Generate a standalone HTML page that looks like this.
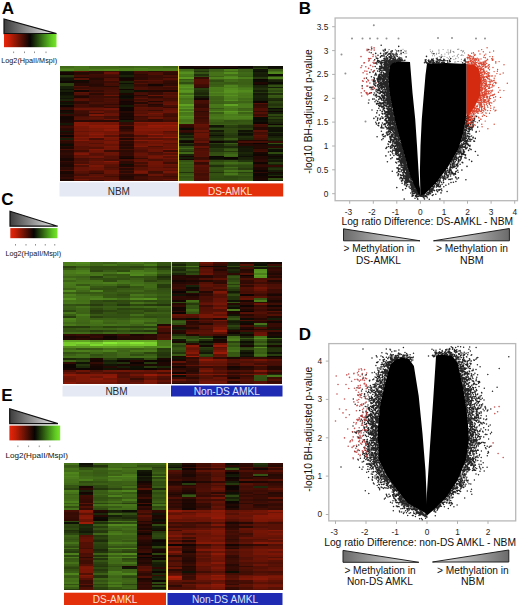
<!DOCTYPE html>
<html><head><meta charset="utf-8"><style>
html,body{margin:0;padding:0;background:#fff}
body{width:520px;height:607px;position:relative;overflow:hidden}
.h{position:absolute}
svg{position:absolute;left:0;top:0}
</style></head><body>
<div class="h" style="left:59.50px;top:66.20px;width:15.41px;height:114.50px;background:linear-gradient(#406918 0 1.5px,#48781b 0 3px,#4f831d 0 4.5px,#1d2a0a 0 6px,#180603 0 7.5px,#100503 0 9px,#25380d 0 10.5px,#192209 0 12px,#111406 0 13.5px,#101105 0 15px,#0f0503 0 16.5px,#2a400f 0 18px,#2a410f 0 19.5px,#181f08 0 21px,#161d08 0 22.5px,#0f1005 0 24px,#181f08 0 25.5px,#0d0c04 0 27px,#0e0f05 0 28.5px,#131706 0 30px,#171e08 0 31.5px,#111406 0 33px,#1a2409 0 34.5px,#210803 0 36px,#0f1105 0 37.5px,#151b07 0 39px,#0d0503 0 40.5px,#2e0a04 0 42px,#350b04 0 43.5px,#0d0c04 0 45px,#1b0703 0 46.5px,#141907 0 48px,#340b04 0 49.5px,#140603 0 51px,#120603 0 52.5px,#140603 0 54px,#170603 0 55.5px,#1f0803 0 57px,#141807 0 58.5px,#290904 0 60px,#3c0c04 0 61.5px,#2b0904 0 63px,#280903 0 64.5px,#121606 0 66px,#200803 0 67.5px,#340b04 0 69px,#0d0503 0 70.5px,#350b04 0 72px,#161c07 0 73.5px,#3b0c04 0 75px,#2b0a04 0 76.5px,#200803 0 78px,#0c0b04 0 79.5px,#270903 0 81px,#1c0703 0 82.5px,#490e05 0 84px,#290904 0 85.5px,#2e0a04 0 87px,#320b04 0 88.5px,#2a0904 0 90px,#280903 0 91.5px,#1a0703 0 93px,#180703 0 94.5px,#340b04 0 96px,#230803 0 97.5px,#1f0803 0 99px,#1b0703 0 100.5px,#300a04 0 102px,#2d0a04 0 103.5px,#470e05 0 105px,#1c0703 0 106.5px,#180703 0 108px,#280903 0 109.5px,#230803 0 111px,#340b04 0 112.5px,#1d0703 0 114px,#200803 0 114.5px)"></div>
<div class="h" style="left:74.31px;top:66.20px;width:15.41px;height:114.50px;background:linear-gradient(#47751a 0 1.5px,#49781b 0 3px,#48771b 0 4.5px,#581105 0 6px,#250903 0 7.5px,#2b0a04 0 9px,#430d04 0 10.5px,#210803 0 12px,#571105 0 13.5px,#0d0d04 0 15px,#190703 0 16.5px,#250903 0 18px,#270903 0 19.5px,#4d0f05 0 21px,#390c04 0 22.5px,#521005 0 24px,#140603 0 25.5px,#5e1205 0 27px,#501005 0 28.5px,#330b04 0 30px,#210803 0 31.5px,#4e0f05 0 33px,#591105 0 34.5px,#310b04 0 36px,#2f0a04 0 37.5px,#490e05 0 39px,#410d04 0 40.5px,#4b0f05 0 42px,#691306 0 43.5px,#470e05 0 45px,#400d04 0 46.5px,#3d0c04 0 48px,#360b04 0 49.5px,#490e05 0 51px,#531005 0 52.5px,#571105 0 54px,#2a0904 0 55.5px,#891907 0 57px,#831807 0 58.5px,#881807 0 60px,#781606 0 61.5px,#721506 0 63px,#771606 0 64.5px,#651306 0 66px,#771606 0 67.5px,#751506 0 69px,#6b1406 0 70.5px,#841807 0 72px,#711506 0 73.5px,#851807 0 75px,#611205 0 76.5px,#651306 0 78px,#641306 0 79.5px,#561005 0 81px,#581105 0 82.5px,#5d1105 0 84px,#430d04 0 85.5px,#691406 0 87px,#801706 0 88.5px,#5e1205 0 90px,#631306 0 91.5px,#460e05 0 93px,#490e05 0 94.5px,#531005 0 96px,#4c0f05 0 97.5px,#781606 0 99px,#4e0f05 0 100.5px,#641306 0 102px,#651306 0 103.5px,#671306 0 105px,#581105 0 106.5px,#4f0f05 0 108px,#420d04 0 109.5px,#611205 0 111px,#551005 0 112.5px,#701506 0 114px,#4f0f05 0 114.5px)"></div>
<div class="h" style="left:89.12px;top:66.20px;width:15.41px;height:114.50px;background:linear-gradient(#406918 0 1.5px,#447019 0 3px,#4d7f1c 0 4.5px,#310b04 0 6px,#2e0a04 0 7.5px,#3f0d04 0 9px,#3a0c04 0 10.5px,#340b04 0 12px,#250903 0 13.5px,#310b04 0 15px,#300a04 0 16.5px,#2e0a04 0 18px,#260903 0 19.5px,#2b0a04 0 21px,#3e0d04 0 22.5px,#430d04 0 24px,#340b04 0 25.5px,#4a0e05 0 27px,#2c0a04 0 28.5px,#420d04 0 30px,#3d0c04 0 31.5px,#420d04 0 33px,#440d04 0 34.5px,#3d0c04 0 36px,#4a0f05 0 37.5px,#390c04 0 39px,#350b04 0 40.5px,#4f0f05 0 42px,#661306 0 43.5px,#500f05 0 45px,#681306 0 46.5px,#3d0c04 0 48px,#7f1706 0 49.5px,#4f0f05 0 51px,#5e1205 0 52.5px,#551005 0 54px,#2a0904 0 55.5px,#7b1606 0 57px,#791606 0 58.5px,#911a07 0 60px,#8a1907 0 61.5px,#7c1706 0 63px,#7d1706 0 64.5px,#731506 0 66px,#811707 0 67.5px,#8e1907 0 69px,#7a1606 0 70.5px,#8c1907 0 72px,#480e05 0 73.5px,#6c1406 0 75px,#681306 0 76.5px,#541005 0 78px,#6a1406 0 79.5px,#641306 0 81px,#521005 0 82.5px,#821707 0 84px,#721506 0 85.5px,#6e1406 0 87px,#561005 0 88.5px,#591105 0 90px,#6f1406 0 91.5px,#4e0f05 0 93px,#581105 0 94.5px,#6c1406 0 96px,#641306 0 97.5px,#601205 0 99px,#791606 0 100.5px,#6d1406 0 102px,#701506 0 103.5px,#5c1105 0 105px,#470e05 0 106.5px,#350b04 0 108px,#5a1105 0 109.5px,#661306 0 111px,#561005 0 112.5px,#5d1205 0 114px,#310b04 0 114.5px)"></div>
<div class="h" style="left:103.94px;top:66.20px;width:15.41px;height:114.50px;background:linear-gradient(#406817 0 1.5px,#457119 0 3px,#4f841d 0 4.5px,#3e0d04 0 6px,#691306 0 7.5px,#4b0f05 0 9px,#410d04 0 10.5px,#370b04 0 12px,#4e0f05 0 13.5px,#571105 0 15px,#3b0c04 0 16.5px,#4a0e05 0 18px,#440e04 0 19.5px,#250903 0 21px,#430d04 0 22.5px,#440e04 0 24px,#470e05 0 25.5px,#4f0f05 0 27px,#450e04 0 28.5px,#6b1406 0 30px,#390c04 0 31.5px,#501005 0 33px,#4a0e05 0 34.5px,#500f05 0 36px,#470e05 0 37.5px,#340b04 0 39px,#4a0e05 0 40.5px,#350b04 0 42px,#6f1406 0 43.5px,#581105 0 45px,#551005 0 46.5px,#641306 0 48px,#681306 0 49.5px,#450e04 0 51px,#490e05 0 52.5px,#6e1406 0 54px,#2a0904 0 55.5px,#791606 0 57px,#751506 0 58.5px,#961b07 0 60px,#8d1907 0 61.5px,#811707 0 63px,#8f1a07 0 64.5px,#751506 0 66px,#751506 0 67.5px,#801706 0 69px,#5a1105 0 70.5px,#7d1706 0 72px,#741506 0 73.5px,#651306 0 75px,#791606 0 76.5px,#751506 0 78px,#661306 0 79.5px,#791606 0 81px,#711506 0 82.5px,#711506 0 84px,#3b0c04 0 85.5px,#6d1406 0 87px,#6a1406 0 88.5px,#5f1205 0 90px,#541005 0 91.5px,#561005 0 93px,#470e05 0 94.5px,#881807 0 96px,#6d1406 0 97.5px,#5d1105 0 99px,#581105 0 100.5px,#4c0f05 0 102px,#581105 0 103.5px,#6b1406 0 105px,#6a1406 0 106.5px,#671306 0 108px,#551005 0 109.5px,#440d04 0 111px,#581105 0 112.5px,#5e1205 0 114px,#611205 0 114.5px)"></div>
<div class="h" style="left:118.75px;top:66.20px;width:15.41px;height:114.50px;background:linear-gradient(#3d6316 0 1.5px,#48771a 0 3px,#4a7b1b 0 4.5px,#161c07 0 6px,#101205 0 7.5px,#101205 0 9px,#1a2409 0 10.5px,#0e0e04 0 12px,#130603 0 13.5px,#1c0703 0 15px,#1c270a 0 16.5px,#0e0e05 0 18px,#192309 0 19.5px,#1b2509 0 21px,#1d290a 0 22.5px,#120603 0 24px,#182008 0 25.5px,#171e08 0 27px,#1c0703 0 28.5px,#0e0e04 0 30px,#0c0a04 0 31.5px,#111305 0 33px,#230803 0 34.5px,#120503 0 36px,#170603 0 37.5px,#150603 0 39px,#151a07 0 40.5px,#0f0503 0 42px,#100503 0 43.5px,#0c0503 0 45px,#270903 0 46.5px,#170603 0 48px,#1a0703 0 49.5px,#160603 0 51px,#1b0703 0 52.5px,#100503 0 54px,#161d08 0 55.5px,#340b04 0 57px,#340b04 0 58.5px,#561005 0 60px,#2a0904 0 61.5px,#230803 0 63px,#340b04 0 64.5px,#3f0d04 0 66px,#531005 0 67.5px,#370b04 0 69px,#2f0a04 0 70.5px,#571105 0 72px,#210803 0 73.5px,#501005 0 75px,#2c0a04 0 76.5px,#310a04 0 78px,#230803 0 79.5px,#350b04 0 81px,#250903 0 82.5px,#450e04 0 84px,#2b0a04 0 85.5px,#330b04 0 87px,#340b04 0 88.5px,#350b04 0 90px,#1f0803 0 91.5px,#120603 0 93px,#480e05 0 94.5px,#2e0a04 0 96px,#2e0a04 0 97.5px,#0e0e04 0 99px,#1f0803 0 100.5px,#480e05 0 102px,#280903 0 103.5px,#3e0d04 0 105px,#2b0904 0 106.5px,#440e04 0 108px,#2b0904 0 109.5px,#210803 0 111px,#260903 0 112.5px,#2d0a04 0 114px,#430d04 0 114.5px)"></div>
<div class="h" style="left:133.56px;top:66.20px;width:15.41px;height:114.50px;background:linear-gradient(#3f6817 0 1.5px,#4c7e1c 0 3px,#4b7d1c 0 4.5px,#480e05 0 6px,#3e0d04 0 7.5px,#2c0a04 0 9px,#330b04 0 10.5px,#2b0a04 0 12px,#2d0a04 0 13.5px,#571105 0 15px,#3a0c04 0 16.5px,#521005 0 18px,#350b04 0 19.5px,#3c0c04 0 21px,#4c0f05 0 22.5px,#4a0f05 0 24px,#0f0f05 0 25.5px,#440e04 0 27px,#490e05 0 28.5px,#290904 0 30px,#410d04 0 31.5px,#5b1105 0 33px,#400d04 0 34.5px,#531005 0 36px,#270903 0 37.5px,#511005 0 39px,#430d04 0 40.5px,#5e1205 0 42px,#591105 0 43.5px,#511005 0 45px,#591105 0 46.5px,#521005 0 48px,#641306 0 49.5px,#3d0c04 0 51px,#460e04 0 52.5px,#4a0e05 0 54px,#390c04 0 55.5px,#871807 0 57px,#741506 0 58.5px,#7c1706 0 60px,#851807 0 61.5px,#7e1706 0 63px,#851807 0 64.5px,#7b1606 0 66px,#7b1606 0 67.5px,#7a1606 0 69px,#4f0f05 0 70.5px,#731506 0 72px,#5e1205 0 73.5px,#881807 0 75px,#5e1205 0 76.5px,#681306 0 78px,#701506 0 79.5px,#7d1706 0 81px,#5b1105 0 82.5px,#561005 0 84px,#4d0f05 0 85.5px,#591105 0 87px,#661306 0 88.5px,#651306 0 90px,#591105 0 91.5px,#390c04 0 93px,#601205 0 94.5px,#681306 0 96px,#440e04 0 97.5px,#5c1105 0 99px,#430d04 0 100.5px,#5a1105 0 102px,#571105 0 103.5px,#661306 0 105px,#7a1606 0 106.5px,#6c1406 0 108px,#2f0a04 0 109.5px,#3d0c04 0 111px,#430d04 0 112.5px,#3c0c04 0 114px,#440e04 0 114.5px)"></div>
<div class="h" style="left:148.38px;top:66.20px;width:15.41px;height:114.50px;background:linear-gradient(#426c18 0 1.5px,#47741a 0 3px,#4b7c1c 0 4.5px,#2e0a04 0 6px,#4c0f05 0 7.5px,#4f0f05 0 9px,#390c04 0 10.5px,#380c04 0 12px,#3f0d04 0 13.5px,#561005 0 15px,#470e05 0 16.5px,#3e0d04 0 18px,#160603 0 19.5px,#360b04 0 21px,#3f0d04 0 22.5px,#440e04 0 24px,#220803 0 25.5px,#370b04 0 27px,#360b04 0 28.5px,#6a1406 0 30px,#2f0a04 0 31.5px,#440e04 0 33px,#4f0f05 0 34.5px,#220803 0 36px,#480e05 0 37.5px,#230803 0 39px,#2f0a04 0 40.5px,#591105 0 42px,#561005 0 43.5px,#390c04 0 45px,#5e1205 0 46.5px,#741506 0 48px,#631306 0 49.5px,#521005 0 51px,#6a1406 0 52.5px,#320b04 0 54px,#330b04 0 55.5px,#891907 0 57px,#7f1706 0 58.5px,#991b07 0 60px,#8e1907 0 61.5px,#7e1706 0 63px,#851807 0 64.5px,#781606 0 66px,#741506 0 67.5px,#931a07 0 69px,#641306 0 70.5px,#851807 0 72px,#591105 0 73.5px,#831807 0 75px,#701506 0 76.5px,#6b1406 0 78px,#761606 0 79.5px,#4c0f05 0 81px,#621205 0 82.5px,#6d1406 0 84px,#681306 0 85.5px,#490e05 0 87px,#511005 0 88.5px,#6b1406 0 90px,#741506 0 91.5px,#691306 0 93px,#4a0f05 0 94.5px,#701506 0 96px,#701506 0 97.5px,#701506 0 99px,#6b1406 0 100.5px,#5f1205 0 102px,#691306 0 103.5px,#661306 0 105px,#3e0d04 0 106.5px,#460e05 0 108px,#671306 0 109.5px,#470e05 0 111px,#500f05 0 112.5px,#521005 0 114px,#420d04 0 114.5px)"></div>
<div class="h" style="left:163.19px;top:66.20px;width:15.41px;height:114.50px;background:linear-gradient(#3c6216 0 1.5px,#46741a 0 3px,#4a7a1b 0 4.5px,#3f0d04 0 6px,#320b04 0 7.5px,#2e0a04 0 9px,#4a0f05 0 10.5px,#370b04 0 12px,#551005 0 13.5px,#3d0c04 0 15px,#320b04 0 16.5px,#2b0a04 0 18px,#300a04 0 19.5px,#531005 0 21px,#3a0c04 0 22.5px,#410d04 0 24px,#1f0803 0 25.5px,#5a1105 0 27px,#4b0f05 0 28.5px,#5b1105 0 30px,#4f0f05 0 31.5px,#3f0d04 0 33px,#450e04 0 34.5px,#561005 0 36px,#601205 0 37.5px,#691306 0 39px,#470e05 0 40.5px,#370b04 0 42px,#5f1205 0 43.5px,#681306 0 45px,#691406 0 46.5px,#490e05 0 48px,#440d04 0 49.5px,#3d0c04 0 51px,#521005 0 52.5px,#4b0f05 0 54px,#400d04 0 55.5px,#8a1907 0 57px,#7f1706 0 58.5px,#991b07 0 60px,#891907 0 61.5px,#821707 0 63px,#851807 0 64.5px,#5a1105 0 66px,#671306 0 67.5px,#771606 0 69px,#701506 0 70.5px,#921a07 0 72px,#5e1205 0 73.5px,#6c1406 0 75px,#771606 0 76.5px,#5a1105 0 78px,#681306 0 79.5px,#6d1406 0 81px,#661306 0 82.5px,#801706 0 84px,#3c0c04 0 85.5px,#751506 0 87px,#581105 0 88.5px,#791606 0 90px,#5a1105 0 91.5px,#6e1406 0 93px,#5b1105 0 94.5px,#5a1105 0 96px,#3f0d04 0 97.5px,#6b1406 0 99px,#5f1205 0 100.5px,#500f05 0 102px,#681306 0 103.5px,#5b1105 0 105px,#761606 0 106.5px,#591105 0 108px,#500f05 0 109.5px,#3a0c04 0 111px,#4c0f05 0 112.5px,#631205 0 114px,#480e05 0 114.5px)"></div>
<div class="h" style="left:179.30px;top:66.20px;width:15.39px;height:114.50px;background:linear-gradient(#130603 0 1.6px,#101205 0 3.2px,#426c18 0 4.8px,#4b7d1c 0 6.4px,#558f20 0 8px,#4b7c1c 0 9.6px,#47761a 0 11.2px,#5a9721 0 12.8px,#385914 0 14.4px,#416a18 0 16px,#314e12 0 17.6px,#46741a 0 19.2px,#538b1f 0 20.8px,#599621 0 22.4px,#4f831d 0 24px,#599521 0 25.6px,#558e1f 0 27.2px,#426c18 0 28.8px,#579120 0 30.4px,#4e811d 0 32px,#457219 0 33.6px,#4a7b1b 0 35.2px,#49791b 0 36.8px,#48771b 0 38.4px,#5fa023 0 40px,#50861e 0 41.6px,#589421 0 43.2px,#46741a 0 44.8px,#599621 0 46.4px,#47751a 0 48px,#4a7b1b 0 49.6px,#569020 0 51.2px,#50861e 0 52.8px,#47751a 0 54.4px,#46731a 0 56px,#4c7e1c 0 57.6px,#3f0d04 0 59.2px,#340b04 0 60.8px,#290904 0 62.4px,#0d0c04 0 64px,#380c04 0 65.6px,#2e0a04 0 67.2px,#121506 0 68.8px,#21300c 0 70.4px,#181f08 0 72px,#293f0f 0 73.6px,#101205 0 75.2px,#120603 0 76.8px,#25380d 0 78.4px,#161d08 0 80px,#304c12 0 81.6px,#3f6717 0 83.2px,#2e4811 0 84.8px,#24360d 0 86.4px,#416a18 0 88px,#192209 0 89.6px,#170603 0 91.2px,#161d08 0 92.8px,#190703 0 94.4px,#335113 0 96px,#3c6116 0 97.6px,#355513 0 99.2px,#395c15 0 100.8px,#335112 0 102.4px,#375914 0 104px,#385914 0 105.6px,#22330c 0 107.2px,#385914 0 108.8px,#3f6617 0 110.4px,#345313 0 112px,#385914 0 113.6px,#446f19 0 114.5px)"></div>
<div class="h" style="left:194.09px;top:66.20px;width:15.39px;height:114.50px;background:linear-gradient(#1b0703 0 1.6px,#100503 0 3.2px,#2c4410 0 4.8px,#23340c 0 6.4px,#355413 0 8px,#21300c 0 9.6px,#2d4610 0 11.2px,#350b04 0 12.8px,#551005 0 14.4px,#531005 0 16px,#541005 0 17.6px,#440d04 0 19.2px,#3d0c04 0 20.8px,#300a04 0 22.4px,#283d0e 0 24px,#22330c 0 25.6px,#1e2a0a 0 27.2px,#1b2609 0 28.8px,#273b0e 0 30.4px,#151b07 0 32px,#150603 0 33.6px,#460e05 0 35.2px,#470e05 0 36.8px,#420d04 0 38.4px,#350b04 0 40px,#330b04 0 41.6px,#4c0f05 0 43.2px,#460e05 0 44.8px,#300a04 0 46.4px,#3f0d04 0 48px,#3e0d04 0 49.6px,#4d0f05 0 51.2px,#3a0c04 0 52.8px,#440e04 0 54.4px,#440e04 0 56px,#4c0f05 0 57.6px,#661306 0 59.2px,#611205 0 60.8px,#591105 0 62.4px,#531005 0 64px,#691406 0 65.6px,#501005 0 67.2px,#6a1406 0 68.8px,#681306 0 70.4px,#661306 0 72px,#581105 0 73.6px,#500f05 0 75.2px,#651306 0 76.8px,#380c04 0 78.4px,#3d0c04 0 80px,#631205 0 81.6px,#450e04 0 83.2px,#500f05 0 84.8px,#571105 0 86.4px,#541005 0 88px,#531005 0 89.6px,#581105 0 91.2px,#390c04 0 92.8px,#3f0d04 0 94.4px,#681306 0 96px,#360b04 0 97.6px,#3f0d04 0 99.2px,#5b1105 0 100.8px,#501005 0 102.4px,#521005 0 104px,#4d0f05 0 105.6px,#531005 0 107.2px,#420d04 0 108.8px,#450e04 0 110.4px,#4c0f05 0 112px,#470e05 0 113.6px,#450e04 0 114.5px)"></div>
<div class="h" style="left:208.87px;top:66.20px;width:15.39px;height:114.50px;background:linear-gradient(#220803 0 1.6px,#0f1005 0 3.2px,#3b5f16 0 4.8px,#3d6316 0 6.4px,#46731a 0 8px,#457119 0 9.6px,#3c6116 0 11.2px,#4d801c 0 12.8px,#3c6116 0 14.4px,#314d12 0 16px,#3a5e15 0 17.6px,#375914 0 19.2px,#3b5f15 0 20.8px,#4b7c1c 0 22.4px,#4a7b1b 0 24px,#49781b 0 25.6px,#50851e 0 27.2px,#48771b 0 28.8px,#4c7e1c 0 30.4px,#3d6316 0 32px,#3b6016 0 33.6px,#3f6717 0 35.2px,#3c6116 0 36.8px,#3a5e15 0 38.4px,#49781b 0 40px,#47751a 0 41.6px,#375814 0 43.2px,#416b18 0 44.8px,#51871e 0 46.4px,#395d15 0 48px,#457119 0 49.6px,#47751a 0 51.2px,#48781b 0 52.8px,#426b18 0 54.4px,#3c6116 0 56px,#365614 0 57.6px,#3c6016 0 59.2px,#121506 0 60.8px,#1c280a 0 62.4px,#2e4811 0 64px,#141907 0 65.6px,#22330c 0 67.2px,#1b2509 0 68.8px,#0f1005 0 70.4px,#1c280a 0 72px,#273b0e 0 73.6px,#1d290a 0 75.2px,#100503 0 76.8px,#293f0f 0 78.4px,#1a2409 0 80px,#1b2609 0 81.6px,#283d0e 0 83.2px,#26390e 0 84.8px,#24360d 0 86.4px,#314d12 0 88px,#335012 0 89.6px,#0d0503 0 91.2px,#0d0c04 0 92.8px,#151b07 0 94.4px,#2d4610 0 96px,#385a15 0 97.6px,#314e12 0 99.2px,#21300c 0 100.8px,#335012 0 102.4px,#345213 0 104px,#324f12 0 105.6px,#23340c 0 107.2px,#345313 0 108.8px,#345313 0 110.4px,#324f12 0 112px,#304b11 0 113.6px,#3e6417 0 114.5px)"></div>
<div class="h" style="left:223.66px;top:66.20px;width:15.39px;height:114.50px;background:linear-gradient(#1b0703 0 1.6px,#0c0503 0 3.2px,#4c7e1c 0 4.8px,#426c18 0 6.4px,#548e1f 0 8px,#436d18 0 9.6px,#4e821d 0 11.2px,#538c1f 0 12.8px,#406817 0 14.4px,#416b18 0 16px,#375914 0 17.6px,#3f6717 0 19.2px,#4f831d 0 20.8px,#4c7f1c 0 22.4px,#538b1f 0 24px,#579220 0 25.6px,#579120 0 27.2px,#4e821d 0 28.8px,#569120 0 30.4px,#4e811d 0 32px,#4b7c1c 0 33.6px,#548d1f 0 35.2px,#3f6717 0 36.8px,#3e6517 0 38.4px,#60a224 0 40px,#4c7f1c 0 41.6px,#46741a 0 43.2px,#48771a 0 44.8px,#5c9b22 0 46.4px,#538b1f 0 48px,#4b7c1c 0 49.6px,#4e821d 0 51.2px,#4d801c 0 52.8px,#48761a 0 54.4px,#335113 0 56px,#365714 0 57.6px,#3a5e15 0 59.2px,#2b420f 0 60.8px,#273c0e 0 62.4px,#2f4911 0 64px,#2e4711 0 65.6px,#2f4911 0 67.2px,#293e0f 0 68.8px,#24360d 0 70.4px,#263a0e 0 72px,#385914 0 73.6px,#22320c 0 75.2px,#131807 0 76.8px,#395d15 0 78.4px,#2a400f 0 80px,#1e2b0b 0 81.6px,#314e12 0 83.2px,#385914 0 84.8px,#26390d 0 86.4px,#395c15 0 88px,#3f6817 0 89.6px,#3c6216 0 91.2px,#0c0503 0 92.8px,#111305 0 94.4px,#335113 0 96px,#446f19 0 97.6px,#395b15 0 99.2px,#304c11 0 100.8px,#416b18 0 102.4px,#375814 0 104px,#47751a 0 105.6px,#365614 0 107.2px,#48761a 0 108.8px,#3b5f15 0 110.4px,#2e4811 0 112px,#304b11 0 113.6px,#3b5f15 0 114.5px)"></div>
<div class="h" style="left:238.44px;top:66.20px;width:15.39px;height:114.50px;background:linear-gradient(#0e0503 0 1.6px,#141a07 0 3.2px,#3c6116 0 4.8px,#3a5e15 0 6.4px,#406918 0 8px,#3e6617 0 9.6px,#395d15 0 11.2px,#4b7c1c 0 12.8px,#3b5f15 0 14.4px,#3b6016 0 16px,#3b5f15 0 17.6px,#3c6116 0 19.2px,#3f6717 0 20.8px,#46741a 0 22.4px,#4b7c1c 0 24px,#528a1e 0 25.6px,#4e821d 0 27.2px,#49791b 0 28.8px,#47751a 0 30.4px,#49781b 0 32px,#406918 0 33.6px,#457119 0 35.2px,#3d6316 0 36.8px,#45721a 0 38.4px,#4a7b1b 0 40px,#4a7a1b 0 41.6px,#3c6016 0 43.2px,#3e6517 0 44.8px,#51871e 0 46.4px,#3c6216 0 48px,#46731a 0 49.6px,#4f831d 0 51.2px,#4c7e1c 0 52.8px,#447019 0 54.4px,#355513 0 56px,#375914 0 57.6px,#335012 0 59.2px,#23340c 0 60.8px,#22320c 0 62.4px,#2b420f 0 64px,#101205 0 65.6px,#1a2409 0 67.2px,#0f1005 0 68.8px,#131806 0 70.4px,#202e0b 0 72px,#1b2609 0 73.6px,#220803 0 75.2px,#490e05 0 76.8px,#1c0703 0 78.4px,#270903 0 80px,#121506 0 81.6px,#151b07 0 83.2px,#141a07 0 84.8px,#141907 0 86.4px,#1b2609 0 88px,#151c07 0 89.6px,#0f0f05 0 91.2px,#192108 0 92.8px,#1a2409 0 94.4px,#23350d 0 96px,#3d6416 0 97.6px,#345213 0 99.2px,#2f4a11 0 100.8px,#2e4811 0 102.4px,#273b0e 0 104px,#416a18 0 105.6px,#293f0f 0 107.2px,#375814 0 108.8px,#3b5f15 0 110.4px,#314e12 0 112px,#345213 0 113.6px,#3e6517 0 114.5px)"></div>
<div class="h" style="left:253.23px;top:66.20px;width:15.39px;height:114.50px;background:linear-gradient(#1a2309 0 1.6px,#283e0e 0 3.2px,#121606 0 4.8px,#0f1005 0 6.4px,#182008 0 8px,#151b07 0 9.6px,#171e08 0 11.2px,#26390e 0 12.8px,#0e0503 0 14.4px,#0d0c04 0 16px,#220803 0 17.6px,#140603 0 19.2px,#192209 0 20.8px,#1b2609 0 22.4px,#22310c 0 24px,#171e08 0 25.6px,#24360d 0 27.2px,#141907 0 28.8px,#1a2309 0 30.4px,#192309 0 32px,#151c07 0 33.6px,#131807 0 35.2px,#0e0503 0 36.8px,#551005 0 38.4px,#350b04 0 40px,#390c04 0 41.6px,#500f05 0 43.2px,#511005 0 44.8px,#350b04 0 46.4px,#541005 0 48px,#3b0c04 0 49.6px,#541005 0 51.2px,#0c0b04 0 52.8px,#0c0a04 0 54.4px,#0e0f05 0 56px,#0f0503 0 57.6px,#4c0f05 0 59.2px,#420d04 0 60.8px,#290904 0 62.4px,#280903 0 64px,#5b1105 0 65.6px,#3f0d04 0 67.2px,#470e05 0 68.8px,#5d1105 0 70.4px,#521005 0 72px,#470e05 0 73.6px,#200803 0 75.2px,#470e05 0 76.8px,#0d0503 0 78.4px,#240803 0 80px,#250903 0 81.6px,#220803 0 83.2px,#3a0c04 0 84.8px,#440e04 0 86.4px,#180703 0 88px,#120603 0 89.6px,#260903 0 91.2px,#230803 0 92.8px,#2a0904 0 94.4px,#300a04 0 96px,#120603 0 97.6px,#2c0a04 0 99.2px,#330b04 0 100.8px,#210803 0 102.4px,#1f0803 0 104px,#100503 0 105.6px,#2f0a04 0 107.2px,#110503 0 108.8px,#0f0503 0 110.4px,#180603 0 112px,#1c0703 0 113.6px,#120603 0 114.5px)"></div>
<div class="h" style="left:268.01px;top:66.20px;width:15.39px;height:114.50px;background:linear-gradient(#0c0b04 0 1.6px,#111406 0 3.2px,#385a14 0 4.8px,#447019 0 6.4px,#50851e 0 8px,#0c0b04 0 9.6px,#2e4711 0 11.2px,#4a7b1b 0 12.8px,#23330c 0 14.4px,#192209 0 16px,#0d0c04 0 17.6px,#1f2d0b 0 19.2px,#325012 0 20.8px,#161d08 0 22.4px,#365614 0 24px,#2e4811 0 25.6px,#3a5e15 0 27.2px,#21310c 0 28.8px,#395b15 0 30.4px,#355513 0 32px,#1f2c0b 0 33.6px,#1c270a 0 35.2px,#2c4510 0 36.8px,#263a0e 0 38.4px,#23340d 0 40px,#2b420f 0 41.6px,#0c0a04 0 43.2px,#171f08 0 44.8px,#100503 0 46.4px,#151c07 0 48px,#2e4711 0 49.6px,#1d290a 0 51.2px,#2b420f 0 52.8px,#1b2509 0 54.4px,#202e0b 0 56px,#1a2309 0 57.6px,#110503 0 59.2px,#2a410f 0 60.8px,#111306 0 62.4px,#101205 0 64px,#0f1005 0 65.6px,#1e2b0b 0 67.2px,#111406 0 68.8px,#0e0e04 0 70.4px,#182008 0 72px,#202f0b 0 73.6px,#182108 0 75.2px,#380c04 0 76.8px,#335012 0 78.4px,#121506 0 80px,#2c0a04 0 81.6px,#23340d 0 83.2px,#0e0f05 0 84.8px,#0d0c04 0 86.4px,#2f4a11 0 88px,#111406 0 89.6px,#130603 0 91.2px,#0f1105 0 92.8px,#192309 0 94.4px,#141807 0 96px,#263a0e 0 97.6px,#182108 0 99.2px,#340b04 0 100.8px,#1b2509 0 102.4px,#22320c 0 104px,#161c07 0 105.6px,#180603 0 107.2px,#111305 0 108.8px,#1e2b0b 0 110.4px,#120603 0 112px,#2f4a11 0 113.6px,#1c270a 0 114.5px)"></div>
<div class="h" style="left:177.9px;top:66.2px;width:1.1px;height:114.5px;background:#d6cf3c"></div>
<div class="h" style="left:62.50px;top:262.00px;width:14.11px;height:121.50px;background:linear-gradient(#4c7f1c 0 2px,#4c7f1c 0 4px,#2c4310 0 6px,#375814 0 8px,#49781b 0 10px,#4a7a1b 0 12px,#46731a 0 14px,#3d6416 0 16px,#48761a 0 18px,#3d6316 0 20px,#4a7b1b 0 22px,#47751a 0 24px,#46731a 0 26px,#3b6016 0 28px,#538a1f 0 30px,#3b5f15 0 32px,#4c7f1c 0 34px,#47751a 0 36px,#569020 0 38px,#457219 0 40px,#48761a 0 42px,#345213 0 44px,#3c6116 0 46px,#385b15 0 48px,#2e4811 0 50px,#48761a 0 52px,#395c15 0 54px,#293e0f 0 56px,#4e821d 0 58px,#4a7b1b 0 60px,#416b18 0 62px,#49781b 0 64px,#263a0e 0 66px,#355513 0 68px,#345213 0 70px,#406918 0 72px,#310b04 0 74px,#1a0703 0 76px,#200803 0 78px,#61a524 0 80px,#77cc2c 0 82px,#78ce2d 0 84px,#558e1f 0 86px,#426b18 0 88px,#4b7c1c 0 90px,#345213 0 92px,#3b6016 0 94px,#446f19 0 96px,#1c270a 0 98px,#3c6116 0 100px,#310b04 0 102px,#0f0503 0 104px,#0c0503 0 106px,#150603 0 108px,#4b0f05 0 110px,#641306 0 112px,#8d1907 0 114px,#721506 0 116px,#6e1406 0 118px,#741506 0 120px,#871807 0 121.5px)"></div>
<div class="h" style="left:76.01px;top:262.00px;width:14.11px;height:121.50px;background:linear-gradient(#52891e 0 2px,#4b7c1c 0 4px,#375914 0 6px,#426c18 0 8px,#4c7d1c 0 10px,#4f841d 0 12px,#447019 0 14px,#3b5f16 0 16px,#3f6717 0 18px,#447019 0 20px,#47751a 0 22px,#375814 0 24px,#4b7c1c 0 26px,#457119 0 28px,#3f6717 0 30px,#365614 0 32px,#416b18 0 34px,#45721a 0 36px,#46731a 0 38px,#436f19 0 40px,#46731a 0 42px,#314d12 0 44px,#447019 0 46px,#3e6517 0 48px,#3d6416 0 50px,#3c6116 0 52px,#4a7b1b 0 54px,#426c18 0 56px,#426b18 0 58px,#406817 0 60px,#3e6417 0 62px,#426c18 0 64px,#273b0e 0 66px,#395b15 0 68px,#325012 0 70px,#416a18 0 72px,#390c04 0 74px,#1f0803 0 76px,#2b0a04 0 78px,#60a224 0 80px,#7bd32e 0 82px,#6bb628 0 84px,#589521 0 86px,#375814 0 88px,#4d7f1c 0 90px,#375914 0 92px,#436e19 0 94px,#436e19 0 96px,#21310c 0 98px,#2d4610 0 100px,#111306 0 102px,#24350d 0 104px,#1c280a 0 106px,#0c0503 0 108px,#6c1406 0 110px,#4d0f05 0 112px,#831807 0 114px,#7e1706 0 116px,#7d1706 0 118px,#7e1706 0 120px,#731506 0 121.5px)"></div>
<div class="h" style="left:89.53px;top:262.00px;width:14.11px;height:121.50px;background:linear-gradient(#406918 0 2px,#406817 0 4px,#304b11 0 6px,#324f12 0 8px,#2e4710 0 10px,#46731a 0 12px,#47761a 0 14px,#29400f 0 16px,#335113 0 18px,#457219 0 20px,#47761a 0 22px,#416a18 0 24px,#375914 0 26px,#314d12 0 28px,#4f831d 0 30px,#375814 0 32px,#3d6216 0 34px,#48761a 0 36px,#4e811d 0 38px,#304c12 0 40px,#324e12 0 42px,#273b0e 0 44px,#375814 0 46px,#2e4711 0 48px,#273b0e 0 50px,#2a410f 0 52px,#375914 0 54px,#2a410f 0 56px,#3c6116 0 58px,#49781b 0 60px,#457219 0 62px,#436e19 0 64px,#355513 0 66px,#3d6316 0 68px,#273b0e 0 70px,#395c15 0 72px,#2b0a04 0 74px,#340b04 0 76px,#200803 0 78px,#558f20 0 80px,#72c32b 0 82px,#7dd82f 0 84px,#5a9822 0 86px,#385a14 0 88px,#46741a 0 90px,#3f6817 0 92px,#325012 0 94px,#375914 0 96px,#1d0703 0 98px,#160603 0 100px,#320b04 0 102px,#1c0703 0 104px,#150603 0 106px,#120603 0 108px,#4e0f05 0 110px,#5e1205 0 112px,#811707 0 114px,#6d1406 0 116px,#881807 0 118px,#7d1706 0 120px,#771606 0 121.5px)"></div>
<div class="h" style="left:103.04px;top:262.00px;width:14.11px;height:121.50px;background:linear-gradient(#3c6116 0 2px,#48761a 0 4px,#2f4911 0 6px,#335012 0 8px,#385b15 0 10px,#45721a 0 12px,#365714 0 14px,#3c6216 0 16px,#314e12 0 18px,#304c12 0 20px,#4c7e1c 0 22px,#426c18 0 24px,#345213 0 26px,#324f12 0 28px,#355413 0 30px,#395d15 0 32px,#365614 0 34px,#365614 0 36px,#4b7c1c 0 38px,#2b4310 0 40px,#355513 0 42px,#314d12 0 44px,#3a5d15 0 46px,#375714 0 48px,#2c4410 0 50px,#355513 0 52px,#345213 0 54px,#314d12 0 56px,#3c6216 0 58px,#406817 0 60px,#3b6016 0 62px,#46741a 0 64px,#2b420f 0 66px,#3c6216 0 68px,#2c4510 0 70px,#416a18 0 72px,#230803 0 74px,#120603 0 76px,#150603 0 78px,#63a725 0 80px,#87e933 0 82px,#73c52b 0 84px,#5e9f23 0 86px,#436d19 0 88px,#4e821d 0 90px,#395c15 0 92px,#385a14 0 94px,#3a5e15 0 96px,#2b420f 0 98px,#161d08 0 100px,#1d2a0a 0 102px,#121506 0 104px,#250903 0 106px,#111305 0 108px,#691406 0 110px,#4f0f05 0 112px,#851807 0 114px,#8c1907 0 116px,#731506 0 118px,#7e1706 0 120px,#731506 0 121.5px)"></div>
<div class="h" style="left:116.55px;top:262.00px;width:14.11px;height:121.50px;background:linear-gradient(#447019 0 2px,#3e6617 0 4px,#304b11 0 6px,#345313 0 8px,#2f4a11 0 10px,#52891e 0 12px,#355513 0 14px,#365714 0 16px,#325012 0 18px,#436e19 0 20px,#46741a 0 22px,#385914 0 24px,#2a410f 0 26px,#375814 0 28px,#3b6016 0 30px,#355513 0 32px,#304c11 0 34px,#355413 0 36px,#406918 0 38px,#2f4911 0 40px,#304b11 0 42px,#24360d 0 44px,#3a5e15 0 46px,#2c4410 0 48px,#314e12 0 50px,#2f4a11 0 52px,#335113 0 54px,#324e12 0 56px,#395c15 0 58px,#416918 0 60px,#3f6817 0 62px,#436e19 0 64px,#2d4710 0 66px,#406817 0 68px,#324f12 0 70px,#3a5d15 0 72px,#3b0c04 0 74px,#280903 0 76px,#240803 0 78px,#67b026 0 80px,#7bd32e 0 82px,#6fbe29 0 84px,#5c9b22 0 86px,#416a18 0 88px,#3e6517 0 90px,#416b18 0 92px,#3f6717 0 94px,#3f6717 0 96px,#1a2409 0 98px,#100503 0 100px,#22320c 0 102px,#1b0703 0 104px,#171e08 0 106px,#1c0703 0 108px,#711506 0 110px,#480e05 0 112px,#561005 0 114px,#4e0f05 0 116px,#621205 0 118px,#5e1205 0 120px,#5b1105 0 121.5px)"></div>
<div class="h" style="left:130.06px;top:262.00px;width:14.11px;height:121.50px;background:linear-gradient(#49791b 0 2px,#3e6417 0 4px,#2c4510 0 6px,#365614 0 8px,#49791b 0 10px,#4d811d 0 12px,#51881e 0 14px,#314e12 0 16px,#3a5e15 0 18px,#3f6617 0 20px,#436e19 0 22px,#47751a 0 24px,#355513 0 26px,#385a14 0 28px,#3f6717 0 30px,#375814 0 32px,#47761a 0 34px,#3f6717 0 36px,#51871e 0 38px,#325012 0 40px,#46731a 0 42px,#2d4610 0 44px,#3e6617 0 46px,#2d4610 0 48px,#365614 0 50px,#324e12 0 52px,#436e19 0 54px,#365714 0 56px,#426b18 0 58px,#49791b 0 60px,#46721a 0 62px,#3e6417 0 64px,#2c4510 0 66px,#3a5d15 0 68px,#293f0f 0 70px,#416b18 0 72px,#1e0703 0 74px,#280903 0 76px,#260903 0 78px,#63a825 0 80px,#85e532 0 82px,#74c62b 0 84px,#5d9c22 0 86px,#3d6316 0 88px,#49791b 0 90px,#3a5e15 0 92px,#314e12 0 94px,#436e19 0 96px,#192209 0 98px,#290904 0 100px,#0e0503 0 102px,#200803 0 104px,#0f1105 0 106px,#0d0d04 0 108px,#6e1406 0 110px,#531005 0 112px,#731506 0 114px,#591105 0 116px,#390c04 0 118px,#561005 0 120px,#641306 0 121.5px)"></div>
<div class="h" style="left:143.57px;top:262.00px;width:14.11px;height:121.50px;background:linear-gradient(#416a18 0 2px,#4a7b1b 0 4px,#2f4b11 0 6px,#3f6717 0 8px,#436e19 0 10px,#4e821d 0 12px,#447019 0 14px,#325012 0 16px,#335012 0 18px,#2c4510 0 20px,#3e6517 0 22px,#426b18 0 24px,#426b18 0 26px,#3d6316 0 28px,#365714 0 30px,#385a14 0 32px,#406918 0 34px,#3a5e15 0 36px,#569120 0 38px,#2e4811 0 40px,#3e6417 0 42px,#263a0e 0 44px,#436d18 0 46px,#2f4a11 0 48px,#2c4410 0 50px,#3d6216 0 52px,#355513 0 54px,#304b11 0 56px,#426b18 0 58px,#457119 0 60px,#385a15 0 62px,#47751a 0 64px,#29400f 0 66px,#406918 0 68px,#25380d 0 70px,#426d18 0 72px,#290904 0 74px,#2f0a04 0 76px,#2c0a04 0 78px,#63a725 0 80px,#7ad12d 0 82px,#75c92c 0 84px,#52891e 0 86px,#436d19 0 88px,#4a7a1b 0 90px,#2d4610 0 92px,#3a5d15 0 94px,#416a18 0 96px,#2f4911 0 98px,#100503 0 100px,#263a0e 0 102px,#1b0703 0 104px,#263a0e 0 106px,#0e0503 0 108px,#631205 0 110px,#571105 0 112px,#951a07 0 114px,#6a1406 0 116px,#601205 0 118px,#7f1706 0 120px,#791606 0 121.5px)"></div>
<div class="h" style="left:157.09px;top:262.00px;width:14.11px;height:121.50px;background:linear-gradient(#355513 0 2px,#335113 0 4px,#23340c 0 6px,#2c4410 0 8px,#395c15 0 10px,#3d6417 0 12px,#2e4811 0 14px,#202f0b 0 16px,#263a0e 0 18px,#345313 0 20px,#395b15 0 22px,#273c0e 0 24px,#263a0e 0 26px,#314d12 0 28px,#345213 0 30px,#355513 0 32px,#395d15 0 34px,#345213 0 36px,#3a5d15 0 38px,#314e12 0 40px,#314e12 0 42px,#24350d 0 44px,#3e6517 0 46px,#365614 0 48px,#324f12 0 50px,#3a5e15 0 52px,#355513 0 54px,#335112 0 56px,#395d15 0 58px,#3a5d15 0 60px,#3a5e15 0 62px,#240803 0 64px,#5f1205 0 66px,#490e05 0 68px,#480e05 0 70px,#2e0a04 0 72px,#4c0f05 0 74px,#460e05 0 76px,#511005 0 78px,#47751a 0 80px,#49791b 0 82px,#49791b 0 84px,#548d1f 0 86px,#273b0e 0 88px,#2c4410 0 90px,#25380d 0 92px,#23330c 0 94px,#273b0e 0 96px,#1a0703 0 98px,#120603 0 100px,#1f0803 0 102px,#1f0803 0 104px,#1b2609 0 106px,#210803 0 108px,#781606 0 110px,#470e05 0 112px,#7c1606 0 114px,#501005 0 116px,#490e05 0 118px,#611205 0 120px,#4f0f05 0 121.5px)"></div>
<div class="h" style="left:172.00px;top:262.00px;width:14.22px;height:121.50px;background:linear-gradient(#273b0e 0 1.8px,#1a2409 0 3.6px,#355513 0 5.4px,#21300c 0 7.2px,#1c280a 0 9px,#293f0f 0 10.8px,#1b2509 0 12.6px,#200803 0 14.4px,#2a0904 0 16.2px,#260903 0 18px,#130603 0 19.8px,#240803 0 21.6px,#350b04 0 23.4px,#310b04 0 25.2px,#3c0c04 0 27px,#290904 0 28.8px,#0d0503 0 30.6px,#250903 0 32.4px,#111306 0 34.2px,#340b04 0 36px,#2f0a04 0 37.8px,#130603 0 39.6px,#2f4a11 0 41.4px,#260903 0 43.2px,#360b04 0 45px,#140603 0 46.8px,#170603 0 48.6px,#320b04 0 50.4px,#0d0503 0 52.2px,#661306 0 54px,#571105 0 55.8px,#260903 0 57.6px,#2f4a11 0 59.4px,#3a5d15 0 61.2px,#324e12 0 63px,#2c0a04 0 64.8px,#111306 0 66.6px,#192108 0 68.4px,#2c0a04 0 70.2px,#200803 0 72px,#202f0b 0 73.8px,#345313 0 75.6px,#3b6016 0 77.4px,#131706 0 79.2px,#1a0703 0 81px,#365714 0 82.8px,#29400f 0 84.6px,#335113 0 86.4px,#365614 0 88.2px,#304c12 0 90px,#23340c 0 91.8px,#395c15 0 93.6px,#1e0703 0 95.4px,#101205 0 97.2px,#190703 0 99px,#5f1205 0 100.8px,#2a0904 0 102.6px,#480e05 0 104.4px,#130603 0 106.2px,#2e0a04 0 108px,#3f0d04 0 109.8px,#110503 0 111.6px,#811707 0 113.4px,#0c0b04 0 115.2px,#370b04 0 117px,#671306 0 118.8px,#450e04 0 120.6px,#250903 0 121.5px)"></div>
<div class="h" style="left:185.62px;top:262.00px;width:14.22px;height:121.50px;background:linear-gradient(#2f4a11 0 1.8px,#2d4610 0 3.6px,#47751a 0 5.4px,#2b4310 0 7.2px,#365614 0 9px,#273c0e 0 10.8px,#304b11 0 12.6px,#2b0904 0 14.4px,#210803 0 16.2px,#2f0a04 0 18px,#1d0703 0 19.8px,#290903 0 21.6px,#400d04 0 23.4px,#192309 0 25.2px,#0e0d04 0 27px,#1b0703 0 28.8px,#293e0f 0 30.6px,#2a0904 0 32.4px,#170603 0 34.2px,#2b0a04 0 36px,#300a04 0 37.8px,#436f19 0 39.6px,#375914 0 41.4px,#263a0e 0 43.2px,#355413 0 45px,#335113 0 46.8px,#426b18 0 48.6px,#3b6016 0 50.4px,#355413 0 52.2px,#5d1205 0 54px,#531005 0 55.8px,#0d0d04 0 57.6px,#521005 0 59.4px,#2a0904 0 61.2px,#2e0a04 0 63px,#3e0d04 0 64.8px,#270903 0 66.6px,#3a0c04 0 68.4px,#4d0f05 0 70.2px,#601205 0 72px,#270903 0 73.8px,#2d4710 0 75.6px,#304b11 0 77.4px,#385b15 0 79.2px,#21310c 0 81px,#2b0a04 0 82.8px,#8b1907 0 84.6px,#711506 0 86.4px,#681306 0 88.2px,#771606 0 90px,#891907 0 91.8px,#601205 0 93.6px,#9f1c08 0 95.4px,#320b04 0 97.2px,#440e04 0 99px,#350b04 0 100.8px,#3b0c04 0 102.6px,#5d1205 0 104.4px,#300a04 0 106.2px,#2b0a04 0 108px,#270903 0 109.8px,#300a04 0 111.6px,#641306 0 113.4px,#450e04 0 115.2px,#2d0a04 0 117px,#4b0f05 0 118.8px,#3d0c04 0 120.6px,#390c04 0 121.5px)"></div>
<div class="h" style="left:199.25px;top:262.00px;width:14.22px;height:121.50px;background:linear-gradient(#6b1406 0 1.8px,#541005 0 3.6px,#130603 0 5.4px,#521005 0 7.2px,#5f1205 0 9px,#5b1105 0 10.8px,#6b1406 0 12.6px,#2a0904 0 14.4px,#230803 0 16.2px,#4f0f05 0 18px,#200803 0 19.8px,#521005 0 21.6px,#611205 0 23.4px,#5d1205 0 25.2px,#4f0f05 0 27px,#531005 0 28.8px,#230803 0 30.6px,#390c04 0 32.4px,#330b04 0 34.2px,#4a0e05 0 36px,#460e05 0 37.8px,#4c0f05 0 39.6px,#5b1105 0 41.4px,#651306 0 43.2px,#3d0c04 0 45px,#551005 0 46.8px,#541005 0 48.6px,#581105 0 50.4px,#5c1105 0 52.2px,#781606 0 54px,#781606 0 55.8px,#3f0d04 0 57.6px,#561005 0 59.4px,#470e05 0 61.2px,#260903 0 63px,#571105 0 64.8px,#541005 0 66.6px,#470e05 0 68.4px,#581105 0 70.2px,#5b1105 0 72px,#4d0f05 0 73.8px,#1d2a0a 0 75.6px,#436d18 0 77.4px,#22320c 0 79.2px,#0e0d04 0 81px,#1c280a 0 82.8px,#130603 0 84.6px,#293f0f 0 86.4px,#24350d 0 88.2px,#1d290a 0 90px,#141907 0 91.8px,#2f4a11 0 93.6px,#273b0e 0 95.4px,#631306 0 97.2px,#8d1907 0 99px,#6b1406 0 100.8px,#5f1205 0 102.6px,#751506 0 104.4px,#3c0c04 0 106.2px,#671306 0 108px,#7c1706 0 109.8px,#571105 0 111.6px,#801707 0 113.4px,#591105 0 115.2px,#531005 0 117px,#641306 0 118.8px,#6f1406 0 120.6px,#721506 0 121.5px)"></div>
<div class="h" style="left:212.88px;top:262.00px;width:14.22px;height:121.50px;background:linear-gradient(#430d04 0 1.8px,#360b04 0 3.6px,#0e0e05 0 5.4px,#320b04 0 7.2px,#240803 0 9px,#3a0c04 0 10.8px,#420d04 0 12.6px,#380c04 0 14.4px,#3c0c04 0 16.2px,#5c1105 0 18px,#330b04 0 19.8px,#2e0a04 0 21.6px,#5a1105 0 23.4px,#4e0f05 0 25.2px,#5e1205 0 27px,#430d04 0 28.8px,#7d1706 0 30.6px,#701506 0 32.4px,#571105 0 34.2px,#541005 0 36px,#641306 0 37.8px,#641306 0 39.6px,#6d1406 0 41.4px,#761606 0 43.2px,#5e1205 0 45px,#751506 0 46.8px,#501005 0 48.6px,#561005 0 50.4px,#781606 0 52.2px,#611205 0 54px,#801706 0 55.8px,#240803 0 57.6px,#751506 0 59.4px,#511005 0 61.2px,#561005 0 63px,#651306 0 64.8px,#791606 0 66.6px,#791606 0 68.4px,#971b07 0 70.2px,#611205 0 72px,#400d04 0 73.8px,#0d0503 0 75.6px,#192108 0 77.4px,#190703 0 79.2px,#1c0703 0 81px,#6e1406 0 82.8px,#941a07 0 84.6px,#5b1105 0 86.4px,#6a1406 0 88.2px,#791606 0 90px,#991b07 0 91.8px,#5e1205 0 93.6px,#681306 0 95.4px,#350b04 0 97.2px,#7a1606 0 99px,#671306 0 100.8px,#601205 0 102.6px,#6a1406 0 104.4px,#440d04 0 106.2px,#490e05 0 108px,#5e1205 0 109.8px,#4f0f05 0 111.6px,#7e1706 0 113.4px,#410d04 0 115.2px,#681306 0 117px,#611205 0 118.8px,#711506 0 120.6px,#641306 0 121.5px)"></div>
<div class="h" style="left:226.50px;top:262.00px;width:14.22px;height:121.50px;background:linear-gradient(#192209 0 1.8px,#1b260a 0 3.6px,#304b11 0 5.4px,#131807 0 7.2px,#1e2a0a 0 9px,#182008 0 10.8px,#2e0a04 0 12.6px,#2a410f 0 14.4px,#355413 0 16.2px,#2c4510 0 18px,#304c12 0 19.8px,#395d15 0 21.6px,#283c0e 0 23.4px,#395c15 0 25.2px,#2c4410 0 27px,#25380d 0 28.8px,#151a07 0 30.6px,#22320c 0 32.4px,#2f4911 0 34.2px,#22330c 0 36px,#22330c 0 37.8px,#111306 0 39.6px,#345413 0 41.4px,#240803 0 43.2px,#192109 0 45px,#0e0e04 0 46.8px,#49791b 0 48.6px,#130603 0 50.4px,#1e0703 0 52.2px,#111305 0 54px,#2c4510 0 55.8px,#375814 0 57.6px,#1c270a 0 59.4px,#151a07 0 61.2px,#1b260a 0 63px,#2c4410 0 64.8px,#23340c 0 66.6px,#171f08 0 68.4px,#250903 0 70.2px,#110503 0 72px,#1a2309 0 73.8px,#426c18 0 75.6px,#47751a 0 77.4px,#4d801d 0 79.2px,#2c4410 0 81px,#3c6116 0 82.8px,#345413 0 84.6px,#426c18 0 86.4px,#406918 0 88.2px,#45721a 0 90px,#365714 0 91.8px,#375914 0 93.6px,#335113 0 95.4px,#1b0703 0 97.2px,#500f05 0 99px,#511005 0 100.8px,#3a0c04 0 102.6px,#470e05 0 104.4px,#160603 0 106.2px,#1e0803 0 108px,#4d0f05 0 109.8px,#310a04 0 111.6px,#511005 0 113.4px,#340b04 0 115.2px,#1e0703 0 117px,#531005 0 118.8px,#270903 0 120.6px,#3a0c04 0 121.5px)"></div>
<div class="h" style="left:240.12px;top:262.00px;width:14.22px;height:121.50px;background:linear-gradient(#230803 0 1.8px,#591105 0 3.6px,#1e2b0a 0 5.4px,#450e04 0 7.2px,#250903 0 9px,#2e0a04 0 10.8px,#531005 0 12.6px,#0e0503 0 14.4px,#290904 0 16.2px,#4a0f05 0 18px,#330b04 0 19.8px,#2f0a04 0 21.6px,#4e0f05 0 23.4px,#310a04 0 25.2px,#521005 0 27px,#4c0f05 0 28.8px,#440e04 0 30.6px,#4d0f05 0 32.4px,#110503 0 34.2px,#581105 0 36px,#661306 0 37.8px,#1a0703 0 39.6px,#390c04 0 41.4px,#340b04 0 43.2px,#100503 0 45px,#300a04 0 46.8px,#210803 0 48.6px,#0e0503 0 50.4px,#581105 0 52.2px,#270903 0 54px,#3b0c04 0 55.8px,#0d0b04 0 57.6px,#4a0f05 0 59.4px,#0f0f05 0 61.2px,#140603 0 63px,#470e05 0 64.8px,#230803 0 66.6px,#130603 0 68.4px,#3d0c04 0 70.2px,#171f08 0 72px,#150603 0 73.8px,#1c270a 0 75.6px,#375914 0 77.4px,#22320c 0 79.2px,#0e0d04 0 81px,#192209 0 82.8px,#170603 0 84.6px,#293f0f 0 86.4px,#2f4911 0 88.2px,#182008 0 90px,#0e0d04 0 91.8px,#161c07 0 93.6px,#0f0f05 0 95.4px,#350b04 0 97.2px,#5f1205 0 99px,#4e0f05 0 100.8px,#5b1105 0 102.6px,#591105 0 104.4px,#230803 0 106.2px,#2c0a04 0 108px,#4f0f05 0 109.8px,#390c04 0 111.6px,#6d1406 0 113.4px,#390c04 0 115.2px,#480e05 0 117px,#531005 0 118.8px,#4d0f05 0 120.6px,#3e0d04 0 121.5px)"></div>
<div class="h" style="left:253.75px;top:262.00px;width:14.22px;height:121.50px;background:linear-gradient(#101205 0 1.8px,#0e0d04 0 3.6px,#314c12 0 5.4px,#111406 0 7.2px,#558f20 0 9px,#589421 0 10.8px,#4b7d1c 0 12.6px,#5d9d22 0 14.4px,#579220 0 16.2px,#4b0f05 0 18px,#541005 0 19.8px,#3f0d04 0 21.6px,#5d1205 0 23.4px,#581105 0 25.2px,#721506 0 27px,#661306 0 28.8px,#521005 0 30.6px,#460e05 0 32.4px,#3a0c04 0 34.2px,#5c1105 0 36px,#365614 0 37.8px,#4b7c1c 0 39.6px,#2e0a04 0 41.4px,#6e1406 0 43.2px,#370c04 0 45px,#480e05 0 46.8px,#3c0c04 0 48.6px,#480e05 0 50.4px,#521005 0 52.2px,#430d04 0 54px,#400d04 0 55.8px,#270903 0 57.6px,#3d0c04 0 59.4px,#280903 0 61.2px,#45721a 0 63px,#24370d 0 64.8px,#4c0f05 0 66.6px,#280903 0 68.4px,#4c0f05 0 70.2px,#681306 0 72px,#6c1406 0 73.8px,#457119 0 75.6px,#548d1f 0 77.4px,#3e6517 0 79.2px,#335012 0 81px,#416b18 0 82.8px,#2b420f 0 84.6px,#52881e 0 86.4px,#3c6116 0 88.2px,#3d6416 0 90px,#395c15 0 91.8px,#447019 0 93.6px,#375814 0 95.4px,#330b04 0 97.2px,#751506 0 99px,#551005 0 100.8px,#420d04 0 102.6px,#6a1406 0 104.4px,#3e0d04 0 106.2px,#3f0d04 0 108px,#821807 0 109.8px,#500f05 0 111.6px,#7b1606 0 113.4px,#355413 0 115.2px,#335113 0 117px,#335012 0 118.8px,#551005 0 120.6px,#5b1105 0 121.5px)"></div>
<div class="h" style="left:267.38px;top:262.00px;width:14.22px;height:121.50px;background:linear-gradient(#140603 0 1.8px,#3d0c04 0 3.6px,#21310c 0 5.4px,#2d0a04 0 7.2px,#380c04 0 9px,#2e0a04 0 10.8px,#220803 0 12.6px,#370b04 0 14.4px,#260903 0 16.2px,#4b0f05 0 18px,#220803 0 19.8px,#350b04 0 21.6px,#4d0f05 0 23.4px,#4c0f05 0 25.2px,#511005 0 27px,#3a0c04 0 28.8px,#3d0c04 0 30.6px,#2a0904 0 32.4px,#180703 0 34.2px,#380c04 0 36px,#2f0a04 0 37.8px,#1d0703 0 39.6px,#280903 0 41.4px,#3e0d04 0 43.2px,#130603 0 45px,#350b04 0 46.8px,#210803 0 48.6px,#581105 0 50.4px,#350b04 0 52.2px,#521005 0 54px,#200803 0 55.8px,#161d08 0 57.6px,#340b04 0 59.4px,#140603 0 61.2px,#370b04 0 63px,#360b04 0 64.8px,#290903 0 66.6px,#121606 0 68.4px,#450e04 0 70.2px,#170603 0 72px,#200803 0 73.8px,#0e0d04 0 75.6px,#3d6417 0 77.4px,#1e2a0a 0 79.2px,#141a07 0 81px,#24370d 0 82.8px,#180703 0 84.6px,#1e2b0b 0 86.4px,#23340c 0 88.2px,#23330c 0 90px,#121606 0 91.8px,#283e0f 0 93.6px,#0f0503 0 95.4px,#260903 0 97.2px,#5b1105 0 99px,#480e05 0 100.8px,#460e05 0 102.6px,#420d04 0 104.4px,#210803 0 106.2px,#210803 0 108px,#4d0f05 0 109.8px,#2b0a04 0 111.6px,#1d290a 0 113.4px,#47761a 0 115.2px,#3e0d04 0 117px,#531005 0 118.8px,#330b04 0 120.6px,#460e05 0 121.5px)"></div>
<div class="h" style="left:170.6px;top:262.0px;width:1.1px;height:121.5px;background:#d6cf3c"></div>
<div class="h" style="left:64.00px;top:463.00px;width:15.21px;height:126.50px;background:linear-gradient(#46741a 0 1.8px,#385914 0 3.6px,#3a5e15 0 5.4px,#457119 0 7.2px,#416b18 0 9px,#4f841d 0 10.8px,#4a7b1b 0 12.6px,#4f831d 0 14.4px,#4a7a1b 0 16.2px,#45721a 0 18px,#457219 0 19.8px,#406918 0 21.6px,#335213 0 23.4px,#355513 0 25.2px,#2b4310 0 27px,#4c7e1c 0 28.8px,#46741a 0 30.6px,#3b6016 0 32.4px,#426c18 0 34.2px,#406817 0 36px,#436d19 0 37.8px,#4c7e1c 0 39.6px,#3a5e15 0 41.4px,#49781b 0 43.2px,#345313 0 45px,#45721a 0 46.8px,#460e05 0 48.6px,#370c04 0 50.4px,#350b04 0 52.2px,#390c04 0 54px,#360b04 0 55.8px,#310a04 0 57.6px,#2f4a11 0 59.4px,#0e0f05 0 61.2px,#2e4711 0 63px,#2a410f 0 64.8px,#2f4a11 0 66.6px,#202e0b 0 68.4px,#25380d 0 70.2px,#2e4811 0 72px,#3d6417 0 73.8px,#385a14 0 75.6px,#335213 0 77.4px,#395c15 0 79.2px,#46741a 0 81px,#3a5e15 0 82.8px,#314d12 0 84.6px,#457119 0 86.4px,#2e4811 0 88.2px,#273c0e 0 90px,#4d801c 0 91.8px,#2e4811 0 93.6px,#4a7a1b 0 95.4px,#375914 0 97.2px,#3a5d15 0 99px,#46731a 0 100.8px,#3b5f15 0 102.6px,#345313 0 104.4px,#2d4610 0 106.2px,#355513 0 108px,#3a5e15 0 109.8px,#4f841d 0 111.6px,#3b5f15 0 113.4px,#385a14 0 115.2px,#457119 0 117px,#426c18 0 118.8px,#48761a 0 120.6px,#335113 0 122.4px,#457119 0 124.2px,#395c15 0 126px,#283d0e 0 126.5px)"></div>
<div class="h" style="left:78.61px;top:463.00px;width:15.21px;height:126.50px;background:linear-gradient(#0f1105 0 1.8px,#151a07 0 3.6px,#2e4811 0 5.4px,#355413 0 7.2px,#416a18 0 9px,#3c6116 0 10.8px,#3c6216 0 12.6px,#416b18 0 14.4px,#426c18 0 16.2px,#4a7b1b 0 18px,#324f12 0 19.8px,#385a15 0 21.6px,#324f12 0 23.4px,#1a0703 0 25.2px,#300a04 0 27px,#1a2309 0 28.8px,#150603 0 30.6px,#111306 0 32.4px,#3f0d04 0 34.2px,#3a0c04 0 36px,#360b04 0 37.8px,#330b04 0 39.6px,#5b1105 0 41.4px,#300a04 0 43.2px,#521005 0 45px,#380c04 0 46.8px,#8b1907 0 48.6px,#801706 0 50.4px,#5d1205 0 52.2px,#821707 0 54px,#851807 0 55.8px,#6d1406 0 57.6px,#6a1406 0 59.4px,#9d1c07 0 61.2px,#1b260a 0 63px,#1e2c0b 0 64.8px,#1a2309 0 66.6px,#192209 0 68.4px,#141907 0 70.2px,#202f0b 0 72px,#551005 0 73.8px,#631306 0 75.6px,#681306 0 77.4px,#661306 0 79.2px,#521005 0 81px,#541005 0 82.8px,#521005 0 84.6px,#440e04 0 86.4px,#601205 0 88.2px,#601205 0 90px,#490e05 0 91.8px,#4e0f05 0 93.6px,#2f0a04 0 95.4px,#4a0f05 0 97.2px,#3e0d04 0 99px,#3f0d04 0 100.8px,#551005 0 102.6px,#771606 0 104.4px,#7d1706 0 106.2px,#7b1606 0 108px,#791606 0 109.8px,#521005 0 111.6px,#831807 0 113.4px,#721506 0 115.2px,#561005 0 117px,#3b0c04 0 118.8px,#3d0c04 0 120.6px,#591105 0 122.4px,#310b04 0 124.2px,#4b0f05 0 126px,#581105 0 126.5px)"></div>
<div class="h" style="left:93.23px;top:463.00px;width:15.21px;height:126.50px;background:linear-gradient(#3b5f15 0 1.8px,#23340c 0 3.6px,#2e4711 0 5.4px,#3d6417 0 7.2px,#395c15 0 9px,#385914 0 10.8px,#385b15 0 12.6px,#3c6216 0 14.4px,#406918 0 16.2px,#3c6216 0 18px,#345413 0 19.8px,#3b6016 0 21.6px,#2f4a11 0 23.4px,#2e4811 0 25.2px,#23330c 0 27px,#3a5e15 0 28.8px,#385a14 0 30.6px,#3e6517 0 32.4px,#375814 0 34.2px,#324f12 0 36px,#335112 0 37.8px,#3d6316 0 39.6px,#2b4310 0 41.4px,#447019 0 43.2px,#355513 0 45px,#304c11 0 46.8px,#240803 0 48.6px,#1b0703 0 50.4px,#1c270a 0 52.2px,#280903 0 54px,#0d0b04 0 55.8px,#0f0503 0 57.6px,#2d4710 0 59.4px,#202f0b 0 61.2px,#395c15 0 63px,#283d0e 0 64.8px,#345213 0 66.6px,#273b0e 0 68.4px,#26390e 0 70.2px,#3f6717 0 72px,#26390e 0 73.8px,#2b420f 0 75.6px,#25370d 0 77.4px,#1e2c0b 0 79.2px,#2e4811 0 81px,#2a410f 0 82.8px,#283d0e 0 84.6px,#283d0e 0 86.4px,#1d290a 0 88.2px,#22320c 0 90px,#3d6216 0 91.8px,#23350d 0 93.6px,#3b5f15 0 95.4px,#23350d 0 97.2px,#355413 0 99px,#2b4310 0 100.8px,#273b0e 0 102.6px,#24350d 0 104.4px,#2f4a11 0 106.2px,#26390e 0 108px,#2d4510 0 109.8px,#3c6116 0 111.6px,#25380d 0 113.4px,#24350d 0 115.2px,#3d6216 0 117px,#335213 0 118.8px,#3c6116 0 120.6px,#2c4510 0 122.4px,#365614 0 124.2px,#2a400f 0 126px,#273c0e 0 126.5px)"></div>
<div class="h" style="left:107.84px;top:463.00px;width:15.21px;height:126.50px;background:linear-gradient(#426b18 0 1.8px,#416b18 0 3.6px,#3f6717 0 5.4px,#4c7f1c 0 7.2px,#3c6216 0 9px,#416b18 0 10.8px,#3d6216 0 12.6px,#538a1f 0 14.4px,#45721a 0 16.2px,#4a7a1b 0 18px,#3a5e15 0 19.8px,#3a5d15 0 21.6px,#3c6116 0 23.4px,#395b15 0 25.2px,#2b4310 0 27px,#4a7b1b 0 28.8px,#3f6717 0 30.6px,#3a5d15 0 32.4px,#4d811d 0 34.2px,#345413 0 36px,#3b6016 0 37.8px,#447019 0 39.6px,#345313 0 41.4px,#4a7a1b 0 43.2px,#385b15 0 45px,#426d18 0 46.8px,#182108 0 48.6px,#1d2a0a 0 50.4px,#3c6116 0 52.2px,#161d08 0 54px,#23330c 0 55.8px,#2c4410 0 57.6px,#49791b 0 59.4px,#2b4310 0 61.2px,#52881e 0 63px,#416b18 0 64.8px,#3e6417 0 66.6px,#365714 0 68.4px,#457119 0 70.2px,#4b7c1c 0 72px,#3c6216 0 73.8px,#3c6216 0 75.6px,#3a5e15 0 77.4px,#3d6316 0 79.2px,#4a7b1b 0 81px,#3e6517 0 82.8px,#345213 0 84.6px,#4e811d 0 86.4px,#3a5d15 0 88.2px,#314d12 0 90px,#4c7e1c 0 91.8px,#3b6016 0 93.6px,#4e821d 0 95.4px,#426c18 0 97.2px,#406918 0 99px,#426c18 0 100.8px,#375914 0 102.6px,#314e12 0 104.4px,#3a5e15 0 106.2px,#3a5e15 0 108px,#4c7d1c 0 109.8px,#48781b 0 111.6px,#416a18 0 113.4px,#3e6517 0 115.2px,#436e19 0 117px,#416a18 0 118.8px,#4a7b1b 0 120.6px,#3c6216 0 122.4px,#49781b 0 124.2px,#365714 0 126px,#314e12 0 126.5px)"></div>
<div class="h" style="left:122.46px;top:463.00px;width:15.21px;height:126.50px;background:linear-gradient(#447019 0 1.8px,#436e19 0 3.6px,#385914 0 5.4px,#447019 0 7.2px,#426c18 0 9px,#3e6417 0 10.8px,#49781b 0 12.6px,#4f841d 0 14.4px,#47761a 0 16.2px,#447119 0 18px,#3c6016 0 19.8px,#3d6216 0 21.6px,#375714 0 23.4px,#457119 0 25.2px,#345313 0 27px,#50861e 0 28.8px,#395c15 0 30.6px,#426d18 0 32.4px,#426c18 0 34.2px,#3b6016 0 36px,#4b7c1c 0 37.8px,#3b5f16 0 39.6px,#2a410f 0 41.4px,#48771b 0 43.2px,#436f19 0 45px,#416a18 0 46.8px,#0e0e04 0 48.6px,#1e2b0a 0 50.4px,#314e12 0 52.2px,#23340d 0 54px,#1e2b0b 0 55.8px,#2a410f 0 57.6px,#46741a 0 59.4px,#304b11 0 61.2px,#50861e 0 63px,#3f6617 0 64.8px,#436e19 0 66.6px,#3d6216 0 68.4px,#3d6216 0 70.2px,#46731a 0 72px,#3e6417 0 73.8px,#3c6216 0 75.6px,#406817 0 77.4px,#375914 0 79.2px,#47761a 0 81px,#3b5f16 0 82.8px,#345313 0 84.6px,#52881e 0 86.4px,#324e12 0 88.2px,#2b420f 0 90px,#538b1f 0 91.8px,#355513 0 93.6px,#4f831d 0 95.4px,#304b11 0 97.2px,#365714 0 99px,#48771a 0 100.8px,#395c15 0 102.6px,#1e0803 0 104.4px,#121606 0 106.2px,#3e6417 0 108px,#3f6617 0 109.8px,#50861e 0 111.6px,#355513 0 113.4px,#2d4710 0 115.2px,#3d6316 0 117px,#406817 0 118.8px,#3e6517 0 120.6px,#2d4510 0 122.4px,#3d6316 0 124.2px,#3e6517 0 126px,#2f4911 0 126.5px)"></div>
<div class="h" style="left:137.07px;top:463.00px;width:15.21px;height:126.50px;background:linear-gradient(#3e6517 0 1.8px,#335113 0 3.6px,#3b6016 0 5.4px,#45721a 0 7.2px,#141907 0 9px,#101105 0 10.8px,#0c0b04 0 12.6px,#1b2509 0 14.4px,#111305 0 16.2px,#141907 0 18px,#140603 0 19.8px,#220803 0 21.6px,#330b04 0 23.4px,#280903 0 25.2px,#571105 0 27px,#1d0703 0 28.8px,#180703 0 30.6px,#290903 0 32.4px,#270903 0 34.2px,#3f0d04 0 36px,#1c0703 0 37.8px,#190703 0 39.6px,#4b0f05 0 41.4px,#120603 0 43.2px,#350b04 0 45px,#290904 0 46.8px,#4d0f05 0 48.6px,#531005 0 50.4px,#390c04 0 52.2px,#5d1205 0 54px,#490e05 0 55.8px,#440e04 0 57.6px,#230803 0 59.4px,#380c04 0 61.2px,#1e0703 0 63px,#2c0a04 0 64.8px,#1c0703 0 66.6px,#3b0c04 0 68.4px,#270903 0 70.2px,#120603 0 72px,#310a04 0 73.8px,#3c0c04 0 75.6px,#340b04 0 77.4px,#290904 0 79.2px,#210803 0 81px,#1a0703 0 82.8px,#310a04 0 84.6px,#290904 0 86.4px,#370c04 0 88.2px,#400d04 0 90px,#0f0503 0 91.8px,#350b04 0 93.6px,#0d0503 0 95.4px,#240803 0 97.2px,#2b0904 0 99px,#220803 0 100.8px,#300a04 0 102.6px,#561005 0 104.4px,#501005 0 106.2px,#5d1105 0 108px,#3d0c04 0 109.8px,#2d0a04 0 111.6px,#320b04 0 113.4px,#541005 0 115.2px,#1f0803 0 117px,#260903 0 118.8px,#380c04 0 120.6px,#2d0a04 0 122.4px,#380c04 0 124.2px,#330b04 0 126px,#420d04 0 126.5px)"></div>
<div class="h" style="left:151.69px;top:463.00px;width:15.21px;height:126.50px;background:linear-gradient(#3f6717 0 1.8px,#345313 0 3.6px,#293f0f 0 5.4px,#335112 0 7.2px,#365714 0 9px,#3b6016 0 10.8px,#2f4b11 0 12.6px,#4a7b1b 0 14.4px,#2d4710 0 16.2px,#3c6116 0 18px,#314d12 0 19.8px,#325012 0 21.6px,#2f4b11 0 23.4px,#3a5d15 0 25.2px,#1d290a 0 27px,#3a5d15 0 28.8px,#304c12 0 30.6px,#345413 0 32.4px,#385914 0 34.2px,#314d12 0 36px,#365714 0 37.8px,#3c6116 0 39.6px,#2e4811 0 41.4px,#45721a 0 43.2px,#2f4a11 0 45px,#365714 0 46.8px,#300a04 0 48.6px,#2a0904 0 50.4px,#131606 0 52.2px,#1c0703 0 54px,#200803 0 55.8px,#0d0c04 0 57.6px,#121506 0 59.4px,#1d0703 0 61.2px,#304b11 0 63px,#161c07 0 64.8px,#121506 0 66.6px,#1d0703 0 68.4px,#25370d 0 70.2px,#2c4510 0 72px,#2f4a11 0 73.8px,#2b4310 0 75.6px,#141907 0 77.4px,#0f0503 0 79.2px,#0e0f05 0 81px,#0f1005 0 82.8px,#2b420f 0 84.6px,#182008 0 86.4px,#1b0703 0 88.2px,#140603 0 90px,#2d4610 0 91.8px,#160603 0 93.6px,#171d08 0 95.4px,#0d0503 0 97.2px,#26390d 0 99px,#182008 0 100.8px,#151a07 0 102.6px,#161c07 0 104.4px,#2d0a04 0 106.2px,#171f08 0 108px,#0f0503 0 109.8px,#1e2b0a 0 111.6px,#390c04 0 113.4px,#182108 0 115.2px,#1d290a 0 117px,#0d0503 0 118.8px,#2e4911 0 120.6px,#1b0703 0 122.4px,#2d4510 0 124.2px,#121506 0 126px,#283d0e 0 126.5px)"></div>
<div class="h" style="left:167.80px;top:463.00px;width:14.88px;height:126.50px;background:linear-gradient(#23330c 0 1.8px,#1a2309 0 3.6px,#0f1005 0 5.4px,#2b4310 0 7.2px,#551005 0 9px,#460e05 0 10.8px,#370c04 0 12.6px,#320b04 0 14.4px,#340b04 0 16.2px,#440d04 0 18px,#1f0803 0 19.8px,#260903 0 21.6px,#330b04 0 23.4px,#4e0f05 0 25.2px,#460e05 0 27px,#3c0c04 0 28.8px,#2c0a04 0 30.6px,#1f0803 0 32.4px,#2f0a04 0 34.2px,#4f0f05 0 36px,#2e0a04 0 37.8px,#3c0c04 0 39.6px,#2c0a04 0 41.4px,#370b04 0 43.2px,#2e0a04 0 45px,#3f0d04 0 46.8px,#901a07 0 48.6px,#6e1406 0 50.4px,#601205 0 52.2px,#7e1706 0 54px,#7f1706 0 55.8px,#661306 0 57.6px,#701506 0 59.4px,#3e0d04 0 61.2px,#541005 0 63px,#3a0c04 0 64.8px,#5e1205 0 66.6px,#3f0d04 0 68.4px,#6c1406 0 70.2px,#691406 0 72px,#811707 0 73.8px,#5d1205 0 75.6px,#731506 0 77.4px,#440e04 0 79.2px,#6c1406 0 81px,#0c0503 0 82.8px,#6f1406 0 84.6px,#551005 0 86.4px,#5a1105 0 88.2px,#821807 0 90px,#5e1205 0 91.8px,#2c0a04 0 93.6px,#551005 0 95.4px,#581105 0 97.2px,#420d04 0 99px,#571105 0 100.8px,#581105 0 102.6px,#3c0c04 0 104.4px,#6a1406 0 106.2px,#2e0a04 0 108px,#440d04 0 109.8px,#591105 0 111.6px,#6e1406 0 113.4px,#ae1e08 0 115.2px,#9b1c07 0 117px,#601205 0 118.8px,#4f0f05 0 120.6px,#4e0f05 0 122.4px,#2f0a04 0 124.2px,#4d0f05 0 126px,#5b1105 0 126.5px)"></div>
<div class="h" style="left:182.08px;top:463.00px;width:14.88px;height:126.50px;background:linear-gradient(#250903 0 1.8px,#130603 0 3.6px,#350b04 0 5.4px,#0d0503 0 7.2px,#2b0904 0 9px,#270903 0 10.8px,#1b0703 0 12.6px,#1b0703 0 14.4px,#2f0a04 0 16.2px,#330b04 0 18px,#0c0503 0 19.8px,#283e0e 0 21.6px,#2a0904 0 23.4px,#3d0c04 0 25.2px,#2e0a04 0 27px,#240803 0 28.8px,#1a0703 0 30.6px,#26390e 0 32.4px,#365714 0 34.2px,#330b04 0 36px,#1c0703 0 37.8px,#210803 0 39.6px,#170603 0 41.4px,#1d0703 0 43.2px,#1c0703 0 45px,#130603 0 46.8px,#7f1706 0 48.6px,#5a1105 0 50.4px,#6e1406 0 52.2px,#7b1606 0 54px,#711506 0 55.8px,#631306 0 57.6px,#711506 0 59.4px,#3e0d04 0 61.2px,#460e05 0 63px,#3e0d04 0 64.8px,#5b1105 0 66.6px,#751506 0 68.4px,#6e1406 0 70.2px,#4c0f05 0 72px,#6c1406 0 73.8px,#3e0d04 0 75.6px,#5f1205 0 77.4px,#240803 0 79.2px,#4e0f05 0 81px,#140603 0 82.8px,#2d0a04 0 84.6px,#340b04 0 86.4px,#2b0a04 0 88.2px,#1a0703 0 90px,#390c04 0 91.8px,#320b04 0 93.6px,#2b0a04 0 95.4px,#2a0904 0 97.2px,#240803 0 99px,#2f0a04 0 100.8px,#3b0c04 0 102.6px,#210803 0 104.4px,#2c0a04 0 106.2px,#280903 0 108px,#101205 0 109.8px,#310b04 0 111.6px,#470e05 0 113.4px,#3a0c04 0 115.2px,#3f0d04 0 117px,#5d1205 0 118.8px,#3e0d04 0 120.6px,#641306 0 122.4px,#581105 0 124.2px,#4e0f05 0 126px,#5e1205 0 126.5px)"></div>
<div class="h" style="left:196.35px;top:463.00px;width:14.87px;height:126.50px;background:linear-gradient(#430d04 0 1.8px,#3d0c04 0 3.6px,#571105 0 5.4px,#340b04 0 7.2px,#5d1205 0 9px,#410d04 0 10.8px,#350b04 0 12.6px,#3f0d04 0 14.4px,#3a0c04 0 16.2px,#3f0d04 0 18px,#220803 0 19.8px,#440e04 0 21.6px,#480e05 0 23.4px,#470e05 0 25.2px,#4d0f05 0 27px,#4f0f05 0 28.8px,#400d04 0 30.6px,#400d04 0 32.4px,#370b04 0 34.2px,#5b1105 0 36px,#3f0d04 0 37.8px,#500f05 0 39.6px,#330b04 0 41.4px,#360b04 0 43.2px,#2d0a04 0 45px,#3d0c04 0 46.8px,#781606 0 48.6px,#6c1406 0 50.4px,#821707 0 52.2px,#861807 0 54px,#721506 0 55.8px,#6d1406 0 57.6px,#6a1406 0 59.4px,#3a0c04 0 61.2px,#581105 0 63px,#4d0f05 0 64.8px,#5f1205 0 66.6px,#7f1706 0 68.4px,#711506 0 70.2px,#661306 0 72px,#6b1406 0 73.8px,#6f1406 0 75.6px,#701506 0 77.4px,#721506 0 79.2px,#891907 0 81px,#3f0d04 0 82.8px,#5a1105 0 84.6px,#621205 0 86.4px,#811707 0 88.2px,#531005 0 90px,#691306 0 91.8px,#571105 0 93.6px,#671306 0 95.4px,#581105 0 97.2px,#5b1105 0 99px,#6b1406 0 100.8px,#701506 0 102.6px,#5c1105 0 104.4px,#5f1205 0 106.2px,#5b1105 0 108px,#3f0d04 0 109.8px,#611205 0 111.6px,#741506 0 113.4px,#7b1606 0 115.2px,#761606 0 117px,#5f1205 0 118.8px,#501005 0 120.6px,#711506 0 122.4px,#791606 0 124.2px,#691406 0 126px,#631205 0 126.5px)"></div>
<div class="h" style="left:210.62px;top:463.00px;width:14.88px;height:126.50px;background:linear-gradient(#631205 0 1.8px,#581105 0 3.6px,#691406 0 5.4px,#3f0d04 0 7.2px,#661306 0 9px,#581105 0 10.8px,#531005 0 12.6px,#4f0f05 0 14.4px,#5d1205 0 16.2px,#611205 0 18px,#340b04 0 19.8px,#5d1205 0 21.6px,#4b0f05 0 23.4px,#5e1205 0 25.2px,#6d1406 0 27px,#5a1105 0 28.8px,#2e0a04 0 30.6px,#621205 0 32.4px,#3c0c04 0 34.2px,#731506 0 36px,#420d04 0 37.8px,#631205 0 39.6px,#571105 0 41.4px,#521005 0 43.2px,#651306 0 45px,#5a1105 0 46.8px,#8f1907 0 48.6px,#831807 0 50.4px,#891907 0 52.2px,#8c1907 0 54px,#941a07 0 55.8px,#751506 0 57.6px,#791606 0 59.4px,#581105 0 61.2px,#801706 0 63px,#511005 0 64.8px,#751506 0 66.6px,#811707 0 68.4px,#7e1706 0 70.2px,#7b1606 0 72px,#6c1406 0 73.8px,#791606 0 75.6px,#731506 0 77.4px,#6a1406 0 79.2px,#8a1907 0 81px,#5b1105 0 82.8px,#731506 0 84.6px,#6f1406 0 86.4px,#881807 0 88.2px,#6a1406 0 90px,#8d1907 0 91.8px,#761506 0 93.6px,#701506 0 95.4px,#711506 0 97.2px,#691306 0 99px,#871807 0 100.8px,#691306 0 102.6px,#6e1406 0 104.4px,#7c1606 0 106.2px,#6e1406 0 108px,#531005 0 109.8px,#691306 0 111.6px,#951b07 0 113.4px,#841807 0 115.2px,#8e1907 0 117px,#631306 0 118.8px,#6b1406 0 120.6px,#911a07 0 122.4px,#851807 0 124.2px,#791606 0 126px,#6b1406 0 126.5px)"></div>
<div class="h" style="left:224.90px;top:463.00px;width:14.88px;height:126.50px;background:linear-gradient(#0e0d04 0 1.8px,#2b0a04 0 3.6px,#1a2409 0 5.4px,#395b15 0 7.2px,#340b04 0 9px,#0e0503 0 10.8px,#131706 0 12.6px,#161d08 0 14.4px,#100503 0 16.2px,#1a0703 0 18px,#161c07 0 19.8px,#25380d 0 21.6px,#1d0703 0 23.4px,#0d0503 0 25.2px,#100503 0 27px,#200803 0 28.8px,#0e0e04 0 30.6px,#182108 0 32.4px,#2d4510 0 34.2px,#182008 0 36px,#21310c 0 37.8px,#0d0503 0 39.6px,#130603 0 41.4px,#210803 0 43.2px,#160603 0 45px,#260903 0 46.8px,#611205 0 48.6px,#651306 0 50.4px,#551005 0 52.2px,#6a1406 0 54px,#651306 0 55.8px,#541005 0 57.6px,#440d04 0 59.4px,#1b0703 0 61.2px,#340b04 0 63px,#2a0904 0 64.8px,#350b04 0 66.6px,#4b0f05 0 68.4px,#400d04 0 70.2px,#460e04 0 72px,#3d0c04 0 73.8px,#3f0d04 0 75.6px,#300a04 0 77.4px,#390c04 0 79.2px,#4c0f05 0 81px,#160603 0 82.8px,#360b04 0 84.6px,#270903 0 86.4px,#571105 0 88.2px,#460e04 0 90px,#500f05 0 91.8px,#360b04 0 93.6px,#2f0a04 0 95.4px,#3b0c04 0 97.2px,#3e0d04 0 99px,#3d0c04 0 100.8px,#290904 0 102.6px,#320b04 0 104.4px,#360b04 0 106.2px,#310a04 0 108px,#0d0d04 0 109.8px,#430d04 0 111.6px,#551005 0 113.4px,#541005 0 115.2px,#5e1205 0 117px,#3c0c04 0 118.8px,#410d04 0 120.6px,#330b04 0 122.4px,#551005 0 124.2px,#350b04 0 126px,#2f0a04 0 126.5px)"></div>
<div class="h" style="left:239.18px;top:463.00px;width:14.87px;height:126.50px;background:linear-gradient(#300a04 0 1.8px,#2b0a04 0 3.6px,#4d0f05 0 5.4px,#340b04 0 7.2px,#500f05 0 9px,#350b04 0 10.8px,#350b04 0 12.6px,#3a0c04 0 14.4px,#2b0a04 0 16.2px,#571105 0 18px,#140603 0 19.8px,#581105 0 21.6px,#490e05 0 23.4px,#410d04 0 25.2px,#490e05 0 27px,#3e0d04 0 28.8px,#330b04 0 30.6px,#440e04 0 32.4px,#360b04 0 34.2px,#470e05 0 36px,#380c04 0 37.8px,#440e04 0 39.6px,#2e0a04 0 41.4px,#460e04 0 43.2px,#470e05 0 45px,#410d04 0 46.8px,#661306 0 48.6px,#741506 0 50.4px,#6b1406 0 52.2px,#671306 0 54px,#721506 0 55.8px,#631205 0 57.6px,#5c1105 0 59.4px,#280903 0 61.2px,#551005 0 63px,#2c0a04 0 64.8px,#661306 0 66.6px,#5e1205 0 68.4px,#5d1105 0 70.2px,#3f0d04 0 72px,#4b0f05 0 73.8px,#681306 0 75.6px,#521005 0 77.4px,#551005 0 79.2px,#631306 0 81px,#2c0a04 0 82.8px,#4a0f05 0 84.6px,#531005 0 86.4px,#661306 0 88.2px,#5d1205 0 90px,#611205 0 91.8px,#621205 0 93.6px,#511005 0 95.4px,#541005 0 97.2px,#601205 0 99px,#500f05 0 100.8px,#531005 0 102.6px,#360b04 0 104.4px,#521005 0 106.2px,#4a0f05 0 108px,#3e0d04 0 109.8px,#430d04 0 111.6px,#631205 0 113.4px,#741506 0 115.2px,#7e1706 0 117px,#480e05 0 118.8px,#440d04 0 120.6px,#621205 0 122.4px,#5c1105 0 124.2px,#4a0e05 0 126px,#4e0f05 0 126.5px)"></div>
<div class="h" style="left:253.45px;top:463.00px;width:14.88px;height:126.50px;background:linear-gradient(#24350d 0 1.8px,#1d280a 0 3.6px,#3a0c04 0 5.4px,#140603 0 7.2px,#480e05 0 9px,#440e04 0 10.8px,#335213 0 12.6px,#180703 0 14.4px,#390c04 0 16.2px,#4c0f05 0 18px,#1e0703 0 19.8px,#480e05 0 21.6px,#3f0d04 0 23.4px,#1d290a 0 25.2px,#440e04 0 27px,#3c0c04 0 28.8px,#420d04 0 30.6px,#2f0a04 0 32.4px,#3b0c04 0 34.2px,#3a0c04 0 36px,#300a04 0 37.8px,#3a0c04 0 39.6px,#420d04 0 41.4px,#280903 0 43.2px,#340b04 0 45px,#430d04 0 46.8px,#731506 0 48.6px,#741506 0 50.4px,#691306 0 52.2px,#861807 0 54px,#831807 0 55.8px,#7f1706 0 57.6px,#7c1706 0 59.4px,#500f05 0 61.2px,#5e1205 0 63px,#511005 0 64.8px,#641306 0 66.6px,#751506 0 68.4px,#741506 0 70.2px,#701506 0 72px,#6d1406 0 73.8px,#661306 0 75.6px,#551005 0 77.4px,#5d1205 0 79.2px,#881807 0 81px,#340b04 0 82.8px,#621205 0 84.6px,#641306 0 86.4px,#781606 0 88.2px,#731506 0 90px,#781606 0 91.8px,#641306 0 93.6px,#641306 0 95.4px,#6b1406 0 97.2px,#661306 0 99px,#551005 0 100.8px,#6d1406 0 102.6px,#541005 0 104.4px,#541005 0 106.2px,#5d1205 0 108px,#4c0f05 0 109.8px,#591105 0 111.6px,#641306 0 113.4px,#861807 0 115.2px,#8a1907 0 117px,#6f1406 0 118.8px,#5c1105 0 120.6px,#711506 0 122.4px,#761606 0 124.2px,#681306 0 126px,#5c1105 0 126.5px)"></div>
<div class="h" style="left:267.73px;top:463.00px;width:14.87px;height:126.50px;background:linear-gradient(#340b04 0 1.8px,#250903 0 3.6px,#571105 0 5.4px,#350b04 0 7.2px,#5a1105 0 9px,#3b0c04 0 10.8px,#250903 0 12.6px,#2e0a04 0 14.4px,#2d0a04 0 16.2px,#591105 0 18px,#250903 0 19.8px,#370b04 0 21.6px,#390c04 0 23.4px,#450e04 0 25.2px,#5e1205 0 27px,#460e04 0 28.8px,#280903 0 30.6px,#300a04 0 32.4px,#310a04 0 34.2px,#611205 0 36px,#2d0a04 0 37.8px,#490e05 0 39.6px,#350b04 0 41.4px,#340b04 0 43.2px,#3f0d04 0 45px,#350b04 0 46.8px,#8a1907 0 48.6px,#6d1406 0 50.4px,#871807 0 52.2px,#8a1907 0 54px,#851807 0 55.8px,#7a1606 0 57.6px,#6b1406 0 59.4px,#440e04 0 61.2px,#5a1105 0 63px,#591105 0 64.8px,#5a1105 0 66.6px,#871807 0 68.4px,#6c1406 0 70.2px,#791606 0 72px,#6a1406 0 73.8px,#631306 0 75.6px,#7a1606 0 77.4px,#5a1105 0 79.2px,#7d1706 0 81px,#511005 0 82.8px,#5d1205 0 84.6px,#5d1205 0 86.4px,#801707 0 88.2px,#651306 0 90px,#7b1606 0 91.8px,#6d1406 0 93.6px,#541005 0 95.4px,#761506 0 97.2px,#591105 0 99px,#500f05 0 100.8px,#5a1105 0 102.6px,#521005 0 104.4px,#611205 0 106.2px,#651306 0 108px,#460e05 0 109.8px,#521005 0 111.6px,#731506 0 113.4px,#7d1706 0 115.2px,#741506 0 117px,#5d1205 0 118.8px,#541005 0 120.6px,#6b1406 0 122.4px,#721506 0 124.2px,#581105 0 126px,#591105 0 126.5px)"></div>
<div class="h" style="left:166.3px;top:463.0px;width:1.1px;height:126.5px;background:#d6cf3c"></div>
<svg width="520" height="607" viewBox="0 0 520 607"><rect x="59.5" y="182.3" width="118.5" height="14.2" fill="#e4e9f4"/><text x="118.8" y="194.6" font-size="10.0" fill="#2a2a2a" text-anchor="middle" font-family="Liberation Sans">NBM</text><rect x="178.8" y="183.4" width="104.4" height="13.1" fill="#e3300a"/><text x="230.2" y="194.7" font-size="10.0" fill="#fde3d6" text-anchor="middle" font-family="Liberation Sans">DS-AMKL</text><rect x="62.5" y="385.5" width="108.0" height="11.0" fill="#e4e9f4"/><text x="116.5" y="395.0" font-size="10.0" fill="#2a2a2a" text-anchor="middle" font-family="Liberation Sans">NBM</text><rect x="171.0" y="385.5" width="111.5" height="11.0" fill="#1e2bb2"/><text x="226.8" y="395.0" font-size="10.2" fill="#dfe2ff" text-anchor="middle" font-family="Liberation Sans">Non-DS AMKL</text><rect x="64.0" y="592.7" width="102.0" height="12.3" fill="#e3300a"/><text x="115.0" y="603.3" font-size="10.0" fill="#fde3d6" text-anchor="middle" font-family="Liberation Sans">DS-AMKL</text><rect x="167.5" y="593.0" width="115.0" height="12.0" fill="#1e2bb2"/><text x="225.0" y="603.3" font-size="10.2" fill="#dfe2ff" text-anchor="middle" font-family="Liberation Sans">Non-DS AMKL</text><defs><linearGradient id="tga" x1="0" x2="1" y1="0" y2="0"><stop offset="0" stop-color="#3c3c3c"/><stop offset="1" stop-color="#f4f4f4"/></linearGradient><linearGradient id="cga" x1="0" x2="1" y1="0" y2="0"><stop offset="0" stop-color="#e8260a"/><stop offset="0.12" stop-color="#c01e06"/><stop offset="0.50" stop-color="#060403"/><stop offset="0.9" stop-color="#5ec822"/><stop offset="1" stop-color="#7ae628"/></linearGradient></defs><polygon points="4.0,19.0 4.0,33.6 56.5,33.6" fill="url(#tga)" stroke="#111" stroke-width="1.2"/><rect x="4.0" y="34.0" width="52.5" height="13.2" fill="url(#cga)"/><rect x="13.3" y="51.5" width="0.8" height="1.6" fill="#777"/><rect x="24.2" y="51.5" width="0.8" height="1.6" fill="#777"/><rect x="34.0" y="51.5" width="0.8" height="1.6" fill="#777"/><rect x="45.6" y="51.5" width="0.8" height="1.6" fill="#777"/><text x="1.3" y="62.9" font-size="7.4" fill="#111" textLength="55.9" lengthAdjust="spacingAndGlyphs" font-family="Liberation Sans">Log2(HpaII/MspI)</text><defs><linearGradient id="tgc" x1="0" x2="1" y1="0" y2="0"><stop offset="0" stop-color="#3c3c3c"/><stop offset="1" stop-color="#f4f4f4"/></linearGradient><linearGradient id="cgc" x1="0" x2="1" y1="0" y2="0"><stop offset="0" stop-color="#e8260a"/><stop offset="0.12" stop-color="#c01e06"/><stop offset="0.50" stop-color="#060403"/><stop offset="0.9" stop-color="#5ec822"/><stop offset="1" stop-color="#7ae628"/></linearGradient></defs><polygon points="10.0,211.3 10.0,226.2 57.7,226.2" fill="url(#tgc)" stroke="#111" stroke-width="1.2"/><rect x="10.3" y="228.1" width="47.2" height="10.1" fill="url(#cgc)"/><rect x="15.2" y="244.0" width="0.8" height="1.6" fill="#777"/><rect x="25.6" y="244.0" width="0.8" height="1.6" fill="#777"/><rect x="35.2" y="244.0" width="0.8" height="1.6" fill="#777"/><rect x="44.8" y="244.0" width="0.8" height="1.6" fill="#777"/><rect x="54.4" y="244.0" width="0.8" height="1.6" fill="#777"/><text x="5.6" y="256.2" font-size="7.4" fill="#111" textLength="55.6" lengthAdjust="spacingAndGlyphs" font-family="Liberation Sans">Log2(HpaII/MspI)</text><defs><linearGradient id="tge" x1="0" x2="1" y1="0" y2="0"><stop offset="0" stop-color="#3c3c3c"/><stop offset="1" stop-color="#f4f4f4"/></linearGradient><linearGradient id="cge" x1="0" x2="1" y1="0" y2="0"><stop offset="0" stop-color="#e8260a"/><stop offset="0.12" stop-color="#c01e06"/><stop offset="0.50" stop-color="#060403"/><stop offset="0.9" stop-color="#5ec822"/><stop offset="1" stop-color="#7ae628"/></linearGradient></defs><polygon points="9.7,408.7 9.7,423.6 57.9,423.6" fill="url(#tge)" stroke="#111" stroke-width="1.2"/><rect x="9.4" y="425.6" width="50.8" height="14.8" fill="url(#cge)"/><rect x="17.5" y="445.5" width="0.8" height="1.6" fill="#777"/><rect x="28.3" y="445.5" width="0.8" height="1.6" fill="#777"/><rect x="38.8" y="445.5" width="0.8" height="1.6" fill="#777"/><rect x="49.5" y="445.5" width="0.8" height="1.6" fill="#777"/><text x="5.4" y="457.8" font-size="8.1" fill="#111" textLength="62.6" lengthAdjust="spacingAndGlyphs" font-family="Liberation Sans">Log2(HpaII/MspI)</text><text x="1.8" y="13.6" font-size="17" font-weight="bold" fill="#000" font-family="Liberation Sans">A</text><text x="298.8" y="13.6" font-size="17" font-weight="bold" fill="#000" font-family="Liberation Sans">B</text><text x="1.2" y="205.2" font-size="17" font-weight="bold" fill="#000" font-family="Liberation Sans">C</text><text x="298.8" y="339.6" font-size="17" font-weight="bold" fill="#000" font-family="Liberation Sans">D</text><text x="1.2" y="400.8" font-size="17" font-weight="bold" fill="#000" font-family="Liberation Sans">E</text><rect x="335.1" y="18.0" width="182.4" height="182.7" fill="none" stroke="#b8b8b8" stroke-width="1.3"/><line x1="332.1" y1="193.7" x2="335.1" y2="193.7" stroke="#b0b0b0" stroke-width="1"/><text x="328.3" y="196.6" font-size="8.3" fill="#222" text-anchor="end" font-family="Liberation Sans">0</text><line x1="332.1" y1="169.8" x2="335.1" y2="169.8" stroke="#b0b0b0" stroke-width="1"/><text x="328.3" y="172.8" font-size="8.3" fill="#222" text-anchor="end" font-family="Liberation Sans">0.5</text><line x1="332.1" y1="146.0" x2="335.1" y2="146.0" stroke="#b0b0b0" stroke-width="1"/><text x="328.3" y="148.9" font-size="8.3" fill="#222" text-anchor="end" font-family="Liberation Sans">1</text><line x1="332.1" y1="122.1" x2="335.1" y2="122.1" stroke="#b0b0b0" stroke-width="1"/><text x="328.3" y="125.0" font-size="8.3" fill="#222" text-anchor="end" font-family="Liberation Sans">1.5</text><line x1="332.1" y1="98.3" x2="335.1" y2="98.3" stroke="#b0b0b0" stroke-width="1"/><text x="328.3" y="101.2" font-size="8.3" fill="#222" text-anchor="end" font-family="Liberation Sans">2</text><line x1="332.1" y1="74.4" x2="335.1" y2="74.4" stroke="#b0b0b0" stroke-width="1"/><text x="328.3" y="77.3" font-size="8.3" fill="#222" text-anchor="end" font-family="Liberation Sans">2.5</text><line x1="332.1" y1="50.6" x2="335.1" y2="50.6" stroke="#b0b0b0" stroke-width="1"/><text x="328.3" y="53.5" font-size="8.3" fill="#222" text-anchor="end" font-family="Liberation Sans">3</text><line x1="332.1" y1="26.7" x2="335.1" y2="26.7" stroke="#b0b0b0" stroke-width="1"/><text x="328.3" y="29.6" font-size="8.3" fill="#222" text-anchor="end" font-family="Liberation Sans">3.5</text><line x1="349.7" y1="200.7" x2="349.7" y2="203.7" stroke="#b0b0b0" stroke-width="1"/><text x="348.4" y="214.8" font-size="8.3" fill="#222" text-anchor="middle" font-family="Liberation Sans">-3</text><line x1="373.3" y1="200.7" x2="373.3" y2="203.7" stroke="#b0b0b0" stroke-width="1"/><text x="372.0" y="214.8" font-size="8.3" fill="#222" text-anchor="middle" font-family="Liberation Sans">-2</text><line x1="396.8" y1="200.7" x2="396.8" y2="203.7" stroke="#b0b0b0" stroke-width="1"/><text x="395.5" y="214.8" font-size="8.3" fill="#222" text-anchor="middle" font-family="Liberation Sans">-1</text><line x1="420.4" y1="200.7" x2="420.4" y2="203.7" stroke="#b0b0b0" stroke-width="1"/><text x="420.4" y="214.8" font-size="8.3" fill="#222" text-anchor="middle" font-family="Liberation Sans">0</text><line x1="444.0" y1="200.7" x2="444.0" y2="203.7" stroke="#b0b0b0" stroke-width="1"/><text x="444.0" y="214.8" font-size="8.3" fill="#222" text-anchor="middle" font-family="Liberation Sans">1</text><line x1="467.5" y1="200.7" x2="467.5" y2="203.7" stroke="#b0b0b0" stroke-width="1"/><text x="467.5" y="214.8" font-size="8.3" fill="#222" text-anchor="middle" font-family="Liberation Sans">2</text><line x1="491.1" y1="200.7" x2="491.1" y2="203.7" stroke="#b0b0b0" stroke-width="1"/><text x="491.1" y="214.8" font-size="8.3" fill="#222" text-anchor="middle" font-family="Liberation Sans">3</text><line x1="514.7" y1="200.7" x2="514.7" y2="203.7" stroke="#b0b0b0" stroke-width="1"/><text x="514.7" y="214.8" font-size="8.3" fill="#222" text-anchor="middle" font-family="Liberation Sans">4</text><text transform="translate(311.6 111.5) rotate(-90)" font-size="10.3" fill="#111" text-anchor="middle" textLength="124.5" lengthAdjust="spacingAndGlyphs" font-family="Liberation Sans">-log10 BH-adjusted p-value</text><text x="341.5" y="225.4" font-size="10.3" fill="#111" textLength="171.5" lengthAdjust="spacingAndGlyphs" font-family="Liberation Sans">Log ratio Difference: DS-AMKL - NBM</text><defs><linearGradient id="gb1" x1="0" x2="1" y1="0" y2="0"><stop offset="0" stop-color="#6a6a6a"/><stop offset="1" stop-color="#f0f0f0"/></linearGradient></defs><polygon points="343.5,228.8 343.5,240.8 420.0,240.8" fill="url(#gb1)" stroke="#222" stroke-width="1"/><defs><linearGradient id="gb2" x1="0" x2="1" y1="0" y2="0"><stop offset="0" stop-color="#f0f0f0"/><stop offset="1" stop-color="#6a6a6a"/></linearGradient></defs><polygon points="433.5,240.8 509.4,228.5 509.4,240.8" fill="url(#gb2)" stroke="#222" stroke-width="1"/><text x="343.5" y="252.2" font-size="10.2" fill="#111" textLength="71.1" lengthAdjust="spacingAndGlyphs" font-family="Liberation Sans">&gt; Methylation in</text><text x="356.0" y="263.8" font-size="10.2" fill="#111" textLength="45.0" lengthAdjust="spacingAndGlyphs" font-family="Liberation Sans">DS-AMKL</text><text x="436.0" y="252.2" font-size="10.2" fill="#111" textLength="72.0" lengthAdjust="spacingAndGlyphs" font-family="Liberation Sans">&gt; Methylation in</text><text x="460.0" y="263.8" font-size="10.2" fill="#111" textLength="23.5" lengthAdjust="spacingAndGlyphs" font-family="Liberation Sans">NBM</text><polygon points="400.0,61.5 393.0,62.5 389.5,66.0 388.5,80.0 389.5,93.0 395.5,123.0 403.0,150.0 410.5,177.0 418.0,193.5 420.3,195.5 420.3,190.0 419.4,185.0 418.6,172.0 417.0,145.5 415.2,119.0 412.5,92.8 410.0,62.0" fill="#000"/><polygon points="427.0,63.5 425.5,75.0 424.0,92.8 421.8,119.0 420.5,145.5 419.9,172.0 420.2,185.0 420.4,195.5 425.0,194.0 436.0,183.0 447.0,168.5 458.0,150.0 462.5,136.0 465.0,124.0 466.6,113.0 466.6,64.0 446.0,63.0" fill="#000"/><polygon points="466.6,64.0 474.0,64.5 479.0,69.0 481.0,80.0 480.0,96.0 474.0,108.0 466.6,118.0" fill="#d42a10"/><path d="M404.0 153.8h0M385.7 77.1h0M401.6 181.3h0M383.9 77.8h0M390.4 131.1h0M394.9 61.4h0M390.1 117.3h0M396.1 145.0h0M410.7 177.5h0M396.5 128.5h0M378.8 75.1h0M389.9 133.0h0M405.8 165.2h0M404.5 172.0h0M384.7 97.7h0M412.2 183.5h0M391.5 107.5h0M402.3 178.5h0M385.9 99.6h0M405.8 178.8h0M388.5 91.8h0M383.4 78.2h0M398.2 171.2h0M393.7 146.0h0M404.2 157.4h0M386.8 106.4h0M387.4 115.4h0M388.9 86.4h0M387.6 60.6h0M410.1 178.3h0M403.4 153.7h0M382.0 107.5h0M406.2 183.2h0M377.4 110.8h0M397.4 136.4h0M394.4 123.6h0M392.2 126.4h0M388.8 100.8h0M404.8 175.9h0M400.3 143.3h0M415.5 189.7h0M415.8 191.4h0M387.7 117.3h0M403.7 160.1h0M403.4 159.1h0M400.9 144.8h0M382.2 75.6h0M382.8 92.8h0M412.8 187.9h0M380.4 79.6h0M386.2 72.9h0M413.2 187.4h0M386.2 65.1h0M408.1 181.4h0M379.3 75.0h0M411.2 182.0h0M403.0 180.0h0M395.7 129.5h0M383.5 77.4h0M400.0 151.3h0M418.4 196.2h0M384.1 96.1h0M400.3 144.5h0M398.5 147.0h0M390.6 148.3h0M404.1 155.9h0M406.4 174.1h0M388.0 93.5h0M404.4 166.5h0M392.7 120.8h0M387.3 94.8h0M386.1 106.3h0M400.8 146.2h0M381.7 67.8h0M392.9 60.1h0M393.4 132.2h0M387.6 108.3h0M387.4 89.3h0M395.8 162.2h0M412.7 189.1h0M398.4 140.3h0M388.3 128.4h0M386.3 98.9h0M398.2 152.6h0M391.3 118.6h0M399.2 143.3h0M389.3 59.7h0M416.8 197.1h0M379.6 77.8h0M396.3 128.1h0M378.1 77.7h0M416.3 196.6h0M395.5 145.7h0M385.4 76.9h0M398.6 150.1h0M381.6 85.6h0M403.7 158.1h0M414.4 185.6h0M387.0 70.5h0M386.9 66.8h0M393.4 128.7h0M396.0 132.6h0M379.9 70.2h0M402.8 156.8h0M381.3 99.4h0M395.9 142.2h0M412.6 182.6h0M384.0 68.8h0M407.1 167.5h0M387.4 81.3h0M380.4 84.6h0M406.7 169.4h0M395.0 132.9h0M417.6 194.0h0M387.7 100.2h0M383.9 68.8h0M400.8 150.3h0M389.5 61.9h0M408.6 176.8h0M397.1 134.6h0M412.2 194.9h0M406.3 169.0h0M397.9 133.8h0M396.8 141.1h0M388.9 70.5h0M410.5 181.0h0M415.4 190.6h0M390.5 59.2h0M408.9 176.1h0M384.9 74.8h0M378.9 88.3h0M377.4 80.0h0M375.3 95.8h0M391.8 127.7h0M379.5 71.6h0M393.9 128.7h0M393.9 155.5h0M402.0 59.6h0M407.5 175.6h0M399.1 139.3h0M387.7 112.1h0M396.8 139.6h0M379.1 99.0h0M391.2 51.2h0M389.8 104.4h0M386.4 71.6h0M399.5 60.7h0M394.5 62.2h0M386.5 95.2h0M388.9 94.2h0M397.2 60.7h0M383.8 68.0h0M386.7 74.7h0M405.7 161.3h0M385.6 77.5h0M369.9 72.4h0M400.5 60.6h0M383.2 103.4h0M390.2 63.0h0M386.4 79.8h0M402.1 183.3h0M398.8 60.9h0M384.6 80.2h0M388.4 54.1h0M389.5 93.3h0M397.4 158.9h0M386.0 91.8h0M386.0 69.8h0M383.2 109.6h0M402.7 180.4h0M395.6 129.9h0M388.2 81.2h0M387.4 134.0h0M386.8 114.2h0M404.2 161.3h0M399.1 60.3h0M371.8 48.8h0M392.7 113.1h0M392.3 54.0h0M408.4 174.8h0M362.2 85.9h0M386.6 100.7h0M397.9 61.0h0M379.3 115.1h0M381.7 72.6h0M418.0 196.4h0M388.2 132.3h0M395.6 150.9h0M391.2 111.6h0M391.0 110.4h0M389.5 122.6h0M380.9 79.0h0M388.6 71.5h0M388.2 85.1h0M386.8 112.2h0M399.3 171.8h0M387.6 58.3h0M409.8 174.9h0M392.7 141.8h0M403.1 157.1h0M379.6 79.4h0M390.6 142.4h0M388.7 66.0h0M419.7 195.5h0M401.4 153.6h0M374.1 83.2h0M389.9 61.6h0M397.5 135.3h0M377.8 92.5h0M408.4 178.1h0M390.5 99.5h0M402.6 165.7h0M403.5 154.6h0M387.1 79.5h0M392.6 112.7h0M399.3 139.4h0M396.7 148.6h0M381.9 95.0h0M390.1 61.4h0M405.2 166.2h0M382.6 97.5h0M391.0 120.8h0M396.9 132.4h0M388.6 120.1h0M396.7 135.5h0M409.7 176.4h0M401.1 164.8h0M401.7 162.2h0M411.6 183.6h0M396.2 145.7h0M406.6 165.0h0M389.9 103.1h0M394.1 61.1h0M393.8 134.1h0M379.9 80.2h0M383.2 134.4h0M417.6 194.5h0M396.2 127.2h0M383.4 75.4h0M386.7 88.7h0M404.8 163.9h0M388.8 130.7h0M377.4 120.2h0M389.1 113.3h0M404.5 178.2h0M401.4 158.7h0M405.8 166.5h0M385.6 59.4h0M387.5 73.1h0M381.3 67.3h0M394.8 142.1h0M393.3 59.1h0M406.2 165.0h0M385.5 113.0h0M402.3 153.5h0M390.4 113.4h0M392.7 123.9h0M416.6 196.0h0M372.2 87.3h0M402.0 148.5h0M388.4 69.8h0M414.7 193.3h0M398.1 133.2h0M410.5 178.2h0M402.1 152.4h0M390.6 114.2h0M401.9 165.6h0M381.3 103.9h0M380.2 93.4h0M384.1 83.0h0M402.0 148.2h0M386.1 74.8h0M393.2 140.4h0M392.6 127.5h0M395.0 54.7h0M382.7 67.0h0M403.5 157.1h0M388.7 67.5h0M394.2 119.0h0M390.5 118.6h0M402.2 155.8h0M400.4 147.3h0M386.7 64.4h0M389.4 109.7h0M391.1 115.0h0M388.9 126.9h0M400.2 60.2h0M380.2 110.2h0M398.6 61.6h0M388.5 78.6h0M368.5 103.0h0M387.4 79.9h0M383.3 83.2h0M391.3 113.1h0M419.5 195.3h0M373.9 81.1h0M383.4 60.4h0M400.0 178.7h0M390.3 117.0h0M396.8 152.3h0M403.2 168.2h0M384.9 86.9h0M407.4 166.0h0M378.0 96.3h0M411.3 179.7h0M373.8 94.8h0M386.1 94.2h0M386.2 112.6h0M414.6 186.1h0M385.1 116.7h0M413.5 184.4h0M393.7 61.3h0M402.8 160.8h0M394.5 132.9h0M389.2 89.4h0M384.2 60.4h0M406.1 56.9h0M399.0 157.9h0M388.5 65.7h0M379.5 86.3h0M381.7 125.0h0M386.4 68.5h0M393.1 111.3h0M390.8 127.6h0M386.9 116.9h0M382.7 90.7h0M416.9 191.6h0M389.8 99.8h0M390.6 146.3h0M384.4 96.0h0M388.8 108.1h0M397.3 150.4h0M389.4 56.9h0M387.0 88.6h0M381.9 78.2h0M395.7 133.5h0M398.5 60.7h0M396.5 145.2h0M387.3 72.6h0M393.0 59.1h0M397.4 141.3h0M386.2 115.1h0M387.2 94.6h0M404.3 172.5h0M389.1 65.1h0M400.3 169.0h0M388.9 107.2h0M386.6 81.8h0M388.0 98.4h0M381.8 89.1h0M387.9 114.1h0M387.7 92.7h0M386.5 84.1h0M405.6 161.7h0M399.3 148.5h0M388.2 83.1h0M387.1 82.6h0M388.1 64.7h0M383.0 93.2h0M388.9 64.0h0M403.6 155.0h0M404.1 159.6h0M391.9 110.5h0M377.1 89.2h0M393.3 127.6h0M398.7 46.4h0M384.3 66.6h0M417.2 194.5h0M411.8 183.6h0M389.7 60.9h0M404.7 165.6h0M384.8 83.2h0M389.2 102.0h0M380.4 118.4h0M388.8 101.6h0M393.5 60.0h0M384.7 64.7h0M388.2 88.3h0M383.9 64.4h0M386.8 75.5h0M388.6 90.5h0M388.7 107.7h0M400.8 160.9h0M398.7 165.8h0M380.1 119.4h0M395.7 146.2h0M401.8 147.9h0M383.1 97.3h0M408.9 175.5h0M388.8 111.9h0M390.1 106.4h0M398.7 158.5h0M386.5 63.1h0M387.6 104.2h0M375.2 66.5h0M385.8 74.8h0M381.3 68.7h0M389.0 124.3h0M386.0 148.4h0M384.3 65.2h0M405.8 163.3h0M389.4 124.5h0M380.9 127.7h0M406.7 171.9h0M391.1 57.3h0M388.5 111.5h0M400.5 151.3h0M386.1 78.1h0M406.3 174.7h0M381.0 105.4h0M391.6 117.6h0M391.3 63.7h0M387.5 108.1h0M399.7 139.6h0M382.4 84.1h0M397.9 132.9h0M392.2 157.8h0M388.3 69.6h0M392.3 122.1h0M392.3 114.8h0M402.8 153.5h0M400.3 60.2h0M407.3 169.2h0M378.8 99.4h0M393.7 114.7h0M389.3 105.3h0M380.0 90.3h0M388.7 114.4h0M388.4 84.8h0M397.0 145.0h0M388.2 100.1h0M384.2 80.4h0M385.5 68.3h0M415.5 195.5h0M391.1 64.2h0M400.2 157.4h0M390.0 54.2h0M392.9 133.8h0M387.3 82.9h0M384.0 93.7h0M392.8 137.0h0M406.9 169.9h0M396.9 159.2h0M394.8 120.9h0M379.1 89.5h0M385.2 69.6h0M386.8 69.0h0M382.6 88.0h0M387.4 74.7h0M386.9 122.7h0M385.9 155.9h0M376.1 100.2h0M408.9 180.0h0M387.6 63.0h0M382.0 85.9h0M395.3 129.2h0M400.3 155.4h0M385.2 82.2h0M381.0 66.2h0M394.2 137.9h0M388.4 90.5h0M416.6 190.8h0M375.9 74.4h0M386.7 89.8h0M407.9 182.5h0M389.1 129.4h0M394.3 139.0h0M400.9 57.9h0M392.8 123.8h0M397.3 144.1h0M385.6 83.9h0M401.2 152.2h0M404.0 169.3h0M405.1 178.2h0M378.3 79.0h0M392.7 61.9h0M388.6 77.8h0M381.1 98.3h0M396.6 143.2h0M404.8 169.4h0M393.9 137.8h0M395.2 135.5h0M386.4 111.9h0M388.0 144.0h0M396.8 129.2h0M398.3 60.9h0M382.9 68.2h0M394.0 125.4h0M398.4 60.6h0M393.3 113.3h0M390.6 105.1h0M395.0 150.0h0M393.1 136.0h0M414.9 187.6h0M391.6 136.4h0M384.4 58.7h0M407.9 177.1h0M388.2 77.7h0M391.9 58.4h0M380.6 63.6h0M376.0 90.1h0M381.6 95.8h0M398.3 168.7h0M396.3 132.6h0M397.3 132.1h0M381.6 126.4h0M389.5 131.2h0M399.0 169.1h0M386.2 70.5h0M380.0 106.3h0M390.0 126.8h0M379.7 103.3h0M402.0 154.8h0M395.4 145.7h0M366.5 78.1h0M406.0 172.6h0M393.6 55.7h0M384.3 67.2h0M400.9 161.6h0M405.9 173.9h0M387.6 82.6h0M398.1 60.1h0M403.5 156.8h0M388.1 128.0h0M393.3 127.1h0M392.3 118.5h0M384.4 98.3h0M401.1 153.9h0M414.4 191.6h0M400.8 143.8h0M389.2 104.3h0M392.4 117.0h0M395.2 149.9h0M386.9 100.2h0M403.1 151.3h0M405.6 165.8h0M382.9 86.5h0M380.0 106.3h0M389.5 103.2h0M392.2 147.8h0M393.4 58.7h0M384.0 85.1h0M385.1 85.5h0M389.0 94.1h0M381.0 102.7h0M400.8 146.1h0M406.0 165.7h0M374.5 84.9h0M392.1 152.2h0M385.3 124.3h0M404.0 165.3h0M384.1 84.1h0M380.2 79.7h0M386.9 61.0h0M389.0 109.3h0M377.0 78.7h0M378.0 90.5h0M394.9 131.0h0M415.9 189.6h0M404.9 158.0h0M403.1 170.2h0M401.1 50.5h0M402.8 158.8h0M400.8 151.1h0M402.1 167.5h0M385.9 82.1h0M397.8 135.9h0M390.6 119.3h0M384.6 63.3h0M386.2 86.7h0M396.1 128.5h0M376.7 62.7h0M385.7 62.0h0M387.4 90.2h0M383.6 73.4h0M392.2 115.5h0M381.2 87.9h0M401.4 145.4h0M378.6 81.4h0M384.7 120.0h0M378.7 125.8h0M396.0 129.9h0M377.5 85.0h0M398.3 161.8h0M392.6 110.5h0M390.9 105.6h0M379.7 66.6h0M388.4 94.0h0M385.9 100.5h0M387.1 85.0h0M408.1 171.3h0M390.7 137.1h0M398.1 142.8h0M377.3 61.8h0M415.5 192.8h0M378.7 90.5h0M388.8 61.5h0M394.2 148.2h0M391.6 109.2h0M406.9 177.9h0M407.0 172.5h0M384.8 84.7h0M384.2 67.4h0M388.9 74.3h0M395.6 125.9h0M406.8 174.0h0M389.0 98.9h0M398.7 149.3h0M413.1 189.2h0M397.5 155.3h0M400.0 178.8h0M406.7 164.3h0M385.0 65.4h0M400.1 146.1h0M395.7 129.8h0M382.4 91.2h0M398.6 155.4h0M406.0 180.8h0M388.6 92.1h0M387.6 70.5h0M390.9 116.4h0M406.2 174.8h0M390.6 58.2h0M404.1 158.2h0M391.6 116.3h0M398.9 143.5h0M386.1 98.2h0M380.4 57.3h0M417.6 198.9h0M375.0 101.8h0M387.3 82.0h0M389.5 98.9h0M382.0 74.9h0M381.8 107.0h0M394.9 148.5h0M378.0 81.8h0M383.8 105.7h0M402.7 156.2h0M383.2 80.2h0M415.4 192.3h0M407.7 167.2h0M400.6 60.8h0M396.6 131.3h0M392.6 119.4h0M398.1 153.6h0M408.2 178.4h0M383.4 50.5h0M378.2 86.9h0M411.8 181.9h0M383.4 68.8h0M387.2 74.2h0M407.2 171.4h0M394.5 143.7h0M385.5 78.4h0M388.8 95.6h0M389.6 99.5h0M402.8 189.9h0M380.4 92.7h0M401.4 60.6h0M396.3 154.7h0M393.1 61.5h0M382.9 60.5h0M392.9 53.9h0M390.3 123.8h0M413.2 195.6h0M393.2 112.8h0M402.3 159.1h0M387.4 72.8h0M385.5 70.7h0M414.4 190.5h0M410.5 177.5h0M399.6 139.0h0M381.5 67.6h0M398.3 142.2h0M404.5 184.7h0M407.6 182.0h0M390.6 60.7h0M381.9 71.3h0M401.0 167.0h0M399.9 156.1h0M395.4 142.7h0M380.8 104.3h0M384.4 56.0h0M383.7 104.3h0M389.2 112.6h0M391.0 101.3h0M387.8 86.1h0M387.6 96.5h0M396.0 137.8h0M387.6 71.4h0M407.1 179.7h0M398.5 173.8h0M384.6 102.4h0M388.2 70.0h0M387.7 117.6h0M404.7 183.2h0M406.8 179.1h0M400.5 156.8h0M398.3 141.1h0M381.6 87.0h0M395.0 61.7h0M389.0 110.1h0M386.6 86.0h0M394.3 124.8h0M401.0 148.5h0M403.5 176.4h0M381.6 106.5h0M377.4 58.6h0M391.5 61.7h0M394.0 125.3h0M407.6 176.2h0M391.7 58.2h0M386.8 66.9h0M386.9 88.3h0M387.5 122.6h0M394.8 59.1h0M395.1 125.5h0M410.2 177.0h0M387.0 97.1h0M400.5 177.5h0M386.5 60.5h0M401.2 150.5h0M389.2 106.1h0M393.1 116.8h0M387.0 89.3h0M373.9 118.4h0M371.9 87.5h0M380.9 82.4h0M393.0 62.0h0M395.0 129.4h0M401.6 146.3h0M384.1 101.9h0M399.9 155.3h0M417.5 194.3h0M393.7 120.2h0M388.6 67.5h0M403.5 168.7h0M378.9 83.3h0M405.9 167.5h0M392.4 63.0h0M390.7 128.6h0M397.0 138.9h0M389.5 125.3h0M389.7 57.8h0M413.2 183.2h0M389.4 101.4h0M402.6 152.9h0M381.0 85.7h0M386.5 71.2h0M381.9 55.8h0M396.7 132.6h0M395.2 134.8h0M384.7 92.1h0M387.8 74.4h0M388.0 68.1h0M416.3 192.6h0M377.8 101.4h0M398.7 61.4h0M390.7 128.7h0M396.4 55.0h0M386.6 84.7h0M401.3 152.9h0M376.5 75.0h0M410.3 176.6h0M389.6 99.0h0M399.9 145.6h0M381.8 65.0h0M390.8 109.7h0M394.2 60.2h0M399.6 156.6h0M385.4 126.1h0M400.8 145.5h0M387.2 76.4h0M376.9 64.0h0M414.5 187.4h0M391.3 102.5h0M402.2 150.0h0M408.9 173.6h0M387.2 63.7h0M376.2 91.8h0M411.6 189.9h0M406.5 181.0h0M383.2 99.9h0M380.0 83.3h0M390.4 138.6h0M405.2 181.0h0M385.0 78.4h0M386.8 94.0h0M401.7 178.3h0M400.5 148.2h0M405.6 188.5h0M414.1 189.7h0M386.7 127.4h0M387.3 86.8h0M397.8 142.5h0M387.5 60.9h0M408.5 175.1h0M411.0 183.2h0M403.6 152.4h0M392.7 150.0h0M405.4 169.6h0M405.3 162.0h0M389.7 103.4h0M399.9 142.3h0M410.7 183.0h0M414.0 191.6h0M379.1 61.1h0M389.2 90.1h0M398.3 144.6h0M386.6 68.4h0M387.6 103.3h0M381.3 103.6h0M386.5 65.4h0M390.8 53.9h0M385.1 112.4h0M383.7 77.5h0M410.9 193.1h0M404.4 168.5h0M383.1 118.1h0M387.3 115.3h0M392.1 146.1h0M389.7 122.8h0M396.8 132.4h0M384.0 101.8h0M415.7 192.1h0M412.8 184.7h0M393.7 124.7h0M379.0 122.7h0M384.6 81.8h0M397.2 147.4h0M389.5 119.0h0M378.4 79.4h0M395.2 58.0h0M378.0 125.3h0M414.1 189.3h0M381.6 75.8h0M411.8 189.8h0M387.0 65.1h0M392.2 120.2h0M391.0 62.6h0M384.6 83.1h0M389.9 97.6h0M393.8 124.2h0M401.4 60.3h0M386.7 108.3h0M390.3 122.9h0M408.8 180.1h0M404.5 164.0h0M388.2 91.2h0M386.8 90.3h0M371.4 76.7h0M391.1 52.3h0M393.0 122.9h0M389.7 122.3h0M405.2 159.7h0M381.7 84.9h0M396.6 149.8h0M378.8 89.4h0M381.0 66.2h0M388.0 71.0h0M388.1 72.5h0M377.6 101.8h0M380.4 63.4h0M400.8 143.8h0M388.5 96.8h0M395.8 152.6h0M386.1 73.2h0M409.8 182.5h0M395.0 134.3h0M412.1 183.3h0M381.8 139.8h0M401.1 53.4h0M396.3 134.0h0M380.3 98.1h0M393.4 141.6h0M385.1 100.8h0M407.6 174.3h0M404.1 168.1h0M387.9 90.1h0M407.6 177.9h0M390.6 108.5h0M398.7 139.6h0M395.0 136.6h0M386.3 81.5h0M402.1 153.6h0M412.7 186.2h0M401.6 153.6h0M381.1 70.5h0M386.8 102.8h0M403.7 178.3h0M401.2 144.8h0M384.5 97.6h0M390.7 62.0h0M411.5 187.5h0M397.5 130.9h0M410.2 184.9h0M401.9 148.7h0M393.1 128.4h0M392.4 121.1h0M382.8 84.2h0M379.7 106.5h0M394.8 60.9h0M375.9 116.8h0M396.1 134.5h0M401.5 160.5h0M391.9 106.3h0M388.1 79.6h0M390.6 114.6h0M381.8 63.1h0M399.2 157.8h0M386.6 84.6h0M391.2 132.8h0M385.7 118.9h0M393.1 113.9h0M383.1 69.3h0M390.8 61.8h0M376.9 68.5h0M374.0 83.1h0M396.3 131.4h0M392.9 142.4h0M388.5 144.3h0M407.9 179.2h0M388.2 62.6h0M404.2 166.4h0M399.3 159.4h0M388.1 87.9h0M411.0 181.2h0M393.7 122.8h0M385.5 126.7h0M405.5 163.9h0M390.2 103.5h0M388.7 117.4h0M395.6 59.0h0M381.5 62.3h0M389.8 96.6h0M381.4 87.6h0M387.3 99.7h0M387.5 58.6h0M392.8 115.8h0M389.1 101.4h0M385.0 49.8h0M397.1 60.6h0M404.0 155.8h0M384.4 98.9h0M388.3 76.1h0M387.0 63.6h0M387.3 88.5h0M385.2 112.5h0M383.3 60.8h0M394.7 120.4h0M398.4 148.5h0M388.2 74.0h0M388.5 101.0h0M406.9 173.7h0M389.2 130.7h0M396.2 60.3h0M390.7 104.4h0M406.0 183.2h0M405.6 160.7h0M417.1 196.6h0M375.2 63.3h0M394.3 122.7h0M386.5 118.6h0M386.4 69.7h0M387.9 95.8h0M381.9 74.6h0M402.1 179.0h0M400.3 162.5h0M383.3 78.9h0M388.5 106.5h0M387.9 83.6h0M391.1 136.9h0M387.1 66.3h0M400.2 61.3h0M387.6 95.9h0M399.4 58.9h0M390.1 61.5h0M391.3 106.0h0M383.4 136.5h0M391.4 134.5h0M387.2 63.3h0M383.2 75.5h0M378.7 83.1h0M389.4 100.1h0M388.6 91.7h0M413.1 186.7h0M381.4 82.8h0M417.7 192.8h0M397.5 146.7h0M384.1 86.7h0M404.8 163.5h0M406.9 174.6h0M375.1 81.8h0M401.9 148.6h0M392.0 107.7h0M383.1 81.4h0M386.4 122.0h0M395.8 151.2h0M385.9 95.3h0M383.8 86.8h0M384.8 86.7h0M387.2 92.0h0M385.1 78.4h0M406.4 165.3h0M392.7 145.9h0M386.6 89.5h0M408.5 173.0h0M390.1 103.4h0M400.5 148.9h0M388.0 92.0h0M405.7 173.1h0M393.0 114.6h0M378.2 103.6h0M387.3 73.2h0M411.5 183.6h0M387.1 93.0h0M400.5 146.0h0M419.9 195.3h0M402.7 161.6h0M407.9 179.0h0M400.4 144.5h0M412.0 184.7h0M391.5 56.0h0M410.9 184.1h0M392.3 171.3h0M387.9 76.0h0M378.0 55.2h0M379.6 74.2h0M396.8 150.8h0M391.7 114.8h0M410.0 177.1h0M390.0 101.7h0M400.5 161.5h0M387.1 80.4h0M386.5 79.4h0M398.2 159.4h0M412.0 186.5h0M383.2 89.9h0M383.7 84.3h0M397.2 129.7h0M384.8 59.9h0M386.6 64.6h0M416.1 195.2h0M398.0 134.6h0M394.8 139.9h0M392.8 153.8h0M387.0 57.9h0M415.0 198.3h0M391.5 107.1h0M372.7 99.1h0M397.2 147.8h0M388.5 152.0h0M387.6 55.3h0M381.4 131.2h0M378.7 105.4h0M401.0 157.8h0M390.3 108.9h0M387.8 84.3h0M379.9 61.4h0M392.3 122.5h0M388.0 68.6h0M372.9 89.4h0M386.4 132.9h0M390.5 142.2h0M408.4 173.8h0M387.1 90.0h0M397.5 153.5h0M411.0 184.9h0M386.2 85.6h0M388.8 111.5h0M390.4 58.0h0M415.9 192.2h0M392.7 134.6h0M388.7 90.2h0M377.6 90.8h0M389.2 104.4h0M407.2 167.4h0M414.6 187.3h0M393.7 61.2h0M380.3 78.0h0M376.8 112.9h0M419.3 195.0h0M387.8 69.1h0M410.1 188.2h0M380.0 69.4h0M387.5 91.0h0M383.5 74.8h0M401.4 170.8h0M417.8 193.7h0M392.5 60.4h0M397.5 144.3h0M410.5 182.6h0M383.1 81.7h0M380.8 62.2h0M403.3 157.5h0M382.4 134.9h0M391.4 124.1h0M389.6 108.9h0M389.9 96.3h0M391.0 103.4h0M393.5 124.1h0M404.1 157.5h0M390.7 120.1h0M378.8 62.4h0M396.2 126.3h0M404.8 160.7h0M382.4 81.8h0M386.0 92.7h0M416.3 192.7h0M386.6 69.0h0M388.8 94.0h0M405.6 161.6h0M407.1 164.8h0M383.1 67.5h0M405.9 165.6h0M388.1 100.7h0M407.0 170.9h0M379.2 90.6h0M398.4 61.4h0M405.5 173.8h0M385.0 58.0h0M403.7 163.7h0M399.9 139.6h0M403.8 162.3h0M385.9 52.8h0M398.4 135.3h0M390.4 119.7h0M385.1 92.8h0M399.2 151.0h0M386.8 96.4h0M391.5 104.6h0M414.5 186.2h0M384.5 113.6h0M383.5 87.4h0M406.4 168.8h0M413.4 183.6h0M387.8 80.5h0M390.6 102.3h0M392.3 62.0h0M394.6 142.1h0M398.8 143.0h0M390.8 64.7h0M393.2 131.4h0M401.0 149.7h0M385.5 67.1h0M396.9 133.5h0M398.0 175.6h0M387.1 58.8h0M402.0 60.0h0M374.7 59.8h0M374.2 99.0h0M399.9 178.8h0M387.1 92.5h0M389.1 62.8h0M406.6 170.6h0M385.7 62.5h0M386.7 75.2h0M386.3 112.2h0M388.9 101.2h0M376.5 95.2h0M403.3 175.1h0M395.0 124.4h0M381.1 77.5h0M390.8 120.2h0M399.7 147.0h0M409.5 173.7h0M396.8 139.4h0M393.0 141.0h0M407.1 173.8h0M398.1 135.9h0M383.4 96.3h0M384.2 104.7h0M409.3 177.4h0M396.8 51.0h0M380.5 87.6h0M388.5 87.5h0M388.8 61.9h0M404.3 160.8h0M409.5 180.8h0M390.2 111.0h0M389.5 63.5h0M376.4 94.9h0M394.1 139.2h0M389.2 91.3h0M396.3 134.5h0M390.9 61.5h0M389.5 63.5h0M392.7 135.7h0M390.6 125.0h0M400.2 148.1h0M390.9 130.0h0M387.5 79.1h0M388.1 67.8h0M408.3 179.0h0M382.0 86.4h0M378.9 69.0h0M392.8 60.2h0M389.3 100.2h0M396.0 125.0h0M386.0 123.4h0M375.3 85.4h0M390.4 123.1h0M407.8 175.2h0M379.7 86.0h0M381.6 61.8h0M387.4 161.7h0M389.5 142.0h0M390.5 115.0h0M389.9 119.9h0M387.3 101.8h0M387.1 67.3h0M391.6 104.6h0M385.7 103.1h0M388.4 67.4h0M378.9 89.0h0M416.5 193.6h0M387.2 67.3h0M387.1 67.1h0M402.6 148.7h0M392.3 118.0h0M387.6 84.2h0M396.8 135.9h0M388.0 124.9h0M393.2 113.3h0M388.7 101.9h0M389.9 63.9h0M396.1 148.7h0M387.8 77.2h0M401.4 159.8h0M376.4 123.9h0M402.3 148.3h0M393.2 111.7h0M413.7 189.3h0M393.3 54.3h0M397.7 145.4h0M385.7 102.7h0M393.1 131.2h0M389.6 129.1h0M391.0 116.2h0M407.7 177.4h0M401.9 164.3h0M397.6 151.4h0M408.6 180.4h0M380.6 103.0h0M382.4 111.3h0M416.9 193.2h0M394.0 57.3h0M388.5 111.4h0M386.4 73.0h0M390.8 158.7h0M383.2 104.0h0M408.2 171.1h0M399.7 150.4h0M408.0 174.1h0M385.4 82.0h0M401.4 153.7h0M390.1 111.9h0M401.5 156.3h0M403.3 167.3h0M388.6 70.4h0M404.6 162.4h0M415.5 195.8h0M385.2 135.8h0M388.2 90.8h0M381.4 55.8h0M389.5 111.6h0M385.7 116.1h0M407.1 182.6h0M387.8 102.6h0M381.0 85.6h0M396.9 150.5h0M387.5 84.5h0M412.0 191.8h0M401.4 151.5h0M381.0 74.3h0M394.3 134.0h0M390.2 123.0h0M393.2 58.7h0M391.4 137.1h0M388.7 87.5h0M391.6 105.1h0M406.0 162.6h0M386.0 120.6h0M387.1 117.5h0M378.7 87.5h0M402.7 154.2h0M401.6 152.9h0M403.2 159.1h0M400.3 174.7h0M385.2 84.7h0M392.3 110.4h0M404.4 171.5h0M398.7 61.4h0M388.4 134.3h0M393.1 59.2h0M411.9 181.8h0M414.5 190.1h0M404.0 157.4h0M396.2 138.0h0M403.9 177.0h0M383.9 92.1h0M396.2 140.2h0M409.3 176.2h0M386.1 62.8h0M418.3 194.3h0M390.7 136.3h0M388.4 131.5h0M385.4 89.9h0M386.9 66.4h0M411.7 185.5h0M405.3 173.0h0M386.6 79.3h0M400.2 60.2h0M411.2 186.0h0M368.8 49.6h0M405.2 179.7h0M387.2 84.7h0M381.6 92.3h0M409.4 177.7h0M386.5 73.1h0M392.5 122.4h0M407.4 184.7h0M388.8 87.1h0M411.3 188.3h0M407.9 173.6h0M382.8 91.1h0M383.7 128.0h0M408.2 168.7h0M397.0 61.8h0M385.7 82.5h0M389.9 136.7h0M411.8 185.7h0M391.4 118.2h0M388.5 146.5h0M375.7 73.4h0M386.3 68.7h0M389.9 56.6h0M387.3 95.4h0M391.4 61.3h0M405.0 169.3h0M386.0 64.7h0M384.9 111.7h0M392.5 62.9h0M374.3 93.0h0M406.6 186.4h0M391.6 119.4h0M405.8 180.4h0M392.7 124.5h0M392.9 115.1h0M389.2 113.4h0M387.9 102.5h0M403.6 174.6h0M390.9 52.0h0M371.1 87.2h0M383.2 75.9h0M406.3 174.4h0M400.4 149.5h0M415.5 192.6h0M393.7 61.9h0M399.6 150.4h0M385.4 61.4h0M388.6 98.0h0M391.4 63.5h0M384.6 68.1h0M412.6 196.0h0M389.8 96.6h0M387.6 94.1h0M403.3 52.5h0M406.0 165.6h0M384.7 70.0h0M384.6 79.2h0M398.3 174.6h0M399.3 151.3h0M375.8 83.3h0M403.7 158.2h0M396.7 129.1h0M388.6 118.8h0M389.2 103.1h0M384.2 84.5h0M391.9 109.9h0M406.0 185.1h0M378.6 60.7h0M373.9 84.3h0M394.0 140.0h0M405.6 163.0h0M388.3 64.5h0M383.2 79.2h0M389.5 63.1h0M400.0 142.2h0M385.1 77.1h0M387.5 70.5h0M394.4 120.9h0M384.4 124.5h0M387.2 88.2h0M378.3 84.6h0M385.5 91.9h0M405.2 160.0h0M389.9 102.0h0M397.1 142.8h0M401.8 163.5h0M396.6 128.8h0M388.7 123.3h0M399.3 143.6h0M379.2 77.9h0M395.7 135.9h0M398.5 151.8h0M396.3 145.2h0M377.7 60.5h0M400.9 146.6h0M404.6 170.4h0M395.0 136.1h0M388.8 107.1h0M392.4 128.7h0M396.2 154.3h0M402.3 160.4h0M395.9 141.7h0M397.1 146.2h0M390.4 121.4h0M384.8 90.0h0M413.1 188.5h0M398.8 143.6h0M386.3 85.1h0M415.3 187.7h0M385.2 73.9h0M400.6 149.9h0M407.3 174.6h0M385.9 66.0h0M382.3 103.5h0M393.3 117.9h0M383.0 69.0h0M401.2 165.4h0M385.9 75.6h0M387.4 101.6h0M399.4 144.9h0M416.9 195.0h0M387.4 94.1h0M400.6 144.9h0M401.2 177.4h0M387.8 83.0h0M390.4 61.3h0M400.3 153.2h0M398.7 154.7h0M380.9 72.8h0M400.5 165.0h0M392.6 122.0h0M390.4 139.4h0M408.3 172.6h0M386.7 105.8h0M396.4 144.2h0M403.8 155.3h0M376.3 58.1h0M412.5 187.0h0M400.1 148.5h0M403.6 160.1h0M381.0 62.1h0M386.7 65.8h0M395.0 123.7h0M389.5 66.0h0M400.7 162.1h0M388.4 101.1h0M382.7 62.8h0M381.6 82.6h0M391.6 139.9h0M399.0 155.6h0M415.5 196.2h0M409.0 176.4h0M405.5 182.3h0M395.8 128.1h0M392.1 61.4h0M382.8 114.1h0M398.6 136.7h0M388.7 141.5h0M391.8 147.8h0M396.4 145.0h0M386.5 118.7h0M401.3 145.6h0M399.6 145.1h0M395.6 134.8h0M387.5 80.6h0M413.3 191.7h0M385.3 75.8h0M373.5 80.1h0M390.1 115.1h0M403.6 152.4h0M391.0 126.7h0M385.2 63.5h0M388.7 106.3h0M384.5 65.0h0M398.2 139.0h0M408.0 174.3h0M383.7 87.3h0M410.0 182.5h0M415.0 189.1h0M394.3 129.9h0M385.4 69.0h0M402.9 151.5h0M398.6 50.8h0M395.1 122.6h0M405.4 161.2h0M395.3 129.1h0M416.5 194.2h0M390.6 111.1h0M412.8 193.4h0M412.2 186.4h0M379.4 96.9h0M391.3 129.6h0M397.4 136.1h0M407.3 182.2h0M382.3 86.0h0M382.8 102.8h0M374.4 78.5h0M398.0 167.7h0M384.8 105.4h0M404.7 60.5h0M386.9 98.7h0M399.2 146.4h0M388.2 68.1h0M385.6 81.9h0M404.7 172.5h0M414.0 185.8h0M386.4 94.2h0M386.3 86.7h0M386.3 67.8h0M388.5 114.6h0M386.3 56.6h0M407.9 169.7h0M378.4 76.7h0M384.1 80.4h0M383.7 102.9h0M386.2 100.1h0M393.6 140.4h0M382.5 83.8h0M405.1 163.1h0M377.7 118.7h0M377.1 136.7h0M400.2 141.5h0M406.5 164.1h0M390.6 105.3h0M377.5 86.0h0M390.8 114.7h0M397.1 133.0h0M401.0 171.7h0M381.3 88.9h0M388.9 89.8h0M390.9 138.3h0M399.3 147.3h0M391.2 61.4h0M391.0 136.1h0M388.0 89.3h0M386.6 86.1h0M386.5 61.9h0M391.7 145.1h0M384.1 76.2h0M411.3 183.9h0M384.9 84.3h0M413.9 193.8h0M409.1 186.9h0M382.4 81.0h0M384.1 84.9h0M389.0 69.6h0M408.1 178.0h0M398.8 60.8h0M394.6 137.6h0M388.8 112.6h0M387.4 79.4h0M388.9 123.5h0M381.9 116.7h0M391.3 128.0h0M405.8 175.8h0M404.0 162.1h0M387.8 98.4h0M415.9 191.1h0M387.3 88.7h0M374.2 70.8h0M376.6 104.1h0M408.5 171.7h0M401.9 158.0h0M387.0 129.0h0M381.6 67.8h0M371.2 87.6h0M404.6 159.2h0M386.3 79.8h0M386.8 106.5h0M382.4 123.0h0M405.4 162.6h0M377.8 81.8h0M390.7 140.9h0M390.4 100.6h0M392.6 119.0h0M405.8 177.0h0M373.2 72.0h0M376.5 97.1h0M388.8 66.4h0M379.2 93.4h0M387.4 79.9h0M401.8 175.3h0M378.3 79.1h0M397.4 132.4h0M388.0 120.9h0M388.6 67.1h0M388.1 61.6h0M389.9 64.5h0M386.9 57.6h0M382.5 85.3h0M400.6 153.6h0M387.6 74.7h0M386.0 116.4h0M408.0 178.8h0M395.4 153.9h0M382.3 76.6h0M390.8 121.7h0M387.6 93.5h0M402.1 155.2h0M407.2 176.6h0M388.0 65.4h0M378.6 79.4h0M397.0 167.9h0M399.3 60.2h0M386.1 82.9h0M385.3 50.2h0M385.7 70.7h0M382.3 118.3h0M401.8 148.7h0M390.6 105.6h0M383.7 74.7h0M388.3 109.8h0M403.2 152.5h0M378.7 76.2h0M383.9 73.4h0M385.4 77.9h0M405.5 159.3h0M401.5 151.8h0M401.9 169.8h0M390.0 114.5h0M410.7 185.1h0M381.1 64.1h0M390.6 55.4h0M404.5 161.6h0M407.5 175.4h0M385.1 85.0h0M383.7 83.3h0M392.9 118.5h0M389.8 129.2h0M394.1 118.2h0M412.9 184.9h0M397.7 61.8h0M389.6 100.9h0M396.9 158.6h0M411.7 182.9h0M393.1 127.9h0M387.4 74.3h0M399.2 136.3h0M388.4 89.1h0M403.9 160.8h0M393.6 114.2h0M380.2 67.9h0M402.3 150.4h0M399.3 159.0h0M386.8 121.1h0M394.9 142.8h0M391.2 107.8h0M385.9 76.1h0M417.8 199.3h0M390.5 151.2h0M388.9 104.1h0M370.2 87.4h0M407.4 165.8h0M404.8 156.6h0M390.8 138.9h0M385.1 64.1h0M385.6 85.6h0M389.4 134.1h0M386.9 128.0h0M387.8 135.1h0M386.5 100.5h0M406.0 168.1h0M395.4 133.1h0M375.1 80.8h0M393.2 127.2h0M407.9 184.8h0M407.1 180.1h0M386.4 83.9h0M393.1 119.5h0M388.5 110.1h0M404.2 199.1h0M394.8 128.0h0M404.7 159.4h0M399.7 161.1h0M402.5 155.6h0M388.1 110.7h0M388.9 94.8h0M398.3 58.8h0M388.3 71.7h0M384.4 123.8h0M388.8 66.5h0M380.0 75.0h0M384.2 102.8h0M385.2 69.8h0M385.0 102.9h0M387.2 135.0h0M389.1 62.9h0M382.6 95.4h0M391.4 123.2h0M384.7 108.3h0M382.7 68.1h0M414.1 186.6h0M389.5 123.1h0M404.9 60.3h0M394.5 135.8h0M394.1 122.1h0M388.9 72.8h0M381.6 98.6h0M381.9 91.7h0M395.0 132.5h0M403.5 158.4h0M381.3 86.7h0M390.8 113.4h0M381.8 65.5h0M383.0 70.5h0M387.3 104.0h0M385.4 86.0h0M396.4 61.4h0M384.9 88.3h0M407.3 180.6h0M388.1 102.9h0M390.4 98.1h0M380.2 97.4h0M382.5 87.2h0M381.9 60.5h0M385.8 86.3h0M388.1 64.7h0M405.7 167.0h0M402.3 150.9h0M379.7 68.2h0M375.8 122.2h0M390.4 124.8h0M418.6 194.1h0M382.3 85.4h0M395.6 60.1h0M389.7 95.0h0M387.9 113.9h0M406.7 164.2h0M388.4 109.5h0M384.0 97.3h0M376.1 94.4h0M387.3 82.9h0M394.8 57.1h0M381.0 91.5h0M384.8 61.1h0M387.3 52.2h0M390.4 155.1h0M390.5 64.5h0M419.2 196.1h0M388.3 78.9h0M414.7 192.3h0M395.4 139.8h0M387.1 60.2h0M383.7 100.5h0M389.0 56.9h0M392.9 120.0h0M403.0 60.8h0M386.5 72.0h0M379.0 85.1h0M396.0 131.6h0M413.4 190.3h0M386.3 65.0h0M402.5 156.8h0M402.2 147.1h0M390.9 61.1h0M388.2 76.7h0M385.2 91.4h0M385.9 82.3h0M379.9 66.4h0M399.0 150.8h0M389.2 101.5h0M386.6 79.8h0M400.5 162.2h0M396.7 135.2h0M398.5 150.7h0M411.5 179.2h0M369.6 93.3h0M393.3 61.9h0M386.5 112.1h0M391.2 119.4h0M401.1 59.1h0M402.9 173.1h0M408.7 170.7h0M407.1 175.1h0M390.3 147.0h0M394.7 57.1h0M393.6 127.8h0M388.6 131.0h0M398.6 170.0h0M386.7 58.7h0M383.4 75.1h0M386.7 67.3h0M387.2 103.9h0M409.4 181.5h0M405.9 173.6h0M388.1 116.3h0M384.6 95.3h0M387.9 60.7h0M383.6 54.0h0M408.3 169.6h0M402.6 162.8h0M391.8 113.7h0M385.5 105.0h0M388.1 65.7h0M396.6 163.0h0M408.6 171.9h0M383.9 124.6h0M383.0 106.6h0M380.7 56.5h0M384.1 96.9h0M374.0 77.6h0M382.2 127.9h0M406.6 167.4h0M409.5 177.0h0M400.8 146.2h0M396.7 131.7h0M377.7 71.1h0M387.3 101.9h0M387.4 59.7h0M399.8 138.9h0M394.1 117.4h0M388.2 112.9h0M398.5 137.2h0M395.4 127.2h0M398.5 145.4h0M388.2 97.7h0M384.7 111.1h0M384.3 110.3h0M388.0 96.7h0M383.1 81.0h0M402.2 151.1h0M389.7 106.2h0M389.9 104.8h0M404.9 168.4h0M392.8 113.6h0M389.1 61.4h0M412.5 186.7h0M410.0 181.9h0M387.2 66.0h0M389.9 137.8h0M384.9 136.7h0M387.9 72.5h0M385.2 49.3h0M389.2 107.1h0M397.3 133.7h0M396.8 152.1h0M400.2 154.2h0M415.3 190.2h0M389.9 104.8h0M388.8 75.7h0M398.8 135.4h0M383.5 72.5h0M400.8 163.6h0M392.9 113.8h0M400.7 147.3h0M399.4 143.3h0M393.3 118.4h0M386.3 74.6h0M389.6 63.2h0M379.3 88.5h0M390.3 103.0h0M387.0 132.0h0M391.8 123.4h0M393.9 128.0h0M403.1 159.8h0M394.5 120.1h0M375.5 85.6h0M384.8 66.6h0M399.2 147.1h0M377.8 80.6h0M389.1 120.8h0M387.1 99.7h0M394.2 117.9h0M387.4 112.5h0M405.1 159.4h0M399.6 149.7h0M404.6 165.7h0M395.5 129.6h0M388.5 81.7h0M385.6 79.1h0M406.3 170.1h0M394.5 128.7h0M405.4 167.8h0M403.6 177.0h0M389.1 106.8h0M411.5 181.4h0M391.5 110.9h0M400.9 175.5h0M400.3 162.0h0M388.9 97.8h0M384.8 64.3h0M403.5 174.9h0M401.4 180.8h0M392.1 130.4h0M394.2 119.2h0M386.4 69.3h0M411.3 186.8h0M399.9 160.3h0M394.8 125.6h0M392.8 130.4h0M381.8 66.6h0M390.7 129.5h0M373.8 81.3h0M391.5 127.6h0M386.5 81.8h0M400.1 60.3h0M398.8 145.2h0M396.1 143.4h0M373.4 81.4h0M386.2 53.4h0M389.0 106.6h0M413.0 190.7h0M392.0 112.6h0M388.4 123.5h0M386.3 66.4h0M381.9 88.8h0M384.6 64.0h0M381.7 63.1h0M388.7 76.9h0M392.2 106.9h0M381.2 45.2h0M403.7 171.2h0M394.9 138.0h0M391.4 60.8h0M381.9 62.5h0M385.1 75.4h0M376.6 103.6h0M401.6 162.0h0M408.4 173.3h0M390.1 108.8h0M388.3 54.2h0M387.9 117.3h0M402.8 172.5h0M402.7 151.5h0M399.5 59.2h0M406.1 177.6h0M387.7 68.0h0M395.5 150.2h0M377.8 118.0h0M373.7 80.0h0M389.5 99.2h0M407.0 182.5h0M390.0 112.9h0M383.5 92.9h0M374.0 83.6h0M387.7 101.5h0M380.9 80.1h0M389.8 131.2h0M385.1 114.0h0M387.4 99.1h0M384.6 89.3h0M381.9 92.2h0M385.2 53.9h0M407.1 177.0h0M389.9 125.0h0M407.4 166.5h0M417.0 191.9h0M387.9 65.7h0M399.8 144.3h0M391.8 134.7h0M387.4 92.8h0M407.1 176.1h0M389.2 104.6h0M392.3 118.1h0M389.1 113.1h0M408.8 172.6h0M388.3 87.0h0M384.6 82.6h0M394.8 132.4h0M395.8 145.6h0M401.9 147.5h0M394.3 119.1h0M387.6 99.3h0M386.9 104.3h0M394.9 126.1h0M381.6 95.4h0M393.7 119.0h0M377.5 61.2h0M414.6 191.8h0M388.5 61.2h0M410.2 179.0h0M388.7 67.4h0M388.1 85.7h0M393.7 114.9h0M404.8 161.7h0M393.7 150.3h0M389.2 120.1h0M384.5 70.3h0M401.4 147.5h0M389.2 64.4h0M390.9 105.7h0M394.9 120.2h0M403.5 159.4h0M389.7 53.6h0M403.1 175.4h0M382.5 75.3h0M384.6 77.6h0M390.5 125.5h0M385.1 102.1h0M392.2 61.9h0M389.9 101.3h0M400.3 153.9h0M385.1 95.8h0M394.9 146.3h0M392.5 122.2h0M386.2 70.7h0M413.5 188.6h0M396.3 134.3h0M399.4 138.1h0M395.0 127.4h0M383.1 55.9h0M389.0 62.5h0M387.2 109.1h0M377.3 103.7h0M408.1 176.1h0M375.7 86.1h0M393.8 145.7h0M380.7 77.0h0M382.7 97.6h0M384.4 93.6h0M393.3 126.4h0M397.5 131.9h0M389.9 114.0h0M389.3 95.9h0M397.0 172.6h0M402.0 150.3h0M409.5 180.7h0M397.7 142.7h0M390.6 114.3h0M394.3 60.4h0M393.5 126.3h0M392.8 110.3h0M399.6 159.2h0M390.7 116.2h0M386.2 67.2h0M399.6 60.7h0M388.6 131.5h0M381.5 78.7h0M414.8 192.2h0M398.1 149.3h0M385.5 68.1h0M395.2 130.2h0M404.1 160.5h0M396.8 130.6h0M387.4 77.2h0M395.9 60.6h0M406.9 177.6h0M392.3 50.9h0M403.7 164.1h0M416.8 193.3h0M383.1 95.7h0M369.9 87.4h0M388.0 114.6h0M381.7 87.4h0M415.1 192.0h0M392.9 124.3h0M409.7 181.8h0M392.8 116.0h0M393.4 128.4h0M382.8 79.0h0M398.5 136.1h0M389.1 117.6h0M399.0 149.7h0M379.2 105.1h0M382.7 96.2h0M384.0 107.4h0M388.7 114.4h0M390.3 118.4h0M381.9 96.1h0M393.6 59.7h0M379.9 81.8h0M389.6 96.8h0M397.7 136.0h0M371.2 52.7h0M398.3 134.0h0M386.4 84.2h0M388.9 69.3h0M388.9 87.7h0M388.5 99.8h0M385.8 53.9h0M396.0 139.2h0M391.9 118.9h0M386.9 65.8h0M388.2 82.9h0M391.9 56.4h0M374.9 75.1h0M408.4 174.3h0M394.6 147.0h0M401.7 164.8h0M384.2 62.4h0M391.8 128.6h0M385.8 75.6h0M398.8 142.3h0M388.2 106.2h0M396.2 135.0h0M399.2 140.3h0M382.1 113.5h0M388.9 72.7h0M379.5 102.2h0M401.3 158.9h0M383.2 83.4h0M388.4 122.5h0M389.6 128.2h0M400.5 151.0h0M387.4 81.0h0M380.1 76.3h0M374.2 79.5h0M383.0 97.0h0M379.4 96.5h0M398.6 58.4h0M390.1 109.9h0M389.6 102.0h0M402.2 158.4h0M383.9 101.9h0M416.7 192.2h0M386.1 63.9h0M390.2 108.8h0M383.4 108.5h0M399.8 156.2h0M387.1 108.2h0M381.9 100.3h0M400.3 143.5h0M388.6 70.6h0M384.5 79.5h0M393.0 115.3h0M379.9 78.0h0M387.1 86.2h0M378.8 108.2h0M381.3 84.0h0M400.5 145.9h0M387.4 111.4h0M390.4 116.5h0M396.0 143.6h0M390.2 104.9h0M416.2 193.1h0M384.4 63.8h0M388.4 72.8h0M390.4 131.9h0M396.8 187.6h0M396.3 153.0h0M392.1 139.5h0M399.2 57.2h0M375.7 53.4h0M396.4 133.2h0M384.0 58.5h0M406.6 171.1h0M401.6 165.2h0M385.2 66.6h0M395.5 128.2h0M392.9 131.8h0M395.3 122.3h0M380.2 92.0h0M385.1 68.0h0M403.0 169.8h0M403.8 155.8h0M380.8 87.5h0M388.1 60.6h0M396.2 53.2h0M401.3 144.3h0M395.9 61.2h0M395.7 136.5h0M390.4 137.1h0M399.4 165.1h0M404.7 159.7h0M397.4 59.8h0M405.0 165.4h0M393.4 120.1h0M387.7 114.3h0M392.9 145.6h0M388.2 79.2h0M410.7 183.0h0M387.2 134.6h0M389.8 105.5h0M404.6 181.8h0M401.0 158.9h0M385.9 76.4h0M393.6 61.6h0M387.6 125.3h0M396.0 133.9h0M397.3 56.4h0M383.1 138.6h0M386.2 105.8h0M397.0 145.6h0M391.6 135.3h0M406.7 182.1h0M400.1 148.6h0M382.6 106.2h0M404.6 163.1h0M391.9 119.2h0M400.1 144.7h0M377.8 58.6h0M408.2 181.9h0M397.9 137.0h0M401.1 59.5h0M395.2 151.0h0M389.2 60.8h0M398.4 155.8h0M397.1 54.2h0M371.2 87.8h0M379.4 85.5h0M388.0 79.1h0M401.3 164.4h0M413.4 184.5h0M407.1 177.1h0M384.7 92.8h0M389.8 100.8h0M406.2 179.7h0M402.0 152.5h0M385.6 120.5h0M375.4 63.1h0M414.4 190.5h0M396.8 141.4h0M390.0 103.4h0M404.3 162.1h0M393.0 131.1h0M386.7 88.0h0M389.3 124.2h0M392.4 151.3h0M399.3 168.8h0M371.4 92.8h0M410.9 181.2h0M384.4 94.2h0M382.0 111.7h0M386.8 147.4h0M404.6 166.9h0M390.5 123.1h0M388.6 69.1h0M416.7 193.2h0M385.8 77.5h0M378.6 123.4h0M387.8 69.8h0M415.7 190.8h0M404.6 157.1h0M403.3 174.6h0M386.2 111.9h0M394.0 59.8h0M391.4 140.1h0M383.6 98.4h0M412.9 192.2h0M385.5 59.0h0M383.9 96.6h0M412.1 196.3h0M388.8 98.5h0M392.1 123.9h0M392.8 143.9h0M391.5 105.2h0M391.2 102.5h0M399.8 145.9h0M383.6 84.2h0M388.3 90.2h0M398.2 137.4h0M389.9 136.2h0M395.5 138.8h0M380.6 53.4h0M392.3 107.2h0M379.4 76.7h0M382.4 79.5h0M467.9 135.3h0M453.6 161.5h0M447.9 170.9h0M433.8 53.7h0M447.1 191.5h0M455.5 156.6h0M433.0 187.3h0M464.1 139.3h0M465.6 135.6h0M425.8 195.8h0M465.5 145.3h0M436.1 61.2h0M455.3 173.4h0M427.6 63.1h0M436.8 184.0h0M464.9 126.2h0M465.1 60.4h0M428.3 193.7h0M470.6 127.3h0M476.6 116.4h0M426.3 193.7h0M429.8 190.6h0M450.6 176.0h0M453.9 174.9h0M456.3 168.4h0M467.0 116.5h0M468.5 120.3h0M456.3 158.8h0M449.6 172.3h0M426.2 62.0h0M462.0 148.2h0M463.2 151.3h0M462.8 139.0h0M465.9 149.0h0M432.3 195.5h0M443.8 59.4h0M471.9 128.4h0M437.4 61.4h0M441.7 60.5h0M467.2 147.3h0M463.3 135.4h0M462.5 154.5h0M465.0 137.6h0M430.8 61.3h0M462.7 137.0h0M430.9 62.3h0M451.0 182.5h0M454.9 157.2h0M467.1 136.0h0M473.9 120.3h0M461.4 140.0h0M447.0 178.0h0M439.3 189.8h0M466.2 134.0h0M431.2 191.7h0M426.5 56.4h0M452.3 163.4h0M452.0 178.9h0M454.2 156.9h0M458.9 152.1h0M466.1 120.4h0M459.0 151.0h0M464.1 63.7h0M468.5 125.5h0M472.7 127.4h0M470.0 129.2h0M429.3 189.7h0M438.2 185.4h0M433.2 194.7h0M465.4 133.4h0M437.1 58.7h0M458.1 151.7h0M467.3 121.7h0M446.2 172.6h0M438.8 184.6h0M443.6 182.6h0M450.2 167.9h0M452.2 168.0h0M437.2 62.4h0M450.3 61.5h0M458.9 161.7h0M436.8 58.5h0M422.7 195.9h0M456.5 153.5h0M451.9 173.9h0M444.2 59.8h0M433.8 63.3h0M447.1 177.0h0M468.6 150.4h0M467.0 128.6h0M462.3 140.0h0M465.9 136.2h0M473.4 126.1h0M437.7 191.7h0M468.2 136.9h0M426.6 63.0h0M466.2 126.2h0M443.7 179.0h0M458.3 161.6h0M444.4 63.0h0M457.8 163.4h0M435.8 183.7h0M440.1 178.9h0M460.3 151.3h0M461.5 153.7h0M464.0 133.9h0M460.9 145.4h0M446.1 171.4h0M467.8 133.5h0M441.8 176.1h0M439.0 186.6h0M436.9 189.7h0M429.6 63.0h0M461.9 170.1h0M472.2 127.8h0M469.7 134.0h0M447.8 177.1h0M460.4 147.4h0M454.3 158.0h0M462.9 138.1h0M472.0 122.6h0M463.9 132.8h0M459.0 154.2h0M449.8 168.1h0M431.5 189.8h0M470.4 119.5h0M428.3 63.4h0M443.5 178.5h0M451.2 167.3h0M440.0 181.1h0M464.9 132.2h0M457.0 179.0h0M421.6 196.2h0M432.6 190.8h0M428.8 60.0h0M430.1 192.2h0M449.6 170.4h0M459.5 151.7h0M444.6 176.1h0M439.8 60.1h0M472.3 129.9h0M463.5 139.4h0M463.4 135.1h0M445.1 178.5h0M436.9 185.1h0M442.3 62.6h0M430.1 61.1h0M433.4 62.6h0M459.7 151.4h0M455.7 171.8h0M430.7 189.6h0M458.0 158.2h0M472.9 120.7h0M425.2 196.4h0M449.2 172.4h0M458.3 150.0h0M474.5 141.3h0M468.6 129.1h0M465.7 138.4h0M455.1 159.2h0M456.4 160.2h0M476.2 131.5h0M469.9 139.5h0M468.0 133.2h0M456.3 158.9h0M464.6 141.0h0M440.2 60.8h0M424.5 199.0h0M456.7 165.0h0M447.1 175.5h0M466.7 148.2h0M446.6 174.7h0M449.3 169.5h0M468.7 125.9h0M465.8 141.5h0M467.3 144.4h0M457.6 166.8h0M456.2 164.4h0M468.1 141.2h0M469.3 130.7h0M466.6 122.5h0M441.1 177.7h0M463.4 153.8h0M423.9 196.7h0M431.5 60.9h0M452.1 172.5h0M459.0 154.1h0M443.9 178.4h0M423.9 197.8h0M458.0 165.8h0M451.2 170.9h0M430.0 191.0h0M467.9 126.3h0M426.7 196.4h0M461.5 154.5h0M453.6 166.8h0M462.3 146.1h0M437.7 182.1h0M438.4 185.4h0M453.8 160.2h0M471.8 139.5h0M459.6 156.3h0M451.6 167.3h0M463.1 134.6h0M432.5 59.7h0M439.1 180.6h0M434.1 186.7h0M429.5 189.9h0M457.0 164.7h0M466.0 125.3h0M437.5 186.3h0M464.1 139.7h0M452.7 166.7h0M462.5 140.1h0M459.0 149.1h0M436.9 190.0h0M463.9 150.1h0M453.4 182.3h0M441.8 190.8h0M439.8 59.5h0M464.9 129.6h0M438.0 59.9h0M429.4 61.9h0M455.9 166.0h0M460.5 156.6h0M462.1 145.5h0M462.2 162.4h0M474.1 121.0h0M468.8 116.4h0M433.0 61.7h0M466.2 140.8h0M438.4 60.2h0M468.8 129.3h0M449.9 173.9h0M465.7 143.7h0M447.1 177.8h0M462.8 162.8h0M454.2 173.8h0M469.5 117.6h0M467.3 125.2h0M465.9 61.8h0M452.5 159.6h0M450.2 165.0h0M453.5 159.9h0M468.6 145.5h0M465.2 127.4h0M432.0 190.6h0M466.0 148.4h0M462.1 153.6h0M445.2 177.0h0M463.4 139.1h0M450.4 179.4h0M433.6 190.0h0M452.7 164.4h0M454.1 157.0h0M472.9 124.3h0M451.9 171.8h0M459.6 145.8h0M467.7 116.1h0M451.3 172.5h0M459.1 157.1h0M465.9 138.4h0M438.0 184.0h0M437.3 62.3h0M469.0 127.5h0M466.3 138.4h0M458.4 157.8h0M468.0 144.5h0M470.0 120.1h0M462.8 140.6h0M426.0 59.7h0M433.0 186.9h0M443.0 60.7h0M429.5 190.9h0M447.4 170.2h0M453.9 160.0h0M451.9 161.1h0M444.7 176.7h0M464.3 60.2h0M453.8 167.4h0M442.5 177.7h0M466.3 126.8h0M455.4 155.5h0M443.8 179.3h0M453.2 166.0h0M454.6 166.7h0M430.6 193.8h0M466.6 122.5h0M460.9 158.1h0M429.2 193.6h0M464.7 139.4h0M450.5 164.1h0M455.9 181.5h0M445.2 172.7h0M466.4 130.5h0M470.0 145.4h0M464.5 151.9h0M461.6 140.2h0M470.4 139.3h0M435.4 184.1h0M452.3 165.2h0M476.1 132.3h0M455.3 161.8h0M463.9 143.9h0M435.8 194.3h0M456.6 165.3h0M465.4 155.7h0M444.7 173.4h0M467.7 116.7h0M464.6 130.0h0M427.3 197.8h0M464.9 134.6h0M426.1 196.2h0M458.6 162.0h0M454.0 162.6h0M472.5 126.9h0M426.5 194.0h0M427.3 194.7h0M434.5 185.9h0M442.9 62.3h0M466.8 128.1h0M461.0 159.1h0M420.7 196.2h0M435.9 63.0h0M429.6 193.1h0M458.6 161.1h0M425.2 60.0h0M433.2 59.0h0M444.4 62.6h0M471.0 122.9h0M448.2 175.2h0M440.4 185.3h0M441.0 192.9h0M464.2 152.2h0M470.6 141.0h0M477.9 155.2h0M428.3 60.6h0M467.9 144.6h0M459.6 146.7h0M456.3 171.2h0M454.4 159.5h0M445.0 172.3h0M465.4 145.5h0M429.3 199.3h0M460.2 146.2h0M459.6 148.6h0M467.5 141.0h0M455.5 174.2h0M465.7 137.2h0M464.9 127.7h0M443.0 60.7h0M440.4 59.3h0M443.8 60.1h0M447.4 60.7h0M437.1 59.2h0M469.5 137.0h0M444.2 178.2h0M424.1 194.5h0M468.2 124.8h0M440.1 189.5h0M451.0 167.2h0M440.4 186.7h0M462.8 144.8h0M467.2 121.0h0M434.6 190.6h0M432.1 188.8h0M425.1 62.1h0M444.5 175.4h0M445.6 171.5h0M461.3 152.1h0M469.8 127.1h0M463.9 138.3h0M457.1 164.6h0M469.3 128.9h0M432.8 63.1h0M470.0 141.2h0M464.6 143.5h0M465.8 120.8h0M436.7 185.6h0M441.5 189.0h0M468.3 118.0h0M431.5 190.8h0M439.9 181.6h0M464.4 141.4h0M465.5 125.1h0M445.8 171.5h0M438.9 180.3h0M448.1 172.5h0M461.8 140.6h0M438.3 62.8h0M465.9 179.7h0M463.6 132.1h0M464.3 129.3h0M425.5 60.7h0M462.6 140.4h0M473.0 137.6h0M465.2 147.6h0M465.7 62.0h0M433.9 62.2h0M432.5 189.3h0M464.5 146.8h0M470.6 129.4h0M443.3 62.4h0M438.2 185.7h0M465.5 154.8h0M426.1 61.7h0M471.1 149.6h0M448.9 179.4h0M463.6 134.5h0M459.4 146.4h0M449.6 61.7h0M458.0 158.8h0M431.0 191.5h0M432.3 62.8h0M461.3 141.5h0M465.6 125.2h0M465.0 135.6h0M449.5 171.5h0M461.2 144.2h0M459.8 148.9h0M466.0 158.1h0M465.1 134.8h0M439.3 62.1h0M432.0 60.7h0M457.7 170.3h0M458.1 172.3h0M465.4 146.9h0M421.5 195.5h0M443.1 178.4h0M441.2 57.5h0M466.7 118.2h0M466.7 142.4h0M469.2 120.0h0M442.8 176.4h0M448.0 175.3h0M465.6 140.2h0M443.8 186.8h0M463.6 135.8h0M422.9 196.8h0M461.7 156.4h0M455.9 155.4h0M436.8 62.1h0M444.3 62.6h0M461.9 143.7h0M437.6 181.2h0M458.9 159.8h0M423.5 194.6h0M437.8 180.8h0M462.1 138.2h0M426.9 62.8h0M448.0 170.9h0M438.6 190.1h0M458.5 160.8h0M466.9 120.3h0M428.7 61.5h0M458.5 177.9h0M451.0 170.4h0M455.2 157.5h0M450.7 58.6h0M456.5 153.7h0M446.1 171.8h0M437.0 186.5h0M463.8 130.8h0M443.6 179.2h0M430.4 62.6h0M447.8 62.3h0M467.4 124.2h0M473.3 137.2h0M467.0 166.4h0M468.3 144.3h0M433.1 62.0h0M466.5 121.4h0M437.6 59.7h0M453.4 173.7h0M469.9 146.5h0M454.1 163.9h0M467.6 139.7h0M465.4 131.2h0M432.7 188.5h0M450.3 166.9h0M471.1 122.0h0M464.0 137.0h0M433.9 187.4h0M466.0 118.3h0M452.6 164.3h0M446.3 173.6h0M438.4 180.2h0M463.1 146.9h0M467.8 119.1h0M434.3 62.6h0M427.6 192.8h0M462.8 153.7h0M436.3 187.0h0M439.9 199.0h0M463.8 133.8h0M464.1 154.4h0M455.6 177.0h0M435.5 183.5h0M457.0 154.3h0M470.4 119.8h0M439.6 186.8h0M428.8 192.2h0M456.2 154.8h0M465.0 63.6h0M475.4 151.5h0M432.1 189.6h0M437.2 184.6h0M466.0 142.6h0M466.5 127.5h0M453.4 161.0h0M457.3 153.3h0M467.9 131.4h0M462.7 139.6h0M455.4 155.5h0M456.7 157.1h0M445.6 179.2h0M463.6 133.2h0M445.0 174.6h0M468.7 138.6h0M461.0 150.1h0M463.6 142.9h0M436.8 190.8h0M463.9 147.2h0M456.5 158.1h0M425.2 195.6h0M455.8 157.4h0M448.5 175.1h0M468.8 123.9h0M420.4 195.3h0M461.3 157.9h0M465.9 129.4h0M446.7 174.2h0M443.4 180.8h0M443.5 177.5h0M428.9 61.6h0M432.7 60.2h0M445.0 60.6h0M467.3 125.0h0M463.1 149.7h0M433.1 186.7h0M461.2 140.2h0M466.8 126.9h0M466.7 143.8h0M451.5 161.9h0M438.3 185.7h0M433.7 60.7h0M454.2 165.9h0M453.8 158.3h0M423.2 195.2h0M458.7 147.8h0M475.3 138.4h0M439.4 190.1h0M471.6 136.0h0M452.9 163.1h0M452.6 172.5h0M469.6 128.4h0M469.6 139.6h0M463.6 132.7h0M467.0 126.1h0M473.8 141.1h0M457.4 151.3h0M447.3 175.5h0M441.5 182.2h0M465.2 122.9h0M471.6 127.2h0M468.5 118.1h0M449.5 60.4h0M477.7 127.1h0M452.4 172.9h0M460.1 164.2h0M431.1 188.6h0M465.2 63.8h0M455.8 154.7h0M468.1 124.5h0M430.1 193.2h0M465.7 119.9h0M421.7 195.5h0M456.2 157.7h0M460.1 146.3h0M439.3 180.2h0M467.2 124.6h0M440.6 177.9h0M464.1 60.7h0M433.0 188.5h0M479.3 120.7h0M460.3 152.3h0M463.6 134.0h0M468.3 119.4h0M469.2 131.6h0M448.7 184.0h0M428.6 193.8h0M463.9 144.5h0M466.5 124.2h0M462.6 62.9h0M438.9 62.4h0M431.5 190.4h0M432.7 186.9h0M433.5 187.9h0M450.8 169.5h0M433.8 187.8h0M437.9 62.7h0M471.5 122.8h0M448.4 176.7h0M463.8 154.2h0M439.3 182.9h0M461.0 147.1h0M466.3 123.9h0M466.4 125.5h0M463.3 152.9h0M470.7 124.5h0M467.7 118.7h0M445.9 185.3h0M424.5 62.7h0M474.6 118.9h0M473.0 138.0h0M458.9 150.6h0M452.2 164.3h0M473.0 125.6h0M450.0 168.5h0M460.2 160.4h0M471.7 161.4h0M468.5 133.3h0M432.2 192.3h0M455.1 159.4h0M466.9 140.6h0M466.5 127.9h0M449.8 170.5h0M468.4 129.0h0M472.6 116.2h0M467.9 117.7h0M431.8 59.5h0M467.9 117.4h0M458.6 159.9h0M424.0 195.1h0M472.7 122.4h0M454.4 164.1h0M442.1 184.3h0M465.0 59.1h0M463.1 133.8h0M463.8 136.3h0M436.5 183.8h0M460.7 153.0h0M467.2 143.2h0M422.7 194.8h0M428.8 194.8h0M469.8 148.7h0M422.5 195.2h0M465.6 132.5h0M460.9 142.0h0M450.6 165.1h0M458.2 152.4h0M445.7 172.5h0M464.2 141.0h0M450.3 174.1h0M461.9 147.6h0M440.1 180.5h0M457.6 164.7h0M467.2 123.8h0M469.3 159.8h0M438.7 180.7h0M459.3 153.2h0M421.3 195.2h0M464.8 130.1h0M459.7 146.2h0M444.5 176.1h0M460.2 148.1h0M466.6 138.2h0M464.9 157.7h0M456.0 177.8h0M447.5 168.5h0M436.3 187.1h0M469.9 136.6h0M469.3 136.6h0M465.8 142.8h0M463.6 152.3h0M441.4 62.5h0M438.9 186.7h0M445.8 170.8h0M431.7 59.4h0M461.1 141.5h0" stroke="#000" stroke-width="1.6" stroke-linecap="round" opacity="0.85"/><path d="M373.8 25.2h0M352.0 38.4h0M362.5 38.4h0M370.0 38.4h0M377.5 38.4h0M386.5 38.4h0M398.5 38.4h0M438.0 38.0h0M452.0 38.0h0M476.0 38.4h0M485.0 38.4h0M341.5 54.6h0M345.4 73.5h0M365.5 121.5h0M369.0 100.0h0M372.0 110.0h0" stroke="#777" stroke-width="2" stroke-linecap="round" opacity="0.8"/><path d="M384.0 50.6h0M388.3 51.2h0M384.2 51.4h0M398.0 58.7h0M391.7 53.0h0M393.4 56.5h0M402.6 59.4h0M392.4 56.8h0M391.5 58.1h0M388.8 58.6h0M395.6 57.0h0M396.4 52.5h0M395.4 49.6h0M384.1 54.8h0M394.9 58.2h0M383.5 55.1h0M395.3 55.6h0M401.2 54.8h0M397.1 54.4h0M398.4 51.7h0M396.8 56.4h0M387.8 59.9h0M401.7 59.5h0M390.3 53.9h0M389.5 49.5h0M383.4 51.7h0M404.5 50.8h0M400.2 51.7h0M384.6 51.1h0M399.9 54.5h0M396.7 54.0h0M389.9 54.4h0M406.1 51.2h0M401.3 51.8h0M387.8 52.6h0M385.3 59.3h0M392.1 50.9h0M383.0 49.7h0M388.4 53.6h0M398.0 59.8h0M405.3 51.7h0M398.3 59.1h0M385.5 58.4h0M392.9 57.6h0M391.1 55.9h0M395.7 50.1h0M402.0 58.1h0M395.1 53.3h0M406.7 53.1h0M405.0 53.6h0M392.3 53.0h0M384.5 52.1h0M388.7 49.7h0M396.5 53.9h0M383.6 50.7h0M406.0 50.5h0M392.3 59.5h0M385.8 53.5h0M403.0 49.2h0M384.7 59.2h0M453.9 52.4h0M446.8 52.2h0M461.2 61.3h0M432.5 55.8h0M436.4 54.3h0M455.9 58.3h0M436.6 53.3h0M444.9 54.0h0M453.9 59.2h0M441.7 54.7h0M432.4 53.8h0M463.1 55.5h0M449.5 56.9h0M449.9 59.5h0M439.1 53.1h0M461.0 55.5h0M463.6 50.8h0M457.4 55.1h0M446.6 60.5h0M434.6 55.7h0M438.7 53.5h0M458.6 54.2h0M457.5 49.2h0M465.0 61.4h0M453.7 51.6h0M453.0 51.5h0M443.1 49.5h0M432.5 51.1h0M436.4 59.9h0M438.5 59.7h0M430.2 49.8h0M432.1 61.1h0M458.6 49.2h0M462.6 51.9h0M439.3 56.6h0M437.2 61.7h0M442.8 56.4h0M450.0 52.7h0M455.7 61.9h0M450.8 50.1h0M458.3 57.7h0M447.1 57.5h0M439.1 52.9h0M448.0 49.9h0M450.6 51.4h0M438.9 60.7h0M450.6 52.2h0M454.5 62.0h0M461.4 59.4h0M441.6 56.6h0M450.5 50.2h0M454.2 55.8h0M448.3 58.6h0M432.7 51.8h0M464.6 52.9h0M438.9 49.9h0M440.9 56.3h0M431.4 52.8h0M439.0 51.0h0M457.7 61.5h0M462.0 54.7h0M432.3 53.5h0M448.4 53.9h0M455.6 58.7h0M461.4 55.1h0M438.3 60.8h0M461.0 50.6h0M437.4 57.6h0M458.7 61.5h0M430.7 51.5h0M444.8 56.2h0M457.2 56.2h0M448.2 52.1h0M452.8 56.6h0M463.1 51.5h0M434.4 53.6h0M441.4 54.9h0M436.0 58.2h0M458.8 49.1h0M461.9 50.2h0" stroke="#555" stroke-width="1.1" stroke-linecap="round" opacity="0.7"/><path d="M474.7 63.7h0M481.2 105.9h0M481.5 99.5h0M481.5 63.7h0M486.5 116.4h0M476.5 109.6h0M476.3 64.3h0M481.4 87.3h0M484.9 76.6h0M494.1 71.6h0M485.9 93.2h0M484.0 78.0h0M483.5 82.6h0M486.7 89.8h0M482.0 86.1h0M485.1 95.2h0M483.5 66.3h0M486.5 89.6h0M480.6 95.8h0M484.2 89.3h0M474.1 114.7h0M482.9 75.1h0M473.7 58.8h0M478.1 102.3h0M486.4 76.2h0M478.8 117.9h0M481.8 62.6h0M495.9 110.3h0M481.3 71.9h0M471.0 117.4h0M470.2 117.7h0M489.9 56.6h0M480.2 63.7h0M477.3 67.3h0M481.3 91.8h0M479.9 111.2h0M479.9 61.9h0M485.0 65.8h0M475.7 63.4h0M491.7 58.7h0M485.2 121.1h0M471.0 61.5h0M481.7 49.6h0M480.3 95.8h0M483.9 81.0h0M469.2 120.4h0M485.0 86.2h0M503.9 90.6h0M468.7 122.8h0M474.0 63.3h0M480.6 77.5h0M480.8 104.1h0M472.8 119.5h0M487.3 105.8h0M489.6 103.5h0M495.6 96.8h0M487.0 66.8h0M482.7 93.9h0M474.1 110.3h0M474.2 124.6h0M483.1 76.0h0M481.8 124.3h0M482.5 106.6h0M471.9 63.3h0M493.0 60.0h0M478.8 51.0h0M473.3 62.2h0M484.5 77.3h0M486.1 84.1h0M483.3 100.0h0M474.9 112.1h0M480.6 70.5h0M480.9 79.0h0M481.4 74.1h0M481.5 64.8h0M485.6 85.4h0M483.6 79.0h0M487.7 78.1h0M487.3 59.3h0M493.5 85.9h0M467.8 118.9h0M490.1 102.5h0M481.2 113.1h0M490.0 87.8h0M483.9 92.2h0M467.6 116.8h0M481.6 77.6h0M483.5 80.3h0M477.5 122.5h0M469.0 126.4h0M469.2 123.2h0M481.9 82.4h0M487.0 101.5h0M485.8 84.1h0M478.9 68.2h0M485.8 89.1h0M470.2 60.6h0M470.5 58.7h0M482.3 66.6h0M480.8 78.0h0M469.6 114.5h0M473.6 60.9h0M480.5 75.4h0M479.2 108.9h0M489.2 99.7h0M481.8 67.7h0M489.0 78.7h0M471.7 53.3h0M473.3 122.5h0M476.6 106.6h0M498.7 87.6h0M481.0 88.7h0M475.2 64.4h0M472.4 112.5h0M487.9 128.8h0M481.1 83.1h0M485.7 110.0h0M472.6 61.5h0M481.7 85.5h0M481.8 84.8h0M474.8 55.2h0M489.0 72.6h0M469.5 127.1h0M486.3 84.9h0M468.0 120.2h0M489.4 75.6h0M480.7 70.1h0M467.1 57.6h0M483.1 84.9h0M486.8 93.2h0M483.7 95.6h0M491.0 90.5h0M474.4 107.3h0M484.7 97.4h0M479.5 97.8h0M488.9 102.0h0M484.6 72.3h0M476.9 108.2h0M471.8 62.5h0M482.3 96.0h0M484.3 106.2h0M478.5 60.5h0M470.7 113.0h0M471.1 63.5h0M494.2 78.2h0M481.9 81.7h0M481.7 104.2h0M487.6 91.3h0M474.8 59.7h0M489.5 69.7h0M480.1 96.5h0M486.4 77.2h0M479.0 63.5h0M468.3 115.8h0M484.2 94.5h0M478.8 59.4h0M485.7 83.5h0M480.7 89.8h0M497.6 69.5h0M486.4 60.6h0M475.7 65.1h0M467.9 120.2h0M483.8 97.8h0M482.1 81.1h0M476.0 106.1h0M475.2 64.1h0M480.0 54.0h0M477.8 113.0h0M485.3 66.8h0M482.4 116.2h0M489.6 98.3h0M479.6 107.3h0M484.4 93.3h0M467.5 117.0h0M481.5 102.8h0M492.3 60.3h0M475.5 62.7h0M481.1 81.3h0M485.0 100.7h0M471.3 60.5h0M487.7 76.7h0M470.2 120.5h0M479.4 110.3h0M470.5 56.0h0M484.8 73.2h0M479.3 108.9h0M487.6 86.4h0M479.5 66.6h0M482.2 98.1h0M484.2 86.5h0M494.0 85.8h0M489.0 75.5h0M475.3 63.7h0M484.6 93.1h0M478.9 117.9h0M481.3 85.9h0M484.8 85.1h0M475.0 116.3h0M480.0 69.1h0M484.8 109.2h0M480.4 111.3h0M477.1 102.1h0M483.0 71.6h0M484.6 94.9h0M483.1 75.0h0M500.0 90.3h0M469.7 117.2h0M498.4 92.2h0M480.3 62.7h0M480.2 68.3h0M479.9 73.6h0M479.0 99.2h0M481.1 78.4h0M470.7 58.2h0M480.9 68.4h0M473.0 110.4h0M470.9 125.5h0M478.1 66.9h0M480.6 99.3h0M475.2 125.2h0M482.6 88.9h0M495.7 83.6h0M492.8 58.9h0M491.4 80.2h0M488.2 76.3h0M480.7 90.0h0M484.5 95.8h0M485.3 57.7h0M483.3 101.8h0M485.7 102.3h0M481.4 65.1h0M486.7 63.4h0M469.6 123.5h0M485.9 80.6h0M481.9 81.2h0M474.2 64.5h0M490.6 98.6h0M472.1 64.3h0M473.5 58.6h0M469.0 116.3h0M480.0 100.7h0M481.8 107.5h0M468.4 120.9h0M477.7 67.5h0M480.4 72.3h0M482.5 89.3h0M480.1 95.4h0M475.6 121.6h0M483.5 62.4h0M481.5 111.2h0M481.5 86.8h0M481.2 79.8h0M483.7 69.7h0M468.6 61.4h0M485.2 79.4h0M488.2 74.2h0M467.3 63.1h0M484.9 65.3h0M481.0 83.4h0M483.1 87.5h0M484.8 87.9h0M491.9 81.4h0M467.6 58.8h0M467.1 122.1h0M476.1 60.2h0M477.5 111.5h0M468.4 54.9h0M480.8 89.8h0M476.7 112.6h0M487.3 77.3h0M488.6 99.1h0M470.1 119.1h0M482.7 96.0h0M468.3 123.2h0M484.6 72.0h0M491.9 87.3h0M481.0 77.1h0M483.8 70.0h0M469.9 114.9h0M467.0 119.7h0M485.7 79.7h0M481.4 84.0h0M486.3 96.2h0M470.9 116.1h0M481.4 89.2h0M493.7 97.5h0M475.2 54.8h0M486.9 84.5h0M488.1 76.6h0M489.0 81.5h0M485.6 79.4h0M472.4 63.9h0M482.9 102.5h0M492.6 90.1h0M485.5 64.4h0M473.4 123.9h0M470.0 61.6h0M483.5 114.9h0M475.9 64.1h0M486.4 83.3h0M474.2 111.2h0M483.0 71.0h0M482.5 83.4h0M490.3 81.7h0M481.6 79.9h0M480.5 98.4h0M478.8 100.3h0M481.5 106.2h0M489.9 96.2h0M480.5 93.9h0M468.7 116.6h0M485.7 90.1h0M484.5 102.2h0M480.1 72.8h0M487.0 94.3h0M484.3 71.7h0M479.8 71.4h0M475.4 108.0h0M475.8 62.5h0M482.4 69.4h0M474.6 107.5h0M479.1 104.5h0M477.0 110.4h0M480.4 95.9h0M484.9 90.8h0M473.9 53.9h0M485.5 84.5h0M470.0 114.1h0M476.3 59.3h0M473.4 118.2h0M486.0 92.7h0M486.3 73.7h0M482.5 95.9h0M479.0 64.1h0M480.9 75.9h0M478.4 111.0h0M479.9 68.5h0M475.4 58.8h0M482.1 100.1h0M473.1 57.4h0M481.9 84.6h0M478.1 101.0h0M485.8 54.1h0M477.6 108.7h0M478.5 102.9h0M489.0 87.0h0M486.3 113.1h0M493.6 51.0h0M481.4 84.1h0M478.9 99.4h0M481.4 82.3h0M493.9 101.5h0M478.0 61.1h0M471.5 121.5h0M476.3 109.8h0M480.7 104.2h0M469.1 55.8h0M492.4 75.9h0M482.5 64.3h0M474.7 60.8h0M470.8 61.1h0M475.5 64.7h0M481.1 100.9h0M485.1 61.0h0M471.7 116.2h0M485.1 72.5h0M473.2 113.7h0M482.1 126.7h0M477.0 65.7h0M481.1 69.0h0M478.1 111.8h0M489.2 100.1h0M469.0 57.5h0M484.3 74.0h0M478.4 63.4h0M482.6 89.4h0M497.4 71.3h0M480.9 72.3h0M475.3 64.6h0M504.0 64.7h0M474.9 108.6h0M473.7 57.1h0M477.2 58.2h0M481.7 101.6h0M479.4 105.7h0M495.1 100.0h0M467.3 128.5h0M480.2 105.6h0M486.7 77.5h0M493.7 95.1h0M473.0 111.9h0M480.6 100.2h0M480.8 100.1h0M479.3 65.8h0M480.5 90.9h0M490.5 105.7h0M483.1 85.3h0M485.8 112.9h0M486.2 91.7h0M482.2 94.7h0M481.0 119.2h0M491.1 76.0h0M484.7 72.1h0M487.2 98.0h0M473.4 113.3h0M475.3 61.2h0M475.9 108.1h0M481.8 105.8h0M474.4 58.9h0M481.5 78.9h0M474.2 110.2h0M487.7 59.8h0M482.5 77.3h0M487.0 93.8h0M490.4 110.6h0M484.1 83.3h0M484.4 62.6h0M481.3 85.8h0M484.5 80.0h0M470.6 123.2h0M492.6 56.7h0M490.0 80.1h0M488.3 88.3h0M484.2 81.4h0M489.8 79.4h0M489.3 64.8h0M470.7 113.6h0M485.9 93.4h0M485.3 100.3h0M481.2 84.9h0M468.4 61.8h0M488.0 103.2h0M483.1 79.9h0M496.9 73.6h0M486.9 73.8h0M487.3 97.6h0M469.2 58.8h0M492.2 95.6h0M482.8 72.7h0M481.2 107.6h0M477.3 105.1h0M493.0 67.5h0M474.4 63.4h0M481.0 58.9h0M482.0 93.3h0M483.2 95.7h0M478.8 59.0h0M482.6 112.7h0M478.3 66.8h0M469.4 55.9h0M484.8 73.8h0M472.3 116.8h0M475.6 108.2h0M482.3 93.0h0M486.8 71.2h0M468.6 62.7h0M484.3 72.8h0M480.2 94.3h0M482.7 74.4h0M480.2 73.4h0M487.7 78.5h0M471.3 56.8h0M485.1 94.0h0M479.6 102.4h0M485.3 99.6h0M481.3 80.1h0M495.9 82.4h0M482.1 95.6h0M467.4 61.7h0M481.3 90.2h0M481.4 78.5h0M486.9 95.6h0M483.8 57.3h0M477.9 100.8h0M487.9 75.6h0M481.5 104.6h0M471.6 62.4h0M484.5 105.1h0M483.3 79.7h0M483.3 63.7h0M483.5 97.0h0M484.9 83.0h0M477.2 106.1h0M474.7 111.2h0M474.6 60.7h0M481.7 92.9h0M472.6 59.0h0M476.8 59.5h0M479.1 103.2h0M482.1 88.5h0M485.0 76.4h0M475.4 116.0h0M475.1 113.3h0M469.4 57.3h0M483.4 82.3h0M507.3 83.3h0M486.3 82.8h0M482.0 77.6h0M481.4 75.4h0M484.1 86.4h0M480.7 102.8h0M466.8 124.0h0M476.1 110.7h0M495.8 63.0h0M489.1 73.3h0M488.5 73.9h0M471.8 122.3h0M483.0 66.0h0M479.7 68.7h0M477.9 100.5h0M482.2 62.1h0M489.5 113.2h0M483.9 104.0h0M484.1 101.0h0M489.4 84.3h0M480.4 119.1h0M489.4 104.4h0M480.4 73.6h0M481.4 69.8h0M488.5 65.0h0M473.2 114.8h0M467.4 124.0h0M473.2 111.8h0M479.3 66.6h0M483.5 98.3h0M483.2 94.5h0M471.3 120.2h0M485.9 94.3h0M485.0 83.6h0M488.5 92.3h0M473.4 52.6h0M473.8 113.9h0M474.7 107.5h0M494.5 94.3h0M480.4 97.8h0M484.7 107.8h0M494.2 80.3h0M494.8 82.2h0M472.1 126.7h0M476.8 109.7h0M478.8 66.3h0M487.9 107.2h0M467.5 120.3h0M482.0 68.0h0M480.7 87.4h0M485.9 67.0h0M482.7 92.3h0M478.6 117.2h0M486.7 86.2h0M470.4 116.5h0M474.3 109.7h0M500.1 74.3h0M480.6 73.1h0M475.6 110.8h0M491.7 103.0h0M478.4 63.2h0M481.2 92.6h0M484.3 104.7h0M484.4 99.7h0M473.1 56.5h0M485.3 81.5h0M482.6 98.1h0M485.9 85.0h0M488.2 65.4h0M485.7 93.8h0M485.2 62.9h0M489.3 93.8h0M471.2 117.6h0M471.3 115.7h0M469.6 123.0h0M489.1 100.4h0M479.1 98.6h0M483.7 68.6h0M483.0 99.9h0M472.2 110.8h0M485.2 72.2h0M488.3 68.5h0M487.0 66.5h0M483.6 63.7h0M490.9 93.0h0M468.6 119.8h0M482.5 80.7h0M475.9 106.0h0M487.7 110.6h0M470.8 120.1h0M478.1 113.4h0M483.5 64.7h0M488.3 76.5h0M476.4 64.6h0M485.6 87.7h0M485.2 67.5h0M472.1 119.7h0M484.1 70.7h0M482.0 83.9h0M483.8 69.1h0M485.7 87.5h0M482.4 88.0h0M466.8 124.0h0M481.0 106.4h0M485.9 100.1h0M489.4 97.1h0M492.5 85.7h0M480.9 81.9h0M480.8 103.5h0M475.2 111.0h0M483.3 76.7h0M482.1 87.6h0M481.7 108.9h0M493.0 80.7h0M480.2 66.8h0M493.7 109.1h0M477.7 66.1h0M469.1 63.4h0M484.7 115.4h0M471.4 62.7h0M477.5 111.6h0M483.3 51.8h0M500.4 97.4h0M484.4 64.1h0M478.7 60.6h0M492.5 84.7h0M490.7 82.1h0M489.3 91.2h0M474.5 55.4h0M485.0 92.9h0M488.9 90.8h0M470.1 55.9h0M488.4 93.7h0M486.8 81.2h0M482.1 94.3h0M490.8 92.3h0M476.4 111.6h0M482.2 90.4h0M479.4 131.3h0M490.9 95.2h0M490.8 108.3h0M485.6 91.0h0M479.3 102.3h0M490.5 84.2h0M477.4 102.3h0M474.5 62.7h0M467.8 119.2h0M492.0 91.3h0M493.0 94.8h0M481.5 84.0h0M487.1 47.7h0M484.4 55.2h0M481.6 108.1h0M494.2 124.2h0M489.3 76.7h0M481.6 63.1h0M483.8 111.0h0M483.9 77.1h0M486.5 97.2h0M488.6 67.7h0M481.8 76.1h0M466.8 62.8h0M488.7 84.8h0M480.7 97.3h0M478.1 108.6h0M469.6 126.7h0M482.9 110.3h0M481.4 81.6h0M485.2 88.7h0M467.1 120.5h0M494.1 107.3h0M481.9 83.0h0M484.0 88.8h0M487.1 99.0h0M495.1 76.0h0M481.5 109.9h0M495.0 110.9h0M474.3 108.4h0M483.5 95.6h0M487.2 85.5h0M489.8 52.2h0M499.1 61.6h0M470.9 120.0h0M480.1 72.3h0M467.6 62.8h0M472.4 63.9h0M484.0 96.6h0M481.7 64.9h0M472.3 58.7h0M471.5 114.0h0M487.8 72.6h0M482.2 66.7h0M484.4 91.4h0M490.6 84.6h0M480.8 104.7h0M468.2 55.0h0M483.0 78.0h0M503.2 73.0h0M481.7 67.7h0M488.1 100.7h0M477.2 66.9h0M489.4 86.0h0M472.7 59.8h0M481.2 81.2h0M488.4 101.4h0M480.4 102.7h0M467.2 119.1h0M478.6 109.2h0M485.6 100.2h0M483.8 99.6h0M473.6 64.1h0M488.1 75.0h0M496.1 83.1h0M481.7 72.8h0M467.8 57.2h0M480.8 69.7h0M480.8 63.0h0M483.9 108.5h0M484.5 101.9h0M469.3 59.0h0M489.4 88.4h0M488.2 78.9h0M495.8 61.8h0M481.2 95.5h0M476.1 110.5h0M478.0 111.8h0M471.8 111.4h0M483.5 78.6h0M474.7 117.2h0M483.5 70.6h0M482.8 72.4h0M485.4 94.9h0M479.2 102.7h0M485.8 61.9h0M473.4 110.2h0M478.8 60.0h0M469.3 59.1h0M484.0 96.3h0M471.6 118.3h0M468.8 118.0h0M486.3 91.3h0M477.0 62.4h0M468.6 122.1h0M493.3 83.1h0M479.0 68.4h0M471.1 60.0h0M474.3 111.7h0M479.3 104.3h0M472.0 118.7h0M479.3 66.6h0M477.4 106.6h0M480.8 78.1h0M486.4 104.3h0M487.6 96.8h0M489.2 66.8h0M486.3 102.8h0M478.2 60.8h0M489.7 82.1h0M481.2 97.3h0M487.8 96.7h0M483.9 61.6h0M480.4 104.3h0M484.6 92.9h0M483.5 80.3h0M492.5 95.2h0M483.2 71.3h0" stroke="#d42a10" stroke-width="1.4" stroke-linecap="round" opacity="0.85"/><path d="M373.1 86.6h0M368.7 61.0h0M361.8 65.8h0M367.1 49.2h0M361.7 96.0h0M370.8 58.5h0M367.5 94.7h0M374.5 88.4h0M366.9 71.2h0M371.2 50.0h0M369.3 60.3h0M374.2 50.1h0M371.2 89.6h0M364.4 90.9h0M374.1 47.9h0M371.6 47.1h0M368.6 68.4h0M364.0 62.9h0M373.1 62.5h0M363.2 81.2h0M367.7 86.1h0M364.5 62.7h0M373.0 71.8h0M368.6 58.6h0M361.2 92.7h0M362.3 88.4h0M366.5 93.6h0M367.0 92.9h0M369.3 58.8h0M372.1 80.0h0M371.3 69.7h0M364.3 78.4h0M362.6 80.9h0M370.5 65.4h0M373.0 56.5h0M366.9 86.1h0M366.7 81.9h0M370.2 93.1h0M375.9 82.5h0M373.1 54.5h0M371.7 88.5h0M367.0 74.1h0M368.2 94.0h0M365.8 66.7h0M361.0 67.6h0M370.5 92.8h0M374.9 63.0h0M375.8 56.2h0M373.3 54.7h0M367.1 50.6h0M373.9 87.6h0M363.1 72.8h0M364.9 71.1h0M369.3 52.2h0M374.0 60.7h0M367.7 49.8h0M361.0 56.6h0M366.1 92.5h0M374.3 70.5h0M367.8 79.7h0M373.9 63.5h0M372.9 66.6h0M369.9 83.1h0M368.5 80.8h0M371.5 47.3h0" stroke="#c03030" stroke-width="1.6" stroke-linecap="round" opacity="0.85"/><rect x="328.8" y="343.6" width="186.9" height="177.3" fill="none" stroke="#b8b8b8" stroke-width="1.3"/><line x1="325.8" y1="514.5" x2="328.8" y2="514.5" stroke="#b0b0b0" stroke-width="1"/><text x="322.0" y="517.4" font-size="8.3" fill="#222" text-anchor="end" font-family="Liberation Sans">0</text><line x1="325.8" y1="476.1" x2="328.8" y2="476.1" stroke="#b0b0b0" stroke-width="1"/><text x="322.0" y="479.0" font-size="8.3" fill="#222" text-anchor="end" font-family="Liberation Sans">1</text><line x1="325.8" y1="437.8" x2="328.8" y2="437.8" stroke="#b0b0b0" stroke-width="1"/><text x="322.0" y="440.7" font-size="8.3" fill="#222" text-anchor="end" font-family="Liberation Sans">2</text><line x1="325.8" y1="399.4" x2="328.8" y2="399.4" stroke="#b0b0b0" stroke-width="1"/><text x="322.0" y="402.3" font-size="8.3" fill="#222" text-anchor="end" font-family="Liberation Sans">3</text><line x1="325.8" y1="361.1" x2="328.8" y2="361.1" stroke="#b0b0b0" stroke-width="1"/><text x="322.0" y="364.0" font-size="8.3" fill="#222" text-anchor="end" font-family="Liberation Sans">4</text><line x1="335.5" y1="520.9" x2="335.5" y2="523.9" stroke="#b0b0b0" stroke-width="1"/><text x="334.2" y="534.5" font-size="8.3" fill="#222" text-anchor="middle" font-family="Liberation Sans">-3</text><line x1="366.0" y1="520.9" x2="366.0" y2="523.9" stroke="#b0b0b0" stroke-width="1"/><text x="364.7" y="534.5" font-size="8.3" fill="#222" text-anchor="middle" font-family="Liberation Sans">-2</text><line x1="396.5" y1="520.9" x2="396.5" y2="523.9" stroke="#b0b0b0" stroke-width="1"/><text x="395.2" y="534.5" font-size="8.3" fill="#222" text-anchor="middle" font-family="Liberation Sans">-1</text><line x1="427.0" y1="520.9" x2="427.0" y2="523.9" stroke="#b0b0b0" stroke-width="1"/><text x="427.0" y="534.5" font-size="8.3" fill="#222" text-anchor="middle" font-family="Liberation Sans">0</text><line x1="457.5" y1="520.9" x2="457.5" y2="523.9" stroke="#b0b0b0" stroke-width="1"/><text x="457.5" y="534.5" font-size="8.3" fill="#222" text-anchor="middle" font-family="Liberation Sans">1</text><line x1="488.0" y1="520.9" x2="488.0" y2="523.9" stroke="#b0b0b0" stroke-width="1"/><text x="488.0" y="534.5" font-size="8.3" fill="#222" text-anchor="middle" font-family="Liberation Sans">2</text><text transform="translate(311.6 429.3) rotate(-90)" font-size="10.3" fill="#111" text-anchor="middle" textLength="125.0" lengthAdjust="spacingAndGlyphs" font-family="Liberation Sans">-log10 BH-adjusted p-value</text><text x="324.2" y="546.2" font-size="10.3" fill="#111" textLength="191.8" lengthAdjust="spacingAndGlyphs" font-family="Liberation Sans">Log ratio Difference: non-DS AMKL - NBM</text><defs><linearGradient id="gd1" x1="0" x2="1" y1="0" y2="0"><stop offset="0" stop-color="#6a6a6a"/><stop offset="1" stop-color="#f0f0f0"/></linearGradient></defs><polygon points="343.0,550.4 343.0,562.3 418.8,562.3" fill="url(#gd1)" stroke="#222" stroke-width="1"/><defs><linearGradient id="gd2" x1="0" x2="1" y1="0" y2="0"><stop offset="0" stop-color="#f0f0f0"/><stop offset="1" stop-color="#6a6a6a"/></linearGradient></defs><polygon points="432.5,562.0 508.8,550.0 508.8,562.0" fill="url(#gd2)" stroke="#222" stroke-width="1"/><text x="344.4" y="573.5" font-size="10.2" fill="#111" textLength="71.2" lengthAdjust="spacingAndGlyphs" font-family="Liberation Sans">&gt; Methylation in</text><text x="347.0" y="585.0" font-size="10.2" fill="#111" textLength="66.0" lengthAdjust="spacingAndGlyphs" font-family="Liberation Sans">Non-DS AMKL</text><text x="437.0" y="573.5" font-size="10.2" fill="#111" textLength="71.8" lengthAdjust="spacingAndGlyphs" font-family="Liberation Sans">&gt; Methylation in</text><text x="461.0" y="585.0" font-size="10.2" fill="#111" textLength="23.4" lengthAdjust="spacingAndGlyphs" font-family="Liberation Sans">NBM</text><polygon points="402.0,357.5 396.0,359.5 390.5,364.0 387.6,373.8 384.0,388.0 380.4,402.6 377.5,431.5 379.0,460.3 386.2,474.7 396.3,489.0 407.8,503.5 424.4,512.5 427.0,515.5 427.0,505.0 425.5,471.0 422.5,433.7 418.7,396.0 413.9,366.0 409.0,359.0" fill="#000"/><polygon points="437.5,355.0 436.0,356.5 433.0,402.6 430.0,446.0 427.2,489.0 426.0,510.0 427.0,515.5 434.4,509.3 446.0,497.7 457.5,480.5 466.0,460.0 469.0,440.0 467.5,417.0 463.2,388.0 457.5,362.3 452.0,356.0 445.0,355.0" fill="#000"/><path d="M373.9 423.5h0M401.7 354.5h0M384.5 382.3h0M371.8 466.1h0M383.1 478.2h0M369.2 443.7h0M367.0 406.8h0M400.9 508.7h0M403.7 503.2h0M378.2 466.9h0M387.7 367.4h0M369.9 408.4h0M375.4 455.2h0M352.7 431.9h0M378.5 392.4h0M373.3 437.4h0M375.5 397.9h0M374.3 409.3h0M369.9 409.1h0M381.3 367.1h0M376.0 449.2h0M376.6 438.8h0M382.9 372.3h0M373.5 455.5h0M371.0 438.7h0M391.9 361.8h0M408.6 357.4h0M387.2 488.3h0M375.4 471.6h0M375.6 419.6h0M376.3 408.4h0M414.4 508.1h0M373.3 434.7h0M370.5 406.6h0M353.3 399.1h0M380.1 385.9h0M373.5 448.9h0M395.4 490.2h0M378.4 418.2h0M356.2 433.3h0M368.2 459.9h0M373.6 472.0h0M374.5 448.6h0M392.4 484.5h0M378.5 418.7h0M361.5 391.0h0M392.4 360.4h0M395.3 500.7h0M372.5 412.2h0M383.6 476.8h0M377.4 437.7h0M384.0 381.3h0M379.4 463.4h0M370.2 433.2h0M373.2 441.3h0M375.4 425.5h0M378.3 456.0h0M378.4 422.1h0M407.7 515.4h0M393.6 485.8h0M377.2 434.2h0M375.4 458.3h0M372.2 415.7h0M372.1 479.3h0M396.6 359.1h0M378.3 373.4h0M426.6 516.6h0M405.6 504.8h0M376.2 448.5h0M418.2 511.9h0M371.1 403.7h0M404.9 502.4h0M372.1 455.2h0M366.6 453.5h0M360.3 420.9h0M376.3 388.7h0M374.9 386.8h0M403.3 355.8h0M371.6 438.5h0M411.3 506.7h0M383.4 473.4h0M398.7 492.2h0M382.1 366.8h0M375.2 413.2h0M371.1 468.9h0M369.2 420.5h0M397.3 490.6h0M400.8 495.3h0M401.4 504.9h0M396.7 358.8h0M381.1 383.1h0M372.4 433.4h0M380.8 394.4h0M378.0 361.7h0M377.3 378.7h0M376.9 407.2h0M376.6 394.8h0M379.8 470.7h0M379.9 359.7h0M370.4 454.1h0M415.2 508.7h0M413.9 513.5h0M371.6 433.7h0M406.5 512.8h0M381.7 387.3h0M421.5 512.2h0M383.4 387.4h0M380.0 375.6h0M379.2 412.2h0M378.3 372.6h0M426.2 515.9h0M370.7 414.5h0M382.0 487.4h0M371.7 449.3h0M377.9 449.1h0M376.8 453.6h0M409.7 508.9h0M371.8 466.6h0M394.4 350.9h0M390.9 487.2h0M376.7 435.7h0M364.8 429.3h0M381.7 388.4h0M402.6 503.3h0M380.3 380.7h0M394.9 487.0h0M392.7 354.9h0M370.7 465.8h0M397.7 494.7h0M406.0 355.7h0M377.6 390.5h0M385.9 362.7h0M369.5 442.3h0M371.3 474.0h0M367.5 412.5h0M421.3 511.4h0M376.8 477.4h0M376.4 399.4h0M370.3 461.5h0M368.5 471.6h0M375.4 430.2h0M368.3 449.2h0M395.2 495.5h0M378.1 451.2h0M377.6 395.4h0M382.1 393.3h0M382.9 372.5h0M365.5 431.0h0M376.7 463.6h0M371.9 424.8h0M380.3 464.4h0M377.4 446.1h0M404.3 355.2h0M387.7 361.9h0M411.5 505.8h0M367.0 454.8h0M379.1 411.8h0M411.5 361.0h0M394.0 486.9h0M376.6 422.5h0M378.6 372.7h0M373.1 384.4h0M374.3 392.4h0M380.9 374.4h0M384.7 472.3h0M410.6 506.3h0M371.4 462.9h0M359.5 467.3h0M366.6 436.4h0M386.4 360.7h0M375.4 457.0h0M364.3 453.8h0M401.2 503.0h0M379.1 390.6h0M413.3 357.1h0M371.5 452.5h0M374.5 453.4h0M376.8 381.5h0M374.8 399.9h0M402.2 502.4h0M374.3 405.8h0M376.6 416.6h0M372.1 414.2h0M374.5 396.3h0M404.0 501.4h0M381.0 385.9h0M370.5 440.5h0M390.4 358.0h0M398.1 498.7h0M358.2 437.3h0M381.1 480.2h0M374.5 390.2h0M375.7 398.4h0M384.0 384.7h0M367.8 428.2h0M411.1 506.7h0M394.3 359.9h0M373.4 399.2h0M385.6 362.2h0M375.7 434.9h0M395.2 357.7h0M368.6 459.8h0M377.4 411.8h0M391.4 482.6h0M369.2 419.9h0M381.5 386.1h0M371.8 417.8h0M376.9 397.4h0M366.4 420.2h0M413.2 515.5h0M378.8 459.6h0M369.9 464.9h0M370.5 392.9h0M415.4 516.6h0M383.7 481.8h0M378.3 406.7h0M385.3 476.3h0M414.6 509.5h0M376.7 440.3h0M371.3 413.9h0M385.2 370.5h0M390.9 359.8h0M362.6 441.7h0M377.1 447.8h0M388.5 361.9h0M370.1 457.5h0M406.7 358.5h0M376.0 393.2h0M378.8 458.0h0M373.8 379.0h0M377.2 401.4h0M378.7 477.2h0M385.2 373.6h0M356.6 432.2h0M375.6 429.2h0M356.7 446.6h0M379.5 484.7h0M398.9 502.7h0M394.2 486.3h0M377.9 384.5h0M375.4 428.2h0M405.2 500.5h0M366.1 426.9h0M384.2 371.4h0M391.7 486.1h0M383.4 473.4h0M367.2 441.2h0M378.3 407.1h0M369.5 449.8h0M398.0 492.9h0M371.9 411.6h0M399.5 354.0h0M374.3 440.5h0M387.2 485.8h0M411.6 357.5h0M416.9 510.8h0M391.7 354.9h0M378.5 413.3h0M391.7 485.1h0M377.9 380.7h0M374.3 436.7h0M373.9 425.0h0M363.0 378.5h0M395.9 350.9h0M390.8 481.5h0M390.8 361.6h0M377.0 427.2h0M371.7 427.2h0M374.9 417.1h0M378.4 419.9h0M375.1 431.8h0M390.5 502.3h0M377.0 381.6h0M387.9 482.0h0M381.9 377.5h0M402.4 498.0h0M374.6 433.9h0M401.0 495.0h0M393.8 488.7h0M372.5 464.0h0M378.2 396.2h0M369.4 455.1h0M381.8 393.1h0M391.3 359.4h0M376.3 434.1h0M388.7 368.2h0M373.7 447.6h0M385.6 373.5h0M400.6 498.5h0M378.1 466.9h0M384.4 369.8h0M388.8 482.4h0M373.7 463.5h0M368.6 407.4h0M369.8 380.2h0M425.3 514.4h0M380.2 386.8h0M383.3 484.6h0M376.2 457.6h0M378.7 484.3h0M379.9 407.8h0M387.9 364.5h0M380.9 475.8h0M405.6 510.7h0M395.6 359.8h0M414.2 508.1h0M376.1 412.1h0M413.8 509.6h0M373.7 421.8h0M359.1 437.3h0M413.1 508.6h0M394.4 360.4h0M384.2 384.3h0M383.6 364.4h0M373.4 483.1h0M380.7 366.9h0M383.3 472.6h0M372.9 455.6h0M366.8 416.7h0M378.1 413.4h0M373.2 427.4h0M366.1 391.3h0M371.0 444.7h0M387.6 482.5h0M374.9 454.2h0M385.7 379.6h0M375.8 416.4h0M407.2 509.7h0M398.0 494.9h0M404.3 500.9h0M380.4 400.1h0M392.8 495.4h0M376.8 418.9h0M426.9 517.2h0M376.9 422.4h0M386.0 477.7h0M368.4 432.5h0M366.1 442.1h0M372.3 397.5h0M365.9 454.0h0M379.6 462.5h0M373.2 413.0h0M375.8 421.0h0M374.7 398.9h0M367.1 399.0h0M373.0 442.3h0M373.0 419.2h0M396.3 500.2h0M372.5 425.0h0M378.9 381.3h0M403.5 503.2h0M375.3 394.7h0M367.5 469.2h0M375.8 430.8h0M371.0 428.7h0M372.4 438.7h0M368.7 446.1h0M368.6 433.9h0M381.3 394.9h0M380.7 400.4h0M407.9 504.1h0M375.4 385.9h0M376.9 390.1h0M391.7 485.6h0M379.5 404.7h0M375.0 456.7h0M392.3 503.1h0M379.1 400.8h0M388.6 357.2h0M375.9 427.0h0M373.2 401.3h0M406.2 504.0h0M379.0 396.4h0M395.9 500.1h0M363.0 467.1h0M372.3 405.8h0M397.0 357.5h0M373.4 457.0h0M376.8 390.7h0M393.3 354.7h0M390.9 361.9h0M367.6 446.4h0M371.5 431.8h0M374.0 438.4h0M374.3 426.3h0M377.1 420.4h0M377.1 470.9h0M372.4 389.9h0M377.2 402.4h0M372.7 416.8h0M383.4 488.5h0M379.6 380.4h0M403.2 502.0h0M416.2 512.2h0M380.7 477.2h0M417.5 512.9h0M369.8 410.8h0M371.8 418.3h0M374.5 399.3h0M383.8 386.2h0M372.0 421.7h0M372.7 437.4h0M420.0 512.2h0M375.7 451.8h0M379.3 410.9h0M390.0 349.3h0M414.9 507.7h0M403.5 513.5h0M369.1 396.7h0M387.2 371.1h0M377.9 448.7h0M385.7 379.7h0M377.8 421.5h0M372.9 440.8h0M376.4 421.8h0M377.4 367.9h0M392.9 361.1h0M364.0 447.4h0M369.3 407.6h0M381.6 475.9h0M378.6 474.1h0M378.9 459.9h0M381.2 482.6h0M382.1 387.0h0M383.2 357.5h0M395.3 357.3h0M380.0 379.8h0M375.1 450.3h0M366.3 417.6h0M370.9 418.2h0M377.5 418.6h0M382.1 371.2h0M378.6 388.1h0M367.5 450.0h0M382.3 474.4h0M376.4 451.0h0M361.3 430.7h0M394.1 490.5h0M366.7 472.3h0M386.5 376.3h0M392.6 494.8h0M364.4 419.5h0M419.6 514.8h0M374.1 406.0h0M387.2 478.7h0M403.4 347.5h0M375.0 427.1h0M377.4 439.4h0M371.7 407.6h0M377.3 441.7h0M377.9 422.3h0M382.8 467.9h0M378.0 477.5h0M372.5 427.9h0M404.8 507.9h0M398.7 494.2h0M372.6 425.4h0M406.6 503.7h0M376.8 428.5h0M375.0 443.1h0M398.1 355.0h0M385.7 373.6h0M385.0 472.7h0M381.4 474.5h0M373.4 423.6h0M391.3 358.5h0M399.7 496.7h0M386.6 376.3h0M380.2 396.0h0M383.2 360.5h0M373.5 435.4h0M373.5 400.5h0M377.5 384.2h0M375.7 467.1h0M394.7 490.9h0M392.5 487.5h0M369.2 400.9h0M370.3 437.4h0M376.3 396.0h0M379.9 403.0h0M402.0 504.4h0M384.3 384.2h0M368.8 451.8h0M399.5 498.4h0M379.2 479.8h0M404.1 512.3h0M386.3 348.9h0M373.5 417.0h0M373.5 426.5h0M389.3 362.5h0M386.4 375.6h0M425.7 515.9h0M371.9 459.6h0M375.0 458.8h0M379.6 489.7h0M371.4 427.4h0M408.9 510.2h0M407.6 506.3h0M402.6 356.0h0M387.0 479.3h0M362.4 422.9h0M411.5 508.9h0M393.6 485.5h0M375.8 449.7h0M376.9 416.1h0M364.7 430.8h0M366.2 412.1h0M413.6 506.8h0M401.7 357.6h0M368.6 391.5h0M392.2 359.3h0M375.2 452.4h0M405.4 501.7h0M383.2 369.1h0M376.7 472.2h0M394.8 358.7h0M373.4 408.0h0M396.0 489.4h0M369.4 450.6h0M383.2 484.6h0M403.2 357.4h0M373.2 440.1h0M376.6 421.9h0M375.1 377.0h0M371.8 465.6h0M381.1 471.5h0M373.7 422.9h0M378.6 472.5h0M377.4 431.0h0M373.8 405.1h0M375.0 457.6h0M391.7 358.9h0M383.1 369.0h0M392.4 483.6h0M392.8 489.6h0M375.7 431.8h0M406.8 506.4h0M406.9 357.8h0M366.0 411.8h0M379.9 403.8h0M405.0 352.5h0M404.0 507.6h0M385.5 375.3h0M372.2 471.9h0M391.7 483.1h0M374.2 447.6h0M375.0 478.0h0M384.2 476.2h0M383.4 488.3h0M407.8 354.9h0M374.7 436.5h0M379.0 469.5h0M389.0 494.2h0M378.5 392.2h0M373.8 448.3h0M369.4 380.7h0M371.3 450.0h0M382.8 476.3h0M374.6 430.5h0M368.9 421.7h0M375.3 393.6h0M383.4 387.8h0M414.4 507.1h0M379.5 392.5h0M375.1 444.4h0M401.4 497.1h0M376.6 408.1h0M378.2 381.8h0M372.1 418.0h0M402.4 499.9h0M377.6 421.5h0M426.7 516.4h0M381.8 474.0h0M384.2 367.1h0M402.7 357.1h0M375.3 438.6h0M367.5 392.7h0M372.0 414.2h0M377.3 447.6h0M384.6 370.9h0M400.5 501.4h0M361.9 416.2h0M396.8 491.4h0M378.3 447.6h0M368.7 443.3h0M386.7 496.0h0M372.8 429.2h0M381.1 386.1h0M394.7 487.4h0M380.0 467.3h0M415.9 514.1h0M375.6 445.2h0M391.7 356.9h0M372.9 405.9h0M379.6 463.4h0M358.8 445.1h0M369.5 458.1h0M382.2 375.5h0M370.6 421.9h0M386.3 481.0h0M370.6 432.5h0M383.2 479.0h0M379.8 464.1h0M394.4 359.5h0M371.4 449.3h0M377.7 462.5h0M422.3 519.7h0M403.7 354.9h0M371.5 397.4h0M357.2 431.0h0M377.6 457.1h0M377.2 442.7h0M390.6 485.6h0M377.2 459.5h0M377.1 462.4h0M377.8 370.0h0M378.3 419.0h0M376.2 439.7h0M355.8 432.5h0M409.1 357.2h0M404.0 508.6h0M379.2 470.6h0M386.4 357.2h0M381.9 380.0h0M368.3 436.2h0M389.9 363.7h0M378.1 452.2h0M387.2 371.8h0M382.1 371.3h0M370.8 421.6h0M393.2 487.8h0M378.1 401.7h0M394.5 357.9h0M385.7 366.0h0M378.9 406.0h0M381.0 369.0h0M382.5 375.3h0M360.0 430.9h0M376.5 380.2h0M375.7 383.0h0M391.7 359.9h0M375.0 414.8h0M389.1 361.8h0M383.4 471.9h0M380.9 392.0h0M367.5 459.9h0M368.0 466.4h0M395.6 496.6h0M370.4 415.4h0M382.2 394.3h0M376.9 435.4h0M376.2 436.0h0M363.7 461.3h0M376.5 439.8h0M416.7 509.0h0M353.0 426.1h0M379.6 405.1h0M377.6 469.7h0M400.8 496.3h0M354.8 451.6h0M401.9 499.3h0M384.1 471.6h0M366.3 374.8h0M400.7 499.6h0M374.8 431.8h0M381.0 469.9h0M374.6 386.3h0M393.9 496.1h0M379.7 462.9h0M384.0 366.8h0M378.3 406.2h0M367.1 439.5h0M363.8 426.9h0M373.4 460.7h0M392.2 492.0h0M392.5 360.9h0M378.1 457.8h0M389.3 481.7h0M373.2 387.1h0M390.6 481.1h0M392.3 356.9h0M407.2 505.2h0M364.5 427.4h0M384.8 378.0h0M372.5 405.9h0M393.6 492.8h0M376.3 355.8h0M393.1 490.2h0M377.8 452.3h0M386.7 475.9h0M387.8 371.4h0M382.3 377.8h0M385.8 363.9h0M375.6 445.2h0M375.2 424.6h0M387.7 373.3h0M368.5 444.8h0M371.9 468.8h0M375.1 405.6h0M391.0 487.8h0M389.2 367.9h0M357.0 387.7h0M378.1 394.9h0M421.6 514.0h0M365.9 452.9h0M372.3 445.9h0M375.2 462.8h0M400.3 357.5h0M393.1 496.2h0M385.3 366.1h0M370.7 406.2h0M375.3 409.4h0M378.0 447.5h0M373.7 442.8h0M389.2 482.6h0M405.0 502.4h0M380.2 471.2h0M379.5 394.4h0M378.6 402.7h0M388.3 365.4h0M373.9 459.3h0M376.4 425.4h0M395.4 359.0h0M369.1 448.4h0M371.3 445.2h0M375.4 402.8h0M366.7 423.5h0M371.7 426.2h0M398.9 350.0h0M395.7 357.3h0M373.7 390.5h0M370.1 460.2h0M375.8 422.7h0M375.2 443.5h0M387.3 373.9h0M394.6 488.7h0M385.3 378.8h0M387.8 371.8h0M384.0 382.5h0M407.6 511.3h0M404.3 356.0h0M420.4 513.0h0M386.5 371.2h0M382.4 364.2h0M400.3 353.9h0M387.6 484.6h0M397.0 359.0h0M374.9 461.9h0M374.1 457.0h0M393.1 487.3h0M382.7 356.8h0M354.8 432.0h0M370.1 440.5h0M393.7 497.9h0M419.0 515.4h0M389.7 496.4h0M378.4 481.2h0M372.1 431.9h0M368.4 450.9h0M380.1 382.5h0M361.0 395.2h0M377.8 442.6h0M376.1 461.1h0M381.4 395.8h0M370.1 456.2h0M385.0 473.0h0M414.1 507.7h0M396.2 489.1h0M399.4 498.1h0M375.1 430.5h0M375.1 448.5h0M372.8 461.6h0M387.4 478.7h0M396.1 356.4h0M397.1 357.8h0M377.6 438.7h0M377.4 362.6h0M373.7 463.3h0M375.6 416.7h0M387.5 373.9h0M392.6 489.9h0M399.0 499.9h0M384.1 382.4h0M384.5 378.5h0M377.7 469.6h0M378.7 371.0h0M374.5 444.6h0M399.6 496.3h0M406.1 503.4h0M394.7 489.4h0M372.8 394.5h0M376.7 461.6h0M368.8 389.7h0M375.7 407.8h0M384.0 475.7h0M374.9 436.5h0M412.2 507.0h0M372.0 419.1h0M371.5 428.8h0M368.1 447.2h0M381.2 395.6h0M383.0 389.7h0M375.3 432.0h0M369.7 420.3h0M393.5 506.6h0M376.4 458.2h0M375.1 414.4h0M375.7 407.9h0M377.8 448.7h0M402.3 501.0h0M385.5 475.6h0M371.7 447.7h0M369.4 410.2h0M378.4 473.9h0M361.3 419.2h0M373.2 425.7h0M377.5 427.1h0M399.5 500.0h0M369.3 407.9h0M378.0 410.6h0M375.4 410.4h0M373.2 463.0h0M386.0 375.0h0M384.9 383.9h0M367.9 457.5h0M373.2 433.1h0M398.7 352.9h0M367.3 441.6h0M380.7 381.4h0M368.2 428.7h0M377.7 397.1h0M370.4 385.4h0M378.4 398.3h0M380.3 402.4h0M372.3 419.2h0M397.3 506.8h0M371.6 409.4h0M374.9 436.1h0M416.6 512.0h0M394.2 357.1h0M372.0 400.0h0M376.6 412.2h0M410.6 357.4h0M366.0 445.5h0M378.8 376.2h0M379.0 367.9h0M377.1 419.7h0M371.9 440.3h0M404.9 505.9h0M374.6 461.4h0M376.3 453.7h0M372.8 467.9h0M377.5 416.9h0M363.6 461.5h0M377.9 454.1h0M378.8 470.2h0M376.1 403.6h0M381.9 479.3h0M381.8 382.6h0M381.0 395.6h0M371.0 433.0h0M376.8 439.8h0M370.9 388.7h0M390.1 356.1h0M396.8 502.2h0M384.0 385.0h0M381.9 392.5h0M389.4 365.4h0M365.6 435.6h0M399.9 354.7h0M368.3 420.0h0M375.5 457.1h0M386.5 365.4h0M377.2 427.3h0M382.3 383.1h0M373.4 469.1h0M381.9 391.2h0M392.0 358.8h0M375.5 447.8h0M370.9 430.8h0M375.9 413.7h0M375.3 418.1h0M386.4 375.9h0M381.7 381.3h0M391.0 357.6h0M383.2 373.6h0M374.6 462.0h0M378.5 414.5h0M425.6 518.2h0M371.4 457.4h0M387.5 481.0h0M380.4 476.2h0M380.8 467.8h0M377.5 427.8h0M395.9 357.7h0M375.7 466.4h0M416.6 510.9h0M416.4 508.9h0M372.7 418.4h0M382.0 468.2h0M376.0 434.0h0M385.9 477.4h0M378.9 416.5h0M394.4 359.2h0M363.6 403.9h0M376.1 465.0h0M377.8 445.4h0M372.6 477.6h0M363.3 435.3h0M375.4 395.7h0M385.4 372.2h0M384.8 365.9h0M374.9 415.5h0M397.7 495.2h0M372.6 474.2h0M372.0 421.4h0M360.4 458.2h0M368.3 422.5h0M385.0 473.0h0M366.2 424.3h0M372.5 391.8h0M368.7 428.0h0M375.8 447.0h0M364.3 458.3h0M384.6 473.9h0M365.3 406.4h0M382.5 380.8h0M407.6 358.0h0M402.5 497.0h0M378.2 420.7h0M371.5 443.0h0M366.7 414.9h0M397.6 358.3h0M367.9 451.3h0M372.5 448.3h0M381.9 352.8h0M379.4 410.9h0M391.8 351.8h0M372.0 406.7h0M372.2 449.7h0M374.4 430.4h0M379.1 402.2h0M374.4 421.5h0M384.1 361.2h0M376.3 403.1h0M388.6 488.0h0M378.9 398.8h0M378.7 399.6h0M397.5 502.6h0M373.1 445.6h0M373.3 408.1h0M419.6 518.7h0M381.3 466.3h0M374.0 425.2h0M381.2 390.5h0M372.3 446.2h0M404.7 502.0h0M382.1 477.0h0M380.0 393.6h0M377.5 401.9h0M374.4 430.0h0M373.4 402.4h0M371.2 433.0h0M378.7 398.5h0M365.5 398.5h0M422.6 512.2h0M398.1 356.7h0M373.2 450.3h0M371.5 418.3h0M369.9 461.1h0M377.6 437.3h0M386.8 478.3h0M403.6 500.0h0M370.7 440.5h0M364.8 419.3h0M375.8 455.0h0M377.8 400.2h0M369.0 446.8h0M384.0 378.8h0M377.3 460.1h0M379.5 387.2h0M368.2 460.5h0M378.5 462.6h0M378.1 467.1h0M409.0 508.4h0M396.8 490.8h0M380.9 465.2h0M390.4 496.0h0M368.9 445.7h0M399.6 502.2h0M385.6 480.1h0M374.9 384.6h0M391.2 486.7h0M393.3 359.3h0M383.7 387.1h0M374.3 442.7h0M377.6 465.7h0M371.1 387.0h0M384.3 373.0h0M393.0 500.8h0M376.9 406.0h0M398.8 504.0h0M379.8 471.8h0M368.5 415.0h0M381.1 487.0h0M371.6 454.6h0M387.4 484.5h0M376.5 386.1h0M377.5 477.3h0M366.5 413.7h0M374.4 438.4h0M402.4 497.1h0M387.5 481.0h0M401.7 511.9h0M389.7 361.5h0M376.4 440.9h0M377.1 434.5h0M390.8 485.3h0M370.6 398.4h0M403.6 505.9h0M376.9 467.5h0M377.8 389.6h0M394.0 494.0h0M373.9 440.1h0M375.4 447.8h0M371.9 449.2h0M388.0 485.9h0M377.7 438.2h0M426.7 515.9h0M372.7 422.8h0M374.5 435.6h0M394.7 489.4h0M376.1 413.1h0M385.9 369.4h0M400.4 358.0h0M368.1 395.0h0M371.5 391.8h0M378.1 396.1h0M389.5 480.3h0M361.4 416.1h0M382.3 393.8h0M404.7 358.0h0M379.7 473.2h0M379.7 409.1h0M375.9 429.7h0M380.3 386.3h0M421.1 514.5h0M379.6 407.0h0M379.8 379.2h0M396.8 494.1h0M405.9 504.5h0M377.1 422.6h0M410.9 506.5h0M373.3 433.6h0M401.7 501.9h0M381.3 396.2h0M382.2 392.0h0M373.5 429.4h0M397.1 357.6h0M376.9 442.9h0M388.5 482.8h0M366.2 418.0h0M408.0 509.1h0M368.9 399.5h0M368.0 433.1h0M398.1 357.7h0M375.9 438.1h0M390.9 359.5h0M370.8 443.7h0M382.7 373.9h0M378.9 398.3h0M377.2 485.4h0M386.8 370.2h0M381.6 484.6h0M372.6 445.8h0M379.6 404.2h0M372.0 398.7h0M378.4 400.3h0M374.5 465.5h0M396.4 358.8h0M384.9 482.0h0M397.0 358.2h0M386.2 480.4h0M401.8 501.6h0M377.5 426.7h0M388.3 486.4h0M389.2 479.0h0M383.5 365.7h0M375.9 468.4h0M384.0 475.1h0M386.2 370.1h0M379.4 407.8h0M407.9 508.4h0M391.1 482.0h0M375.8 454.2h0M400.9 498.4h0M379.1 370.9h0M376.5 419.9h0M378.8 413.3h0M372.8 379.8h0M422.5 513.1h0M378.6 458.6h0M386.9 373.1h0M379.8 401.9h0M400.3 501.1h0M369.2 469.2h0M368.6 477.5h0M372.4 480.2h0M365.8 444.1h0M376.7 449.8h0M376.0 430.6h0M399.4 510.9h0M377.4 402.6h0M382.4 376.3h0M376.1 456.0h0M362.2 374.7h0M376.9 401.4h0M378.6 468.3h0M377.0 440.9h0M378.3 457.6h0M371.5 390.8h0M379.1 411.0h0M377.2 397.7h0M400.2 499.1h0M384.5 359.3h0M373.7 436.5h0M374.5 463.2h0M385.7 478.0h0M390.6 481.2h0M400.2 500.1h0M396.6 357.8h0M369.1 399.4h0M372.5 397.9h0M381.3 395.4h0M378.2 470.0h0M420.3 511.5h0M376.3 455.8h0M396.6 495.1h0M376.8 408.5h0M405.0 505.4h0M369.1 445.5h0M367.3 454.4h0M366.5 432.2h0M387.6 370.4h0M362.7 454.2h0M374.7 447.9h0M375.6 419.0h0M384.8 377.3h0M384.0 387.7h0M379.8 475.3h0M378.1 394.6h0M410.6 508.0h0M396.8 502.8h0M386.4 375.9h0M406.6 502.3h0M409.8 359.2h0M383.1 468.8h0M381.9 476.3h0M386.4 364.5h0M379.3 377.3h0M366.5 441.5h0M364.4 455.4h0M425.6 515.4h0M407.3 355.9h0M372.4 442.9h0M373.7 471.4h0M371.9 434.9h0M378.9 401.6h0M370.9 411.7h0M365.0 420.8h0M385.2 375.2h0M368.5 416.4h0M374.6 415.1h0M393.9 497.3h0M384.4 499.0h0M364.6 393.8h0M403.9 506.8h0M376.0 461.0h0M419.3 512.9h0M376.6 454.7h0M367.4 416.8h0M373.4 448.5h0M377.2 476.8h0M394.2 494.1h0M385.7 369.5h0M390.4 362.4h0M386.8 487.9h0M387.5 371.0h0M368.8 429.9h0M375.8 467.4h0M375.2 408.1h0M379.0 405.4h0M381.3 364.5h0M395.9 357.0h0M399.9 497.2h0M371.9 455.6h0M373.3 400.4h0M377.0 375.1h0M391.2 360.0h0M376.3 468.5h0M376.2 391.2h0M370.8 451.0h0M367.3 439.5h0M370.9 449.1h0M415.5 508.8h0M376.5 467.9h0M374.5 415.0h0M412.4 515.6h0M376.4 431.5h0M369.1 392.4h0M364.9 448.3h0M376.1 422.2h0M372.1 425.1h0M375.1 459.3h0M376.3 444.8h0M377.9 426.7h0M387.1 364.4h0M373.3 454.3h0M394.1 498.2h0M364.2 428.5h0M396.4 506.1h0M365.7 450.3h0M381.9 372.0h0M373.6 412.5h0M378.6 454.9h0M379.3 376.7h0M398.9 494.7h0M388.3 477.8h0M380.7 478.6h0M408.2 505.3h0M367.7 421.7h0M405.9 504.7h0M370.9 464.6h0M416.6 513.1h0M357.9 394.9h0M376.3 397.9h0M375.4 443.2h0M381.2 468.0h0M375.8 460.0h0M378.3 450.4h0M374.9 440.0h0M410.6 512.8h0M374.3 384.7h0M379.9 385.8h0M394.6 357.2h0M377.3 426.5h0M374.6 401.5h0M395.0 499.0h0M380.7 472.2h0M383.4 373.2h0M384.7 375.6h0M384.3 383.2h0M372.5 420.3h0M385.2 488.1h0M404.4 504.7h0M373.8 447.2h0M379.1 383.9h0M403.4 357.2h0M374.1 484.1h0M380.3 387.3h0M381.4 471.9h0M377.3 422.0h0M375.8 419.1h0M379.8 394.1h0M374.4 461.9h0M369.4 398.3h0M408.5 357.2h0M377.5 426.3h0M369.4 442.7h0M377.6 471.6h0M377.2 435.1h0M372.9 412.2h0M384.6 377.5h0M422.7 513.7h0M374.9 400.7h0M369.5 423.8h0M375.1 453.6h0M375.8 462.7h0M387.2 476.4h0M365.9 424.3h0M372.7 463.8h0M422.9 513.1h0M370.8 428.1h0M376.7 460.5h0M379.0 372.2h0M372.7 424.7h0M365.8 459.6h0M359.1 450.4h0M366.2 410.9h0M377.6 417.7h0M413.5 353.2h0M377.4 444.6h0M407.5 355.1h0M365.3 490.7h0M394.8 493.9h0M408.7 505.8h0M380.5 383.5h0M384.9 477.5h0M371.7 403.0h0M381.7 475.8h0M375.7 446.8h0M380.2 391.4h0M376.4 445.1h0M369.5 380.9h0M369.5 434.4h0M376.9 413.6h0M377.5 392.1h0M372.8 434.5h0M373.1 430.7h0M385.0 478.6h0M380.3 482.6h0M372.6 430.7h0M369.5 415.6h0M380.3 398.5h0M376.9 422.7h0M375.3 424.5h0M370.7 417.0h0M386.2 477.5h0M368.5 423.6h0M379.0 401.0h0M368.0 446.1h0M394.8 490.2h0M371.9 422.4h0M388.5 365.6h0M386.5 370.0h0M376.0 384.9h0M375.8 419.1h0M376.6 439.9h0M364.7 456.9h0M390.2 487.5h0M412.8 357.8h0M378.4 374.7h0M380.3 378.0h0M385.7 362.2h0M373.4 459.2h0M375.4 408.2h0M409.5 509.0h0M386.3 494.3h0M414.4 513.4h0M381.1 391.6h0M374.9 434.3h0M378.7 405.1h0M382.1 372.3h0M376.1 438.7h0M425.0 516.6h0M401.0 502.8h0M367.2 387.9h0M421.5 518.6h0M371.4 396.2h0M367.3 442.9h0M379.8 385.3h0M373.7 449.7h0M406.9 503.0h0M417.8 509.4h0M370.5 458.5h0M377.1 459.1h0M388.4 367.1h0M373.3 431.3h0M377.7 471.3h0M372.6 407.6h0M373.6 461.4h0M382.3 470.7h0M372.1 432.2h0M419.5 509.9h0M367.0 456.9h0M403.5 502.0h0M384.0 385.8h0M376.5 403.0h0M377.3 464.9h0M412.7 509.7h0M375.5 446.5h0M388.0 496.9h0M367.1 417.0h0M373.5 445.2h0M399.3 493.5h0M378.7 403.6h0M378.3 416.0h0M378.6 470.3h0M369.6 414.8h0M383.7 385.7h0M364.9 447.3h0M376.5 438.8h0M394.8 490.0h0M382.9 384.6h0M418.8 511.9h0M363.0 452.7h0M362.0 469.2h0M417.3 511.1h0M423.1 515.6h0M366.9 448.4h0M382.2 482.0h0M370.4 434.3h0M377.4 449.1h0M376.8 412.5h0M379.8 465.9h0M364.5 422.4h0M377.2 440.5h0M366.9 458.5h0M379.1 460.8h0M390.6 359.0h0M372.0 435.3h0M373.9 390.4h0M383.7 385.3h0M373.5 406.5h0M372.5 476.8h0M384.6 480.9h0M370.5 413.8h0M420.8 514.0h0M378.2 471.3h0M367.8 430.3h0M361.3 415.9h0M355.2 404.2h0M383.4 388.5h0M379.0 377.0h0M390.3 487.7h0M380.9 372.6h0M379.8 467.5h0M380.4 471.4h0M388.1 368.5h0M378.7 477.4h0M384.7 379.6h0M412.8 359.9h0M406.9 505.5h0M369.7 452.2h0M378.0 461.9h0M376.6 362.5h0M372.8 416.3h0M379.7 386.7h0M409.0 504.4h0M376.9 477.0h0M390.8 485.4h0M372.3 426.5h0M385.4 498.0h0M370.1 419.7h0M377.0 470.0h0M393.7 496.7h0M379.8 466.8h0M377.1 471.2h0M388.0 358.8h0M373.0 447.5h0M376.4 377.5h0M396.6 357.2h0M376.8 425.8h0M377.8 389.6h0M384.5 378.3h0M389.9 365.1h0M377.1 473.0h0M412.6 508.9h0M377.5 405.4h0M385.2 369.5h0M375.2 436.9h0M370.4 415.7h0M403.3 502.6h0M358.3 459.9h0M379.5 398.6h0M403.2 497.8h0M375.9 438.2h0M399.1 506.8h0M373.6 413.4h0M376.1 373.7h0M370.4 416.3h0M394.3 486.6h0M380.7 392.6h0M376.7 407.6h0M378.7 477.9h0M369.2 408.6h0M378.4 409.1h0M387.4 366.2h0M372.0 457.3h0M386.3 483.4h0M406.0 355.0h0M364.7 430.0h0M370.4 444.8h0M376.3 474.8h0M420.7 515.1h0M378.6 391.4h0M376.6 402.0h0M408.1 505.8h0M401.1 498.0h0M376.2 417.4h0M400.4 499.8h0M372.0 449.4h0M375.2 416.8h0M373.8 457.8h0M381.1 471.8h0M376.2 389.0h0M375.6 426.6h0M370.9 424.3h0M396.3 496.2h0M387.7 358.5h0M364.1 447.4h0M377.1 422.5h0M422.7 514.4h0M364.2 396.5h0M387.9 369.7h0M397.9 357.3h0M385.9 371.5h0M387.0 482.1h0M383.1 376.7h0M421.3 513.5h0M374.6 384.2h0M362.2 420.4h0M368.2 408.2h0M364.5 394.8h0M377.9 440.4h0M393.0 360.5h0M374.4 410.1h0M372.7 427.0h0M385.3 382.6h0M364.6 439.8h0M372.9 452.9h0M386.4 479.3h0M390.5 349.9h0M375.5 466.5h0M406.5 355.9h0M371.1 389.0h0M371.8 453.5h0M423.5 515.2h0M386.8 495.3h0M372.6 429.1h0M372.5 455.5h0M373.3 464.2h0M375.4 462.3h0M403.5 506.2h0M383.2 359.8h0M368.4 430.8h0M380.2 472.9h0M414.7 507.3h0M362.3 389.3h0M369.8 463.5h0M371.4 460.0h0M384.6 479.6h0M375.5 450.5h0M398.4 353.6h0M371.8 398.0h0M403.4 503.8h0M376.0 468.4h0M395.8 489.1h0M374.6 443.7h0M404.9 357.5h0M406.3 503.9h0M368.8 453.5h0M377.0 441.5h0M386.3 372.5h0M375.7 452.5h0M358.7 430.8h0M370.8 403.1h0M375.8 418.5h0M367.5 444.3h0M371.6 442.2h0M367.5 417.5h0M370.9 440.8h0M398.7 498.5h0M379.2 468.7h0M368.8 493.6h0M379.8 474.5h0M379.6 488.2h0M390.2 357.7h0M382.4 389.1h0M376.0 385.9h0M375.7 428.1h0M416.3 512.2h0M379.9 375.1h0M378.1 415.9h0M377.9 460.2h0M379.1 399.2h0M368.3 428.4h0M396.3 495.5h0M382.8 379.5h0M375.5 393.6h0M388.0 362.8h0M365.2 435.0h0M377.9 380.1h0M375.9 404.1h0M419.3 514.0h0M372.4 403.2h0M381.3 396.4h0M384.3 484.0h0M382.4 385.1h0M403.0 356.7h0M414.5 507.4h0M368.6 427.8h0M401.8 496.2h0M359.8 410.4h0M375.3 434.6h0M368.7 418.8h0M368.1 463.4h0M376.1 435.3h0M378.4 487.5h0M409.2 513.3h0M387.6 483.4h0M372.5 419.2h0M423.0 514.0h0M380.2 398.1h0M378.0 480.4h0M381.0 467.7h0M377.0 387.9h0M362.2 462.0h0M369.0 432.7h0M380.2 368.9h0M375.5 391.7h0M395.9 502.2h0M402.3 500.4h0M388.6 479.4h0M364.8 424.2h0M380.1 399.4h0M398.2 355.6h0M381.7 471.8h0M377.2 473.2h0M397.3 506.3h0M370.6 400.7h0M388.3 483.7h0M382.5 393.6h0M377.3 418.2h0M398.5 357.5h0M371.9 399.9h0M375.7 391.9h0M368.7 423.3h0M371.2 420.3h0M381.4 466.7h0M380.6 383.6h0M382.0 362.8h0M378.5 378.1h0M375.7 414.3h0M377.5 430.0h0M374.6 464.1h0M395.3 355.4h0M380.3 386.4h0M390.0 364.4h0M409.1 508.6h0M365.8 443.7h0M374.8 460.1h0M394.1 491.2h0M373.9 405.7h0M384.4 380.3h0M375.0 405.4h0M363.6 453.2h0M393.1 484.9h0M377.5 407.2h0M374.3 432.6h0M376.5 433.2h0M384.8 487.6h0M375.0 475.9h0M367.8 464.3h0M369.0 429.4h0M398.8 357.1h0M367.2 451.8h0M381.5 479.8h0M385.4 480.6h0M421.5 511.5h0M403.1 501.9h0M424.0 514.0h0M405.8 502.0h0M363.1 451.8h0M383.4 361.4h0M385.9 375.2h0M373.8 450.0h0M374.4 417.9h0M396.9 355.4h0M391.7 362.4h0M396.2 357.5h0M399.8 511.9h0M371.0 400.4h0M373.8 455.6h0M380.3 399.8h0M403.0 502.8h0M365.1 416.9h0M370.5 390.0h0M406.0 502.1h0M406.9 508.4h0M383.6 387.1h0M367.2 430.9h0M380.9 383.8h0M386.6 363.6h0M407.8 505.6h0M374.3 414.6h0M394.7 490.5h0M376.3 404.4h0M396.3 490.3h0M373.4 426.5h0M388.4 363.7h0M385.0 376.0h0M375.3 423.3h0M372.7 452.6h0M424.4 515.8h0M373.6 447.9h0M387.4 362.7h0M390.6 354.3h0M390.1 362.8h0M378.0 467.8h0M381.3 465.0h0M375.9 365.5h0M380.3 398.0h0M371.5 465.5h0M372.5 467.6h0M376.1 413.2h0M371.8 399.1h0M411.2 359.4h0M413.6 512.0h0M369.1 464.2h0M371.4 415.5h0M418.2 513.6h0M398.8 357.4h0M370.0 387.2h0M410.3 357.3h0M396.6 359.3h0M384.2 381.6h0M371.6 428.7h0M387.9 480.2h0M379.9 464.6h0M378.1 406.5h0M376.2 449.4h0M376.1 383.3h0M373.5 466.9h0M381.8 476.2h0M408.8 507.0h0M381.0 468.4h0M376.5 428.8h0M399.4 497.6h0M373.7 402.0h0M398.4 495.5h0M378.0 454.6h0M398.7 506.4h0M368.1 386.9h0M406.7 504.4h0M376.3 432.8h0M373.2 438.4h0M370.5 445.1h0M375.5 402.9h0M368.6 418.9h0M375.5 419.5h0M409.8 356.9h0M383.0 468.9h0M368.0 405.0h0M373.6 417.0h0M372.5 423.5h0M366.9 426.7h0M375.5 415.7h0M410.2 358.4h0M367.2 439.8h0M384.4 363.9h0M378.9 386.6h0M385.0 475.0h0M365.9 456.5h0M376.5 407.3h0M378.5 453.8h0M384.6 384.6h0M387.1 366.8h0M376.4 469.7h0M359.0 432.3h0M393.9 359.4h0M366.6 441.5h0M377.6 469.4h0M374.2 458.7h0M374.0 387.0h0M373.0 448.1h0M372.9 410.6h0M375.3 433.3h0M382.6 372.3h0M404.0 499.1h0M378.4 403.9h0M371.4 423.7h0M370.0 447.0h0M367.6 441.6h0M372.3 411.0h0M370.7 423.7h0M377.6 376.4h0M379.3 469.7h0M377.5 465.3h0M368.6 451.7h0M402.4 502.1h0M358.0 459.5h0M378.1 422.9h0M405.1 500.4h0M384.1 361.5h0M376.0 454.5h0M385.2 380.1h0M426.7 515.9h0M371.6 442.1h0M372.6 454.0h0M361.0 437.9h0M378.6 418.4h0M392.8 358.9h0M408.6 505.6h0M401.3 499.1h0M376.3 435.3h0M411.5 509.6h0M384.6 373.2h0M386.0 375.2h0M376.0 441.0h0M378.8 478.8h0M393.8 494.2h0M366.6 463.9h0M374.2 464.6h0M377.7 477.8h0M386.4 485.2h0M402.4 508.4h0M390.7 481.6h0M393.3 510.8h0M392.7 489.7h0M372.1 449.8h0M403.9 503.3h0M371.4 423.7h0M387.8 362.7h0M365.0 430.3h0M377.3 389.4h0M382.2 380.1h0M416.3 509.7h0M376.1 394.0h0M406.7 353.6h0M376.9 434.0h0M381.3 364.7h0M386.1 353.3h0M399.4 494.2h0M378.9 402.6h0M420.7 512.4h0M377.2 411.3h0M374.7 452.5h0M378.4 403.3h0M395.9 495.3h0M410.1 354.8h0M389.0 364.4h0M396.9 358.0h0M387.2 477.0h0M368.4 430.8h0M374.9 466.3h0M393.9 359.6h0M392.8 486.7h0M383.1 471.0h0M376.8 464.5h0M373.8 417.4h0M380.0 395.0h0M386.3 365.8h0M374.5 372.2h0M379.1 461.1h0M378.8 394.0h0M376.8 412.4h0M382.0 469.8h0M390.4 486.4h0M371.3 435.0h0M378.0 482.3h0M372.1 372.7h0M375.8 438.6h0M373.0 422.3h0M374.7 450.3h0M368.8 409.4h0M377.1 427.7h0M375.1 387.7h0M376.6 453.8h0M371.7 388.1h0M370.1 431.2h0M391.0 488.6h0M375.0 438.5h0M376.4 479.1h0M383.5 389.3h0M415.3 508.7h0M410.1 505.8h0M403.5 500.8h0M380.4 482.0h0M375.4 445.8h0M393.7 491.0h0M381.9 396.1h0M368.6 430.6h0M385.0 374.3h0M404.9 503.3h0M373.2 434.2h0M376.3 444.3h0M371.8 398.4h0M391.2 355.7h0M426.7 516.2h0M366.5 464.2h0M388.4 479.8h0M376.2 405.3h0M379.6 467.0h0M377.9 476.2h0M375.1 438.4h0M378.2 399.5h0M387.0 480.9h0M393.4 492.1h0M383.1 372.2h0M401.1 500.0h0M380.5 472.0h0M373.8 409.1h0M378.9 406.8h0M419.2 512.8h0M400.5 496.3h0M377.1 421.0h0M363.9 440.1h0M385.2 380.3h0M362.8 412.1h0M395.4 499.5h0M373.8 392.6h0M388.8 368.0h0M381.0 387.9h0M403.6 500.2h0M378.2 400.7h0M402.5 504.7h0M370.8 402.4h0M370.3 467.5h0M367.9 457.4h0M372.5 407.2h0M370.1 425.0h0M386.6 373.6h0M374.4 458.0h0M371.2 455.6h0M376.3 433.6h0M376.4 442.2h0M378.7 407.3h0M367.4 416.5h0M415.8 514.2h0M379.3 401.5h0M388.5 362.1h0M414.4 508.6h0M415.5 510.4h0M364.5 419.4h0M376.2 458.3h0M367.7 421.2h0M385.8 476.9h0M384.4 478.0h0M420.2 510.4h0M373.9 408.9h0M374.9 438.9h0M377.4 440.8h0M396.9 491.4h0M373.1 420.5h0M375.6 440.2h0M371.6 426.8h0M383.6 475.1h0M381.8 387.8h0M388.7 362.8h0M387.4 354.0h0M376.5 396.1h0M389.8 485.5h0M392.0 360.4h0M377.3 465.0h0M377.2 411.7h0M377.9 449.7h0M465.2 470.2h0M435.8 352.1h0M468.0 460.1h0M471.1 419.6h0M467.9 410.6h0M445.6 351.3h0M490.2 446.2h0M447.0 500.6h0M450.0 353.6h0M467.0 409.2h0M460.3 483.1h0M471.8 375.4h0M445.9 352.8h0M452.5 491.0h0M462.0 372.8h0M475.4 444.1h0M460.6 355.5h0M446.9 496.5h0M467.3 375.0h0M469.7 419.3h0M442.5 351.7h0M470.0 459.7h0M471.8 399.6h0M467.0 457.1h0M467.6 407.7h0M469.9 429.2h0M476.7 358.1h0M466.3 400.3h0M470.0 390.5h0M435.2 512.1h0M470.4 430.6h0M478.2 417.6h0M471.3 373.8h0M450.5 492.5h0M467.4 404.3h0M467.3 407.4h0M463.4 357.4h0M478.1 381.5h0M461.5 362.3h0M469.1 399.0h0M474.8 398.2h0M468.3 415.8h0M476.5 429.0h0M447.5 355.0h0M489.2 447.3h0M464.9 367.6h0M466.8 460.4h0M468.0 421.0h0M438.7 507.8h0M460.2 486.4h0M461.9 380.3h0M475.7 430.6h0M464.0 363.4h0M468.8 390.5h0M460.5 368.5h0M469.8 411.5h0M466.5 389.3h0M487.3 455.7h0M484.1 410.8h0M462.9 382.9h0M454.6 351.7h0M457.1 487.0h0M471.1 423.4h0M471.0 444.6h0M469.5 426.5h0M469.5 401.4h0M467.5 450.9h0M472.9 411.8h0M469.1 408.7h0M470.6 378.3h0M481.2 457.4h0M467.9 467.8h0M472.0 465.4h0M469.9 421.2h0M472.5 443.9h0M473.1 451.3h0M481.0 436.6h0M478.7 436.3h0M472.2 427.9h0M452.2 355.6h0M482.6 431.3h0M458.0 490.2h0M452.7 488.2h0M463.2 470.4h0M470.0 461.9h0M465.4 394.8h0M477.2 409.2h0M469.8 409.8h0M470.6 435.4h0M464.0 371.8h0M462.1 474.2h0M463.0 471.9h0M472.6 425.0h0M455.8 356.7h0M471.8 494.3h0M480.7 418.2h0M477.2 456.0h0M454.0 492.4h0M447.4 500.2h0M472.1 417.8h0M480.2 438.8h0M467.0 457.2h0M467.9 376.3h0M451.6 493.9h0M469.5 430.6h0M463.8 469.7h0M486.5 424.0h0M461.9 478.3h0M460.3 374.5h0M472.4 434.4h0M456.2 359.9h0M464.3 469.2h0M460.6 491.5h0M441.4 354.4h0M476.7 456.8h0M455.6 357.1h0M466.4 405.1h0M499.2 368.5h0M472.6 380.9h0M439.8 505.3h0M470.4 457.8h0M467.2 397.9h0M460.4 476.2h0M464.6 384.8h0M478.3 443.4h0M479.9 430.6h0M470.4 445.0h0M469.8 452.9h0M449.7 348.6h0M466.9 455.7h0M476.4 421.5h0M463.8 391.7h0M441.4 506.3h0M461.9 377.8h0M466.9 480.5h0M470.7 425.9h0M468.1 386.4h0M462.8 381.6h0M465.2 463.1h0M472.9 464.5h0M457.1 504.9h0M464.7 397.8h0M463.2 469.5h0M467.4 456.0h0M475.8 434.4h0M438.1 508.3h0M469.7 458.5h0M458.7 359.3h0M467.4 411.6h0M472.1 393.1h0M470.8 465.6h0M470.0 433.1h0M472.4 442.5h0M480.9 399.4h0M468.2 457.0h0M474.5 417.6h0M471.2 436.0h0M467.3 452.9h0M455.1 356.3h0M486.4 416.1h0M467.0 461.2h0M457.6 357.7h0M481.1 415.5h0M459.1 483.3h0M469.2 409.3h0M466.8 389.2h0M473.4 442.2h0M463.5 474.9h0M466.8 412.1h0M465.1 368.8h0M468.9 349.2h0M469.4 453.8h0M451.0 355.4h0M470.0 425.7h0M460.1 350.5h0M487.1 467.2h0M469.2 445.1h0M474.5 390.9h0M481.9 405.7h0M470.9 460.7h0M462.6 359.6h0M449.4 496.7h0M464.3 385.1h0M470.8 396.3h0M460.3 373.6h0M469.3 412.6h0M456.2 356.2h0M471.0 450.8h0M440.3 505.0h0M468.7 431.3h0M476.1 347.4h0M469.0 413.1h0M476.7 468.5h0M459.8 479.2h0M464.9 467.7h0M461.5 366.4h0M462.4 485.8h0M485.6 429.8h0M469.2 420.7h0M453.6 487.5h0M474.8 416.6h0M487.2 446.2h0M467.3 453.1h0M462.0 369.2h0M478.9 398.1h0M462.1 361.8h0M476.5 397.9h0M469.7 448.4h0M484.3 388.2h0M470.2 463.0h0M471.1 455.4h0M472.5 407.2h0M446.3 353.7h0M456.6 490.8h0M442.7 353.7h0M472.4 431.6h0M469.3 431.7h0M464.2 471.4h0M467.2 372.4h0M468.4 367.7h0M468.0 388.4h0M470.3 409.4h0M468.3 423.3h0M476.1 380.8h0M468.2 396.5h0M477.6 437.2h0M481.8 393.1h0M461.8 483.9h0M455.8 489.1h0M467.2 362.9h0M444.4 506.7h0M452.0 498.1h0M454.6 485.4h0M467.7 380.8h0M467.3 491.0h0M470.7 386.6h0M468.2 420.5h0M467.8 411.9h0M442.7 354.2h0M471.5 424.5h0M479.7 405.0h0M470.8 483.9h0M439.5 505.5h0M460.5 481.9h0M454.3 354.8h0M467.0 377.5h0M467.4 410.0h0M469.1 420.4h0M475.4 409.1h0M465.5 378.9h0M467.7 364.0h0M468.2 418.1h0M460.0 356.7h0M466.6 406.6h0M466.8 457.9h0M451.2 354.2h0M435.8 511.9h0M466.6 379.9h0M435.6 353.2h0M476.3 379.1h0M473.9 411.8h0M473.9 443.0h0M468.3 458.0h0M461.9 478.7h0M468.0 421.4h0M455.2 350.4h0M461.7 362.5h0M473.7 466.4h0M467.8 379.7h0M470.4 422.1h0M460.7 482.5h0M457.0 352.0h0M471.3 423.0h0M463.6 358.4h0M460.4 489.1h0M452.6 489.3h0M471.9 407.8h0M465.3 391.4h0M467.2 365.4h0M464.5 386.1h0M470.1 429.9h0M474.8 462.5h0M460.9 486.9h0M444.2 502.3h0M472.2 414.3h0M461.8 476.1h0M468.6 449.0h0M470.4 457.8h0M466.3 389.1h0M477.5 431.7h0M479.4 434.2h0M475.0 448.1h0M444.4 352.2h0M435.6 354.1h0M448.7 495.4h0M469.3 461.4h0M475.4 450.1h0M475.4 436.1h0M471.8 441.9h0M470.4 417.2h0M464.4 464.1h0M483.1 432.0h0M473.4 381.1h0M469.7 405.5h0M474.2 461.8h0M444.8 353.9h0M481.8 423.1h0M476.1 411.3h0M451.6 352.8h0M462.1 470.5h0M452.6 493.0h0M460.0 361.5h0M466.9 377.8h0M479.1 431.6h0M464.0 361.1h0M468.9 385.4h0M469.3 436.0h0M474.2 430.4h0M459.8 370.7h0M473.3 400.7h0M457.1 487.6h0M470.8 403.4h0M474.5 470.2h0M480.2 422.3h0M462.3 381.2h0M474.5 383.3h0M466.0 377.1h0M475.8 460.7h0M478.0 422.6h0M479.0 386.4h0M471.6 408.8h0M459.5 481.9h0M465.4 464.8h0M478.3 408.6h0M460.4 482.1h0M466.7 407.9h0M472.3 426.4h0M470.1 418.1h0M476.6 427.3h0M462.0 481.9h0M477.0 412.5h0M468.9 378.1h0M479.4 408.4h0M470.1 458.9h0M477.0 414.0h0M473.4 437.8h0M480.0 396.9h0M470.5 459.1h0M476.0 439.8h0M452.9 356.2h0M474.7 451.1h0M471.0 448.3h0M474.0 441.2h0M454.9 486.6h0M484.2 471.1h0M467.9 373.8h0M460.4 480.5h0M447.2 496.9h0M446.8 349.9h0M463.3 477.3h0M474.1 446.9h0M450.7 500.6h0M472.4 422.4h0M469.6 396.9h0M463.2 355.7h0M465.6 395.9h0M479.5 436.7h0M472.2 451.0h0M447.8 499.2h0M438.1 354.2h0M486.9 434.4h0M466.9 409.9h0M476.0 400.6h0M472.2 393.0h0M487.2 410.9h0M478.0 435.2h0M466.5 390.7h0M475.6 399.4h0M477.3 420.0h0M446.7 355.2h0M465.4 369.3h0M467.0 466.0h0M472.7 447.2h0M471.1 355.3h0M473.7 387.8h0M473.2 407.0h0M460.8 478.9h0M468.8 458.8h0M461.0 488.4h0M476.0 474.0h0M476.5 417.5h0M466.9 410.6h0M470.7 415.4h0M458.8 359.0h0M446.0 499.2h0M465.7 400.7h0M462.7 366.3h0M438.8 352.5h0M469.4 421.1h0M479.6 424.7h0M440.7 503.9h0M472.0 435.6h0M476.8 390.5h0M459.9 368.9h0M470.2 407.5h0M467.3 466.5h0M477.6 409.5h0M444.0 500.0h0M471.1 416.5h0M466.1 376.4h0M462.7 370.2h0M433.0 355.3h0M469.7 461.4h0M485.7 408.9h0M468.4 402.8h0M454.4 355.5h0M448.9 349.2h0M465.0 396.7h0M467.9 394.2h0M464.5 471.3h0M485.5 434.2h0M470.3 434.3h0M469.1 447.5h0M467.3 412.6h0M460.9 371.5h0M463.4 377.4h0M466.0 405.0h0M458.1 356.7h0M442.7 353.7h0M477.5 443.0h0M472.2 424.3h0M476.0 443.0h0M480.7 443.2h0M487.9 409.9h0M438.2 506.1h0M470.8 434.1h0M469.9 424.4h0M467.3 361.8h0M475.0 464.4h0M468.9 422.9h0M471.6 462.9h0M474.5 405.1h0M477.8 357.4h0M464.0 468.1h0M466.7 457.0h0M488.6 426.3h0M465.2 373.0h0M472.2 434.2h0M470.3 452.8h0M470.7 406.2h0M464.7 393.8h0M473.0 457.6h0M471.7 385.2h0M474.7 419.0h0M470.9 390.9h0M469.6 444.0h0M467.1 460.5h0M448.8 353.0h0M454.4 349.4h0M461.2 485.4h0M473.9 451.6h0M435.2 354.2h0M470.2 451.5h0M465.8 378.1h0M449.0 352.7h0M475.2 384.4h0M469.3 470.0h0M475.1 403.6h0M478.3 450.3h0M470.1 433.8h0M466.4 466.8h0M475.9 359.3h0M485.0 442.7h0M469.6 419.2h0M449.5 492.6h0M467.4 412.8h0M470.0 423.4h0M453.9 486.0h0M476.2 409.5h0M464.0 368.4h0M452.9 348.0h0M450.6 352.6h0M483.7 427.7h0M457.3 359.0h0M441.6 353.9h0M464.3 355.1h0M466.8 396.4h0M445.4 499.5h0M477.5 450.1h0M460.0 362.3h0M461.7 371.8h0M438.6 505.9h0M472.7 400.3h0M469.9 452.5h0M478.7 417.3h0M469.2 371.1h0M472.7 436.4h0M453.3 487.9h0M469.7 371.7h0M478.5 398.3h0M443.3 504.3h0M465.9 465.3h0M460.7 376.2h0M471.4 449.7h0M447.0 502.2h0M467.9 452.1h0M451.3 495.3h0M473.3 469.9h0M465.6 469.5h0M465.4 465.9h0M473.8 374.8h0M472.6 457.8h0M475.6 394.5h0M472.5 408.6h0M488.3 430.1h0M469.4 419.5h0M483.7 418.9h0M472.1 413.4h0M467.4 461.7h0M474.5 406.4h0M470.0 438.5h0M468.7 391.2h0M471.6 448.1h0M466.9 396.7h0M472.5 387.2h0M467.4 398.8h0M463.4 386.1h0M456.2 352.1h0M472.9 434.0h0M461.1 477.8h0M466.0 462.5h0M478.4 402.8h0M456.0 350.9h0M472.3 429.4h0M472.0 431.8h0M471.4 436.5h0M465.8 461.0h0M469.5 440.2h0M446.5 502.7h0M469.8 407.4h0M463.2 387.6h0M467.8 482.1h0M464.5 360.0h0M466.5 399.9h0M447.6 500.6h0M462.4 375.3h0M467.0 399.1h0M467.7 380.4h0M474.2 462.7h0M477.2 411.8h0M465.4 378.6h0M461.8 353.0h0M456.1 360.2h0M453.5 356.8h0M481.4 404.7h0M467.6 411.2h0M434.4 509.9h0M485.2 434.6h0M467.2 412.5h0M449.3 355.0h0M465.8 400.4h0M463.3 385.2h0M443.8 353.8h0M465.0 474.5h0M469.0 389.4h0M470.9 464.4h0M459.7 361.6h0M467.4 399.4h0M466.5 356.8h0M463.4 386.9h0M463.3 366.6h0M436.6 353.7h0M492.5 391.3h0M450.2 493.6h0M479.1 412.5h0M497.1 387.3h0M462.4 379.5h0M462.0 479.9h0M467.1 394.8h0M452.3 347.6h0M475.7 391.2h0M468.2 374.0h0M487.8 453.3h0M469.1 360.6h0M469.4 461.3h0M474.5 425.3h0M472.7 424.1h0M473.5 437.8h0M467.7 354.8h0M468.1 388.7h0M469.1 439.2h0M478.4 416.0h0M470.8 364.2h0M448.7 495.4h0M470.7 432.5h0M459.3 479.3h0M479.0 439.5h0M476.7 445.2h0M469.9 410.2h0M459.7 485.4h0M464.8 378.6h0M436.5 352.2h0M459.7 368.8h0M473.8 465.6h0M474.0 392.5h0M435.2 353.9h0M457.8 487.4h0M461.4 378.3h0M474.5 426.6h0M448.5 351.9h0M483.1 409.2h0M437.5 507.0h0M436.0 356.1h0M469.0 468.7h0M454.6 356.1h0M464.0 476.0h0M469.3 467.8h0M456.8 349.8h0M464.5 373.6h0M471.6 398.4h0M472.2 380.7h0M469.8 390.8h0M466.9 407.5h0M477.2 398.7h0M456.1 357.3h0M480.1 366.8h0M458.6 353.7h0M465.3 385.9h0M472.2 414.8h0M461.8 362.7h0M470.5 425.1h0M433.6 356.3h0M450.3 352.9h0M468.6 431.8h0M436.6 353.7h0M473.8 456.1h0M459.9 353.8h0M473.1 435.6h0M468.6 417.7h0M467.7 397.7h0M449.7 351.8h0M441.6 502.3h0M468.0 390.3h0M461.6 368.5h0M462.0 487.0h0M481.4 450.9h0M488.6 439.1h0M469.5 439.2h0M465.5 378.7h0M450.9 352.9h0M473.1 369.2h0M464.5 469.7h0M456.3 488.5h0M472.4 376.9h0M464.2 352.2h0M452.1 497.5h0M457.8 480.4h0M471.0 363.5h0M468.2 450.4h0M471.8 374.2h0M471.8 421.6h0M448.3 508.5h0M442.4 503.2h0M447.2 500.5h0M476.5 421.0h0M470.0 363.3h0M475.6 459.4h0M481.0 411.8h0M448.6 350.9h0M483.2 462.8h0M468.0 467.2h0M464.7 393.1h0M469.9 469.4h0M459.0 367.4h0M469.5 366.5h0M457.0 483.3h0M451.6 493.5h0M482.1 423.9h0M468.8 404.2h0M460.1 481.2h0M465.2 399.3h0M485.9 419.7h0M434.6 510.9h0M466.7 394.0h0M478.4 445.9h0M465.9 389.1h0M449.2 502.3h0M469.0 462.2h0M466.9 400.2h0M449.5 355.2h0M471.4 442.8h0M477.0 410.0h0M462.5 362.6h0M459.4 481.9h0M462.9 360.6h0M463.2 370.1h0M450.0 498.1h0M474.3 432.5h0M473.1 370.4h0M485.5 407.7h0M467.3 405.2h0M472.5 412.2h0M468.5 463.6h0M462.8 379.3h0M459.2 490.5h0M468.4 414.6h0M473.9 448.1h0M456.8 486.2h0M449.0 496.9h0M465.7 364.6h0M463.4 487.4h0M452.6 349.1h0M468.7 393.5h0M442.7 502.3h0M476.0 441.5h0M472.6 414.4h0M473.7 359.9h0M474.8 420.1h0M470.4 351.1h0M463.1 370.4h0M472.0 440.4h0M469.4 463.6h0M470.4 413.9h0M471.8 451.1h0M462.8 362.3h0M476.3 451.4h0M465.5 390.1h0M462.5 379.7h0M463.8 487.2h0M468.6 379.0h0M477.2 440.8h0M466.8 410.6h0M470.9 491.5h0M475.6 396.6h0M463.6 347.3h0M472.4 411.4h0M472.0 451.4h0M468.6 464.4h0M464.7 374.6h0M467.0 461.2h0M479.1 425.7h0M467.2 392.0h0M458.8 354.6h0M471.7 463.9h0M451.4 355.0h0M472.6 404.8h0M468.0 360.8h0M468.1 415.2h0M459.5 482.1h0M479.5 444.1h0M466.3 479.0h0M465.0 361.0h0M467.9 447.7h0M479.4 442.7h0M449.4 350.9h0M470.8 400.7h0M458.9 493.7h0M478.4 397.3h0M451.8 490.8h0M475.3 432.8h0M472.8 451.9h0M469.4 358.7h0M464.5 474.7h0M480.7 423.1h0M457.4 357.6h0M470.0 429.0h0M472.3 418.3h0M471.6 434.2h0M484.0 399.9h0M470.0 455.0h0M466.6 406.7h0M473.1 384.7h0M450.5 505.4h0M462.1 377.2h0M466.4 405.8h0M473.6 434.5h0M469.8 366.0h0M470.1 446.8h0M461.6 481.0h0M455.1 491.6h0M474.9 418.7h0M456.3 358.4h0M467.1 388.6h0M468.1 384.2h0M466.5 405.9h0M469.0 439.2h0M478.0 457.5h0M462.0 380.4h0M467.3 364.9h0M439.1 353.1h0M471.0 375.9h0M455.8 492.7h0M470.0 451.4h0M453.4 489.1h0M439.2 506.8h0M471.7 442.0h0M471.3 462.3h0M463.8 477.7h0M490.2 424.9h0M465.0 378.7h0M456.7 483.4h0M476.5 415.7h0M481.2 412.3h0M464.0 466.9h0M473.2 450.0h0M451.6 502.4h0M466.3 401.2h0M465.1 381.3h0M449.3 500.1h0M446.7 353.1h0M471.9 433.8h0M465.1 361.8h0M474.7 429.7h0M471.6 410.8h0M462.6 474.6h0M474.4 360.3h0M467.2 465.7h0M472.8 463.2h0M459.1 485.0h0M476.9 404.9h0M467.0 395.3h0M479.6 454.4h0M452.5 354.8h0M453.0 497.3h0M464.3 381.1h0M466.2 381.1h0M462.8 365.2h0M473.0 429.6h0M472.1 450.9h0M468.1 458.5h0M459.3 362.0h0M458.1 363.2h0M461.2 483.9h0M472.3 411.3h0M466.3 389.5h0M464.3 375.0h0M468.8 460.8h0M445.7 349.8h0M445.0 354.7h0M463.9 388.9h0M450.4 491.1h0M468.1 393.9h0M440.9 506.1h0M469.0 453.0h0M452.6 493.7h0M467.0 364.9h0M470.6 449.9h0M465.4 385.6h0M465.3 485.9h0M475.4 465.3h0M466.9 404.8h0M483.4 422.5h0M475.6 440.6h0M457.9 357.6h0M475.4 393.1h0M463.7 357.5h0M468.1 352.7h0M452.4 490.5h0M469.7 429.5h0M474.4 445.4h0M471.3 413.0h0M473.1 426.5h0M460.9 375.2h0M460.8 479.1h0M438.6 506.4h0M460.3 368.5h0M473.7 442.7h0M478.1 433.2h0M465.9 461.0h0M445.0 499.1h0M461.7 363.9h0M464.1 387.7h0M470.6 403.3h0M473.1 437.4h0M470.9 379.5h0M434.9 352.3h0M452.2 355.2h0M476.0 438.0h0M477.8 460.6h0M473.3 460.2h0M470.9 440.4h0M473.4 435.1h0M472.4 433.5h0M464.1 369.8h0M459.0 483.4h0M462.9 472.4h0M442.1 353.4h0M470.9 420.4h0M463.4 378.7h0M485.1 406.5h0M470.4 453.5h0M468.2 463.8h0M463.2 368.0h0M446.7 502.9h0M468.2 395.2h0M471.8 408.9h0M472.9 468.6h0M434.4 356.6h0M471.0 445.6h0M474.1 442.3h0M463.2 378.0h0M468.6 398.3h0M474.3 420.2h0M471.4 427.0h0M478.6 382.8h0M467.5 390.2h0M479.4 466.2h0M471.3 427.4h0M467.2 460.9h0M471.3 459.6h0M435.0 352.0h0M479.7 382.2h0M469.7 387.3h0M470.9 427.9h0M464.7 396.6h0M470.2 433.5h0M472.5 392.4h0M467.8 448.2h0M464.5 368.9h0M478.9 420.3h0M481.1 464.6h0M447.3 354.4h0M456.9 356.0h0M484.0 442.7h0M468.5 402.0h0M469.8 420.1h0M467.1 457.6h0M463.5 389.0h0M474.0 404.2h0M461.9 371.9h0M472.1 413.2h0M469.7 430.0h0M470.1 390.5h0M476.8 404.7h0M465.7 467.2h0M467.8 417.7h0M480.2 438.1h0M440.7 352.4h0M477.3 450.3h0M467.0 400.8h0M463.8 487.0h0M469.0 461.8h0M446.1 498.6h0M468.2 400.5h0M465.4 385.6h0M468.8 419.5h0M463.2 353.9h0M477.3 430.6h0M471.1 404.8h0M465.1 374.5h0M469.7 430.9h0M475.4 424.0h0M466.6 403.1h0M438.2 507.0h0M476.7 439.9h0M453.2 492.7h0M465.4 373.7h0M437.2 508.3h0M471.4 418.4h0M436.6 507.1h0M451.4 504.0h0M464.1 466.9h0M469.8 423.2h0M471.0 430.0h0M471.4 388.8h0M447.1 355.2h0M462.7 385.0h0M470.0 419.8h0M472.8 453.0h0M477.1 427.0h0M462.6 372.1h0M471.3 360.9h0M468.5 397.4h0M470.4 407.5h0M453.9 488.2h0M475.6 470.2h0M466.8 477.3h0M471.1 397.5h0M445.3 499.4h0M473.0 445.1h0M469.3 380.1h0M467.2 395.9h0M473.1 458.8h0M466.7 470.0h0M479.2 405.7h0M436.0 350.3h0M471.5 448.4h0M465.3 368.6h0M476.4 441.2h0M485.1 407.5h0M469.0 483.7h0M458.1 480.0h0M472.6 393.1h0M473.5 408.4h0M470.8 392.2h0M458.6 357.5h0M472.4 396.9h0M469.5 443.4h0M467.5 464.0h0M473.3 453.8h0M466.2 459.5h0M439.6 504.7h0M445.4 354.7h0M437.3 507.2h0M466.5 480.8h0M453.6 488.2h0M476.8 434.7h0M428.5 355.9h0M467.8 467.1h0M452.7 354.6h0M467.2 396.4h0M457.2 488.1h0M473.6 384.1h0M469.6 414.3h0M477.1 414.7h0M475.0 441.0h0M476.5 412.7h0M468.9 437.4h0M468.1 455.4h0M470.5 392.1h0M465.9 382.8h0M439.4 351.7h0M470.4 420.4h0M473.2 388.7h0M466.7 401.0h0M455.2 487.7h0M476.1 380.2h0M470.1 400.4h0M469.4 458.0h0M461.3 357.6h0M458.1 361.3h0M467.4 464.8h0M474.5 422.9h0M457.5 493.5h0M479.8 467.7h0M471.5 416.9h0M483.7 437.1h0M447.7 495.8h0M470.1 461.6h0M475.4 437.5h0M481.1 413.1h0M447.7 352.0h0M449.8 349.3h0M470.6 396.8h0M468.6 443.2h0M471.8 439.1h0M473.7 440.6h0M467.6 468.8h0M469.3 418.6h0M466.1 373.1h0M473.8 410.1h0M464.1 392.7h0M467.5 401.8h0M462.8 374.9h0M460.5 352.1h0M473.3 429.1h0M466.2 390.0h0M469.7 346.9h0M464.4 390.2h0M461.6 368.1h0M466.8 356.9h0M473.7 381.7h0M470.3 368.4h0M466.7 368.2h0M438.7 354.2h0M486.7 419.0h0M456.4 355.5h0M433.5 356.7h0M460.9 370.7h0M452.9 493.6h0M433.8 511.0h0M467.3 413.0h0M471.4 402.9h0M462.8 380.2h0M466.8 384.5h0M466.5 472.0h0M434.9 509.6h0M470.6 442.9h0M479.4 381.4h0M452.4 503.7h0M476.1 442.1h0M476.8 377.3h0M453.3 494.5h0M469.7 417.9h0M454.3 351.3h0M491.5 432.2h0M464.0 378.4h0M478.1 415.1h0M454.2 354.7h0M464.4 390.6h0M451.2 346.8h0M462.7 480.6h0M466.6 408.5h0M442.7 353.7h0M469.4 399.6h0M466.2 393.9h0M465.3 469.0h0M460.6 346.8h0M476.0 447.8h0M467.2 454.7h0M452.8 356.1h0M464.3 373.7h0M478.6 421.9h0M469.6 412.1h0M474.2 469.3h0M467.3 464.8h0M473.0 398.2h0M479.2 455.8h0M473.3 442.3h0M476.9 401.2h0M439.7 352.4h0M480.0 471.3h0M446.6 498.7h0M466.0 364.7h0M460.4 484.9h0M453.7 491.7h0M468.0 420.3h0M467.0 379.7h0M456.1 354.9h0M470.9 361.1h0M460.2 366.6h0M449.0 497.9h0M472.2 458.2h0M470.9 443.2h0M474.4 439.6h0M470.5 422.0h0M469.0 383.0h0M439.5 505.4h0M464.1 377.5h0M470.8 406.9h0M464.6 393.0h0M467.0 374.2h0M449.7 494.6h0M478.6 383.3h0M464.0 359.9h0M468.7 414.5h0M469.5 461.9h0M458.9 365.3h0M474.9 373.3h0M468.1 386.3h0M462.8 470.5h0M468.4 469.6h0M467.0 458.0h0M432.8 355.8h0M460.3 485.6h0M472.9 459.8h0M468.9 470.2h0M450.7 354.6h0M470.2 401.7h0M475.7 433.9h0M455.7 487.9h0M452.9 353.9h0M479.6 398.8h0M461.4 376.7h0M449.6 502.2h0M473.4 461.3h0M461.7 370.0h0M471.5 401.8h0M471.7 424.2h0M469.0 394.4h0M463.2 484.1h0M475.3 457.2h0M476.3 415.0h0M471.4 405.1h0M464.7 473.7h0M469.7 461.2h0M473.3 394.7h0M490.5 433.7h0M469.4 420.3h0M466.9 468.2h0M474.5 462.1h0M472.0 370.8h0M460.2 475.2h0M462.9 473.8h0M482.6 404.1h0M443.7 504.5h0M466.4 409.4h0M482.9 467.6h0M474.4 465.9h0M462.2 375.8h0M460.0 479.4h0M462.2 377.2h0M467.1 374.2h0M456.4 487.5h0M471.5 489.2h0M468.4 456.7h0M434.4 355.7h0M455.2 491.7h0M470.9 450.0h0M469.6 389.1h0M479.0 464.3h0M460.0 361.7h0M469.3 401.9h0M466.6 384.1h0M460.9 374.1h0M474.8 427.6h0M469.0 374.1h0M470.6 424.7h0M466.0 398.0h0M455.7 352.7h0M448.7 352.6h0M464.3 371.4h0M480.2 431.0h0M469.6 404.1h0M461.3 375.8h0M476.4 446.5h0M454.8 491.7h0M470.3 441.5h0M479.0 418.4h0M465.3 382.3h0M463.6 470.4h0M471.3 447.9h0M477.5 401.4h0M453.8 489.3h0M458.5 481.6h0M459.6 364.0h0M436.1 355.4h0M481.2 395.4h0M460.4 368.5h0M473.3 389.4h0M432.4 355.6h0M466.9 410.4h0M466.1 353.2h0M481.6 392.6h0M465.4 475.9h0M477.6 408.1h0M471.1 435.3h0M488.5 452.6h0M458.2 365.3h0M467.6 467.8h0M471.2 437.5h0M465.2 389.2h0M449.1 503.5h0M490.8 409.0h0M461.4 355.1h0M477.9 403.2h0M448.9 493.8h0M473.4 418.8h0M468.1 480.3h0M473.2 440.9h0M476.6 453.5h0M453.0 492.7h0M458.2 362.1h0M466.3 461.6h0M472.1 411.8h0M460.9 366.8h0M464.0 471.7h0M465.7 404.2h0M468.4 421.5h0M474.4 439.8h0M469.3 408.5h0M477.0 439.7h0M467.8 404.8h0M437.9 353.1h0M470.6 428.7h0M468.4 399.0h0M467.4 390.2h0M464.1 481.6h0M476.0 413.2h0M455.2 488.8h0M439.9 506.6h0M474.8 445.0h0M470.3 393.2h0M457.1 487.3h0M472.9 419.7h0M439.2 352.5h0M452.5 349.2h0M461.3 376.3h0M469.2 407.7h0M463.8 484.7h0M468.5 404.0h0M476.1 402.8h0M466.8 393.3h0M462.9 386.0h0M476.0 400.0h0M450.1 502.7h0M456.5 483.6h0M464.1 379.3h0M473.9 431.5h0M465.9 469.8h0M468.6 457.5h0M472.4 393.3h0M475.6 387.5h0M460.7 486.8h0M474.1 458.6h0M458.2 363.4h0M477.6 374.8h0M470.2 387.5h0M454.5 491.4h0M478.0 414.2h0M471.2 397.6h0M435.9 508.0h0M473.6 383.7h0M473.8 396.5h0M463.9 467.5h0M466.1 364.3h0M471.8 458.9h0M468.7 455.8h0M469.7 397.0h0M473.2 407.1h0M453.9 506.7h0M469.5 436.9h0M476.7 418.5h0M472.2 415.2h0M473.8 415.1h0M462.8 378.7h0M460.9 374.6h0M478.2 407.2h0M475.3 467.7h0M465.8 393.7h0M454.8 486.1h0M445.0 499.2h0M480.9 460.9h0M475.0 408.0h0M438.4 352.8h0M470.9 395.0h0M470.5 432.9h0M475.9 395.8h0M468.6 388.7h0M486.1 448.7h0M464.5 383.5h0M482.9 442.2h0M474.2 418.5h0M469.9 452.2h0M467.1 393.6h0M460.7 473.1h0M467.7 364.9h0M476.8 417.6h0M464.7 477.7h0M451.4 352.9h0M470.2 378.4h0M476.5 439.0h0M466.2 473.9h0M460.7 486.1h0M460.4 369.0h0M463.7 371.8h0M476.0 429.0h0M467.1 469.5h0M442.2 350.6h0M477.0 408.8h0M440.2 353.7h0M455.0 485.7h0M467.3 365.3h0M456.7 484.8h0M472.9 378.6h0M485.5 447.7h0M467.3 394.0h0M472.6 460.4h0M460.1 359.3h0M470.8 426.5h0M465.4 402.1h0M450.5 354.2h0M465.8 361.1h0M484.6 445.6h0M468.8 386.1h0M457.3 491.2h0M468.2 470.0h0M465.3 392.2h0M452.1 493.5h0M457.8 363.3h0M468.1 463.0h0M481.0 429.1h0M467.8 459.2h0M459.5 354.3h0M461.8 366.3h0M474.5 453.9h0M468.1 418.7h0M441.6 352.3h0M475.5 440.2h0M470.9 434.4h0M459.7 475.5h0M471.1 442.1h0M475.7 457.8h0M469.2 403.9h0M474.0 429.2h0M461.0 477.9h0M467.6 372.0h0M477.5 415.7h0M467.3 459.8h0M469.8 462.8h0M460.5 370.6h0M471.1 395.1h0M468.5 460.4h0M476.0 369.5h0M469.5 429.7h0M458.9 350.9h0M469.2 423.1h0M478.0 444.6h0M463.0 386.7h0M463.4 365.9h0M468.6 399.9h0M468.7 391.3h0M458.3 365.8h0M475.7 417.3h0M461.8 370.6h0M468.8 433.0h0M468.4 379.2h0M476.6 443.0h0M467.0 396.9h0M466.3 379.6h0M451.0 496.0h0M488.2 451.4h0M478.2 414.2h0M461.7 379.8h0M462.2 378.8h0M475.1 418.0h0M468.2 376.8h0M472.9 432.4h0M443.1 503.5h0M460.1 474.5h0M472.0 426.9h0M470.5 389.3h0M471.5 400.5h0M472.5 408.7h0M471.5 430.9h0M470.4 404.7h0M479.5 401.2h0M472.5 470.4h0M470.9 412.8h0M471.2 438.9h0M465.7 462.5h0M464.8 389.4h0M479.5 413.4h0M476.1 450.9h0M481.4 442.4h0M455.7 347.4h0M468.7 459.8h0M443.5 502.6h0M462.3 379.4h0M468.8 415.7h0M464.3 482.6h0M473.1 409.7h0M471.3 390.0h0M448.1 496.0h0M445.0 501.9h0M455.2 359.2h0M468.5 462.9h0M467.8 364.1h0M450.7 352.7h0M473.3 433.3h0M445.5 354.1h0M472.2 397.0h0M474.4 479.9h0M447.1 497.1h0M477.7 401.5h0M473.0 450.5h0M467.9 366.4h0M479.0 442.6h0M464.2 467.6h0M465.1 361.5h0M475.0 427.5h0M476.2 452.8h0M469.5 394.6h0M466.2 400.3h0M469.7 368.5h0M471.7 354.8h0M478.5 474.7h0M459.6 482.7h0M461.9 479.2h0M477.7 394.0h0M467.8 392.7h0M465.6 390.8h0M473.2 439.3h0M465.5 372.3h0M481.0 407.1h0M469.8 359.3h0M468.3 446.4h0M470.3 451.7h0M456.9 351.4h0M466.6 364.9h0M464.1 382.0h0M471.6 408.9h0M476.8 405.2h0M466.7 400.4h0M479.0 421.5h0M470.1 433.1h0M468.1 391.7h0M463.6 388.0h0M467.0 374.0h0M464.5 392.6h0M462.9 371.4h0M473.4 459.6h0M465.1 374.4h0M464.3 386.5h0M465.7 371.9h0M451.1 491.0h0M460.0 491.3h0M469.9 438.7h0M469.7 414.1h0M463.7 364.9h0M476.9 420.5h0M463.2 384.3h0M462.6 359.9h0M465.9 484.2h0M459.6 361.2h0M466.0 406.0h0M474.3 396.8h0M464.7 498.1h0M476.4 389.5h0M475.6 420.4h0M465.0 386.0h0M446.8 355.0h0M453.0 357.0h0M482.3 398.3h0M475.1 440.9h0M464.0 360.3h0M448.5 495.1h0M487.8 374.5h0M452.8 492.4h0M468.8 416.5h0M466.7 383.6h0M478.8 401.8h0M468.3 428.7h0M462.8 374.5h0M458.0 346.6h0M475.2 407.4h0M475.2 418.4h0M465.3 387.8h0M468.5 389.5h0M456.7 488.0h0M459.7 476.7h0M437.6 509.3h0M465.2 399.7h0M464.7 354.3h0M461.7 485.7h0M467.7 459.2h0M479.9 396.3h0M468.9 408.8h0M469.4 461.7h0M467.7 455.4h0M445.5 353.0h0M453.0 489.8h0M467.8 471.8h0M433.7 350.2h0M458.0 480.0h0M471.5 461.8h0M469.7 417.9h0M471.7 389.3h0M466.0 394.8h0M473.7 411.7h0M469.2 458.3h0M464.7 379.4h0M466.9 454.2h0M457.2 488.5h0M463.3 386.0h0M471.0 394.8h0M469.3 437.1h0M468.8 373.5h0M475.4 439.7h0M437.1 510.3h0M465.6 402.5h0M467.0 397.3h0M471.9 445.4h0M470.6 427.9h0M468.1 383.2h0M472.4 412.5h0M475.5 457.0h0M480.5 407.9h0M471.1 438.4h0M473.1 454.4h0M456.3 484.0h0M464.9 389.1h0M460.6 364.6h0M484.2 423.3h0M462.3 371.6h0M469.7 438.6h0M444.3 354.3h0M454.4 350.2h0M470.8 447.4h0M473.5 467.2h0M477.4 394.4h0M464.1 360.7h0M477.4 364.7h0M463.1 384.8h0M469.6 382.6h0M466.0 462.4h0M435.3 515.7h0M469.5 444.2h0M471.0 426.3h0M462.8 367.9h0M466.2 395.0h0M476.8 411.1h0M464.8 480.3h0M470.7 440.5h0M474.5 431.3h0M463.1 482.8h0M459.5 483.9h0M472.0 413.7h0M460.7 367.7h0M447.2 354.9h0M480.7 417.9h0M441.8 354.9h0M480.7 469.0h0M477.9 436.7h0M472.2 428.9h0M467.6 381.1h0M460.6 365.7h0M450.1 355.5h0M476.7 384.4h0M467.0 469.6h0M469.0 462.5h0M457.8 483.9h0M461.6 376.3h0M508.8 356.7h0M432.0 349.3h0M440.0 349.3h0M447.0 349.3h0M363.0 349.0h0M341.0 467.0h0M372.0 358.0h0M377.0 357.0h0M381.0 356.0h0" stroke="#000" stroke-width="1.5" stroke-linecap="round" opacity="0.85"/><path d="M359.8 394.4h0M352.1 439.5h0M356.7 452.2h0M363.1 452.5h0M363.5 408.2h0M348.7 374.0h0M366.6 444.4h0M359.6 440.2h0M361.1 432.9h0M362.4 436.1h0M363.4 440.0h0M353.3 458.7h0M366.2 452.0h0M359.7 419.0h0M360.1 376.3h0M362.1 423.7h0M350.5 440.9h0M353.8 373.7h0M366.8 456.6h0M366.2 388.8h0M366.7 425.4h0M365.4 375.2h0M358.3 438.2h0M360.3 385.4h0M356.4 422.7h0M364.2 383.6h0M364.6 429.9h0M359.7 388.2h0M358.2 374.9h0M366.2 384.5h0M364.1 417.7h0M353.8 422.5h0M365.3 397.7h0M359.0 369.3h0M366.7 373.0h0M366.9 451.2h0M352.5 440.8h0M357.9 420.6h0M362.9 425.3h0M365.5 419.2h0M358.8 399.5h0M361.9 405.4h0M363.1 412.6h0M356.9 431.8h0M362.9 440.0h0M365.5 398.5h0M354.0 445.8h0M358.0 379.9h0M356.5 445.2h0M358.4 388.1h0M365.9 415.5h0M365.5 386.0h0M362.4 421.5h0M362.2 415.6h0M361.9 404.1h0M367.0 420.3h0M358.6 433.8h0M353.2 436.9h0M353.1 457.9h0M367.0 455.6h0M366.9 412.5h0M355.9 424.0h0M353.9 401.9h0M359.2 427.7h0M359.7 438.3h0M364.5 380.3h0M365.1 442.5h0M358.6 371.2h0M358.7 419.8h0M360.1 397.1h0M359.9 431.4h0M366.2 402.1h0M362.4 450.9h0M364.3 380.5h0M358.1 402.2h0M354.9 379.5h0M354.6 428.2h0M360.3 455.1h0M355.8 448.3h0M360.7 404.8h0M363.8 417.6h0M358.1 449.5h0M361.6 397.7h0M364.3 440.9h0M354.7 451.4h0M351.6 381.2h0M364.7 441.5h0M366.6 378.8h0M355.8 452.0h0M362.1 415.0h0M365.8 454.7h0M343.0 412.9h0M348.8 388.5h0M364.4 419.9h0M363.7 432.8h0M358.5 454.3h0M348.2 446.3h0M360.8 443.4h0M364.3 383.9h0M359.2 441.8h0M358.5 395.4h0M358.5 392.2h0M364.7 383.4h0M364.0 440.8h0M362.7 430.0h0M357.4 405.4h0M362.4 442.2h0M357.5 436.8h0M357.5 372.8h0M365.4 417.0h0M360.7 380.1h0M358.7 441.5h0M356.4 410.8h0M357.7 459.2h0M366.4 430.1h0M349.4 414.7h0M367.0 409.0h0M359.4 438.2h0M361.6 444.3h0M357.1 400.2h0M362.5 379.8h0M361.8 370.0h0M360.6 394.6h0M365.8 396.2h0M362.6 417.0h0M359.2 417.7h0M357.4 450.8h0M356.1 390.2h0M357.2 379.2h0M354.5 428.5h0M361.2 368.7h0M363.3 377.4h0M360.0 435.4h0M362.6 409.7h0M354.0 373.2h0M366.7 386.0h0M363.5 377.6h0M364.6 447.9h0M350.0 441.9h0M365.5 378.1h0M360.8 415.9h0M358.2 385.9h0M360.5 436.8h0M356.9 405.6h0M346.1 409.7h0M358.0 419.3h0M364.6 369.6h0M346.8 374.9h0M360.0 455.8h0M366.4 414.6h0M361.9 416.1h0M362.3 373.5h0M366.6 386.1h0M361.5 425.3h0M359.4 381.1h0M365.4 378.3h0M366.5 412.6h0M344.5 437.9h0M366.8 414.3h0M365.2 403.1h0M356.9 419.6h0M352.1 447.4h0M359.7 406.3h0M349.5 377.4h0M364.5 450.1h0M353.4 446.2h0M352.4 431.8h0M360.1 387.5h0M354.5 388.3h0M361.8 393.5h0M494.8 413.6h0M498.1 453.5h0M497.6 411.8h0M491.4 446.1h0M494.6 407.0h0M503.2 457.5h0M499.1 406.6h0M493.1 442.9h0M336.2 376.0h0M338.0 384.5h0M337.0 394.0h0M339.5 409.0h0M335.5 421.0h0M346.0 384.5h0M344.5 399.0h0M346.0 417.5h0M347.7 429.0h0" stroke="#c03838" stroke-width="1.6" stroke-linecap="round" opacity="0.85"/></svg>
</body></html>
